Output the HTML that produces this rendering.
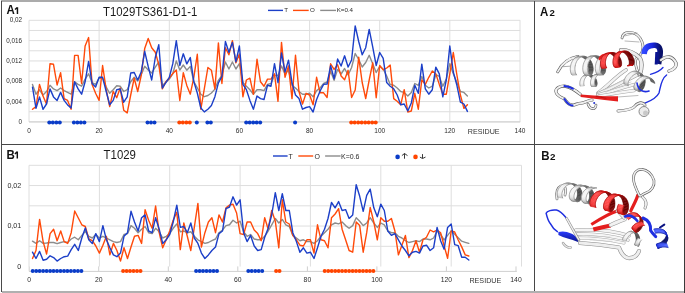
<!DOCTYPE html><html><head><meta charset="utf-8"><style>html,body{margin:0;padding:0;background:#fff;width:685px;height:293px;overflow:hidden}svg{display:block;font-family:'Liberation Sans', sans-serif;will-change:transform}</style></head><body><svg width="685" height="293" viewBox="0 0 685 293" font-family="'Liberation Sans', sans-serif">
<rect width="685" height="293" fill="#fff"/>
<line x1="29.0" y1="20.3" x2="520.2" y2="20.3" stroke="#dedede" stroke-width="1"/>
<line x1="29.0" y1="30.46" x2="520.2" y2="30.46" stroke="#dedede" stroke-width="1"/>
<line x1="29.0" y1="40.620000000000005" x2="520.2" y2="40.620000000000005" stroke="#dedede" stroke-width="1"/>
<line x1="29.0" y1="50.78" x2="520.2" y2="50.78" stroke="#dedede" stroke-width="1"/>
<line x1="29.0" y1="60.94" x2="520.2" y2="60.94" stroke="#dedede" stroke-width="1"/>
<line x1="29.0" y1="71.1" x2="520.2" y2="71.1" stroke="#dedede" stroke-width="1"/>
<line x1="29.0" y1="81.26" x2="520.2" y2="81.26" stroke="#dedede" stroke-width="1"/>
<line x1="29.0" y1="91.42" x2="520.2" y2="91.42" stroke="#dedede" stroke-width="1"/>
<line x1="29.0" y1="101.58" x2="520.2" y2="101.58" stroke="#dedede" stroke-width="1"/>
<line x1="29.0" y1="111.74" x2="520.2" y2="111.74" stroke="#dedede" stroke-width="1"/>
<line x1="29.0" y1="121.89999999999999" x2="520.2" y2="121.89999999999999" stroke="#dedede" stroke-width="1"/>
<line x1="29.0" y1="20.3" x2="29.0" y2="121.89999999999999" stroke="#dedede" stroke-width="1"/>
<line x1="99.1" y1="20.3" x2="99.1" y2="121.89999999999999" stroke="#dedede" stroke-width="1"/>
<line x1="169.3" y1="20.3" x2="169.3" y2="121.89999999999999" stroke="#dedede" stroke-width="1"/>
<line x1="239.4" y1="20.3" x2="239.4" y2="121.89999999999999" stroke="#dedede" stroke-width="1"/>
<line x1="309.6" y1="20.3" x2="309.6" y2="121.89999999999999" stroke="#dedede" stroke-width="1"/>
<line x1="379.7" y1="20.3" x2="379.7" y2="121.89999999999999" stroke="#dedede" stroke-width="1"/>
<line x1="449.8" y1="20.3" x2="449.8" y2="121.89999999999999" stroke="#dedede" stroke-width="1"/>
<line x1="520.0" y1="20.3" x2="520.0" y2="121.89999999999999" stroke="#dedede" stroke-width="1"/>
<text x="22" y="22.099999999999998" font-size="6.3" text-anchor="end" fill="#2a2a2a" font-weight="normal" >0,02</text>
<text x="22" y="42.800000000000004" font-size="6.3" text-anchor="end" fill="#2a2a2a" font-weight="normal" >0,016</text>
<text x="22" y="63.1" font-size="6.3" text-anchor="end" fill="#2a2a2a" font-weight="normal" >0,012</text>
<text x="22" y="83.4" font-size="6.3" text-anchor="end" fill="#2a2a2a" font-weight="normal" >0,008</text>
<text x="22" y="103.7" font-size="6.3" text-anchor="end" fill="#2a2a2a" font-weight="normal" >0,004</text>
<text x="22" y="124.10000000000001" font-size="6.3" text-anchor="end" fill="#2a2a2a" font-weight="normal" >0</text>
<text x="29.0" y="133.2" font-size="6.5" text-anchor="middle" fill="#2a2a2a" font-weight="normal" >0</text>
<text x="99.1" y="133.2" font-size="6.5" text-anchor="middle" fill="#2a2a2a" font-weight="normal" >20</text>
<text x="169.3" y="133.2" font-size="6.5" text-anchor="middle" fill="#2a2a2a" font-weight="normal" >40</text>
<text x="239.4" y="133.2" font-size="6.5" text-anchor="middle" fill="#2a2a2a" font-weight="normal" >60</text>
<text x="309.6" y="133.2" font-size="6.5" text-anchor="middle" fill="#2a2a2a" font-weight="normal" >80</text>
<text x="379.7" y="133.2" font-size="6.5" text-anchor="middle" fill="#2a2a2a" font-weight="normal" >100</text>
<text x="449.8" y="133.2" font-size="6.5" text-anchor="middle" fill="#2a2a2a" font-weight="normal" >120</text>
<text x="520.0" y="133.2" font-size="6.5" text-anchor="middle" fill="#2a2a2a" font-weight="normal" >140</text>
<line x1="29.0" y1="121.9" x2="520.2" y2="121.9" stroke="#cfcfcf" stroke-width="1"/>
<polyline points="32.5,84.4 36.0,94.2 39.5,89.8 43.0,95.1 46.5,91.5 50.0,85.3 53.5,88.9 57.1,90.6 60.6,88.0 64.1,90.6 67.6,92.4 71.1,94.2 74.6,81.8 78.1,84.4 81.6,86.2 85.1,79.1 88.6,73.8 92.1,82.7 95.6,84.4 99.1,78.2 102.6,78.2 106.2,87.1 109.7,93.3 113.2,89.7 116.7,85.8 120.2,86.2 123.7,91.5 127.2,89.7 130.7,81.8 134.2,77.3 137.7,80.9 141.2,74.7 144.7,66.3 148.2,70.0 151.7,73.0 155.3,67.2 158.8,62.0 162.3,85.3 165.8,82.6 169.3,79.1 172.8,73.8 176.3,61.0 179.8,70.0 183.3,65.0 186.8,70.2 190.3,66.4 193.8,81.6 197.3,87.9 200.8,94.2 204.3,96.7 207.9,95.5 211.4,93.0 214.9,89.1 218.4,80.3 221.9,75.3 225.4,62.0 228.9,69.0 232.4,62.0 235.9,69.0 239.4,63.7 242.9,82.6 246.4,86.2 249.9,89.7 253.4,94.2 257.0,89.7 260.5,89.7 264.0,90.6 267.5,84.4 271.0,83.5 274.5,75.5 278.0,75.5 281.5,66.0 285.0,74.0 288.5,70.0 292.0,85.3 295.5,88.0 299.0,91.5 302.5,94.2 306.1,94.2 309.6,93.3 313.1,96.8 316.6,90.6 320.1,88.0 323.6,83.5 327.1,82.0 330.6,71.3 334.1,80.3 337.6,69.4 341.1,74.0 344.6,68.5 348.1,75.0 351.6,67.5 355.2,53.5 358.7,59.5 362.2,67.0 365.7,62.5 369.2,55.3 372.7,63.7 376.2,72.5 379.7,66.3 383.2,69.0 386.7,76.0 390.2,84.4 393.7,85.3 397.2,88.0 400.7,91.5 404.2,92.4 407.8,96.0 411.3,92.4 414.8,83.5 418.3,85.3 421.8,76.4 425.3,85.3 428.8,88.0 432.3,86.2 435.8,74.7 439.3,76.4 442.8,86.2 446.3,79.0 449.8,63.7 453.3,73.8 456.9,82.6 460.4,91.5 463.9,92.4 467.4,96.0" fill="none" stroke="#8c8c8c" stroke-width="1.4" stroke-linejoin="round" stroke-linecap="round"/>
<polyline points="32.5,109.3 36.0,106.6 39.5,84.4 43.0,96.0 46.5,104.0 50.0,63.7 53.5,64.3 57.1,85.0 60.6,72.6 64.1,98.6 67.6,100.4 71.1,109.3 74.6,55.4 78.1,55.4 81.6,83.5 85.1,46.0 88.6,37.6 92.1,84.4 95.6,93.3 99.1,100.4 102.6,65.5 106.2,89.7 109.7,106.6 113.2,91.5 116.7,97.7 120.2,88.0 123.7,110.2 127.2,112.9 130.7,95.0 134.2,78.2 137.7,91.5 141.2,75.5 144.7,48.6 148.2,38.5 151.7,47.7 155.3,52.2 158.8,64.6 162.3,88.9 165.8,81.8 169.3,78.2 172.8,73.4 176.3,70.0 179.8,100.5 183.3,72.7 186.8,85.4 190.3,94.2 193.8,77.3 197.3,54.3 200.8,109.3 204.3,88.8 207.9,67.5 211.4,70.2 214.9,89.1 218.4,42.9 221.9,83.5 225.4,47.7 228.9,54.8 232.4,40.6 235.9,62.8 239.4,54.0 242.9,96.8 246.4,80.0 249.9,78.2 253.4,94.2 257.0,59.2 260.5,81.8 264.0,86.2 267.5,79.1 271.0,79.1 274.5,73.8 278.0,101.3 281.5,42.4 285.0,77.3 288.5,66.0 292.0,98.6 295.5,55.3 299.0,91.5 302.5,104.0 306.1,93.3 309.6,95.0 313.1,104.8 316.6,77.3 320.1,92.8 323.6,92.8 327.1,97.5 330.6,63.8 334.1,69.4 337.6,64.7 341.1,76.0 344.6,79.7 348.1,70.3 351.6,97.5 355.2,90.0 358.7,57.2 362.2,82.5 365.7,98.5 369.2,80.0 372.7,62.8 376.2,97.7 379.7,65.5 383.2,69.9 386.7,68.0 390.2,65.1 393.7,98.6 397.2,101.3 400.7,104.8 404.2,89.7 407.8,112.0 411.3,111.0 414.8,93.3 418.3,109.2 421.8,80.0 425.3,84.4 428.8,77.3 432.3,71.0 435.8,73.8 439.3,84.4 442.8,94.2 446.3,94.2 449.8,73.8 453.3,52.5 456.9,75.0 460.4,95.0 463.9,108.4 467.4,104.8" fill="none" stroke="#ff4a0a" stroke-width="1.4" stroke-linejoin="round" stroke-linecap="round"/>
<polyline points="32.5,87.1 36.0,108.4 39.5,96.9 43.0,109.3 46.5,104.0 50.0,88.9 53.5,96.9 57.1,100.4 60.6,92.4 64.1,100.4 67.6,104.9 71.1,108.0 74.6,81.8 78.1,88.9 81.6,94.2 85.1,81.8 88.6,61.4 92.1,83.5 95.6,87.0 99.1,77.3 102.6,77.3 106.2,91.5 109.7,104.8 113.2,100.4 116.7,89.7 120.2,88.9 123.7,102.2 127.2,96.8 130.7,73.0 134.2,72.5 137.7,80.0 141.2,72.0 144.7,51.3 148.2,66.5 151.7,80.0 155.3,57.5 158.8,44.7 162.3,88.0 165.8,82.6 169.3,77.3 172.8,63.7 176.3,40.6 179.8,65.5 183.3,53.8 186.8,63.9 190.3,57.6 193.8,81.6 197.3,93.0 200.8,108.0 204.3,111.9 207.9,109.3 211.4,105.6 214.9,96.7 218.4,82.8 221.9,76.5 225.4,41.5 228.9,52.2 232.4,42.4 235.9,61.9 239.4,46.0 242.9,84.4 246.4,89.7 249.9,100.4 253.4,109.2 257.0,96.0 260.5,98.6 264.0,99.5 267.5,85.3 271.0,86.2 274.5,63.7 278.0,82.6 281.5,53.0 285.0,72.0 288.5,60.1 292.0,82.6 295.5,95.0 299.0,98.6 302.5,109.2 306.1,107.5 309.6,106.6 313.1,112.0 316.6,99.5 320.1,91.0 323.6,84.4 327.1,84.0 330.6,65.6 334.1,78.8 337.6,59.0 341.1,66.0 344.6,55.8 348.1,67.0 351.6,60.0 355.2,25.9 358.7,41.5 362.2,54.8 365.7,47.7 369.2,29.4 372.7,46.8 376.2,65.5 379.7,52.5 383.2,58.4 386.7,82.6 390.2,86.2 393.7,88.8 397.2,95.0 400.7,104.8 404.2,104.0 407.8,111.0 411.3,103.0 414.8,85.3 418.3,93.3 421.8,64.2 425.3,88.8 428.8,94.2 432.3,89.7 435.8,67.2 439.3,73.8 442.8,96.8 446.3,80.0 449.8,46.0 453.3,72.0 456.9,85.3 460.4,102.2 463.9,104.0 467.4,111.4" fill="none" stroke="#1c3fc8" stroke-width="1.4" stroke-linejoin="round" stroke-linecap="round"/>
<circle cx="49.3" cy="122.5" r="2.0" fill="#0a3cc8"/>
<circle cx="52.8" cy="122.5" r="2.0" fill="#0a3cc8"/>
<circle cx="56.3" cy="122.5" r="2.0" fill="#0a3cc8"/>
<circle cx="59.8" cy="122.5" r="2.0" fill="#0a3cc8"/>
<circle cx="73.9" cy="122.5" r="2.0" fill="#0a3cc8"/>
<circle cx="77.4" cy="122.5" r="2.0" fill="#0a3cc8"/>
<circle cx="80.9" cy="122.5" r="2.0" fill="#0a3cc8"/>
<circle cx="84.4" cy="122.5" r="2.0" fill="#0a3cc8"/>
<circle cx="147.5" cy="122.5" r="2.0" fill="#0a3cc8"/>
<circle cx="151.0" cy="122.5" r="2.0" fill="#0a3cc8"/>
<circle cx="154.5" cy="122.5" r="2.0" fill="#0a3cc8"/>
<circle cx="196.8" cy="122.5" r="2.0" fill="#0a3cc8"/>
<circle cx="207.4" cy="122.5" r="2.0" fill="#0a3cc8"/>
<circle cx="210.8" cy="122.5" r="2.0" fill="#0a3cc8"/>
<circle cx="246.2" cy="122.5" r="2.0" fill="#0a3cc8"/>
<circle cx="249.7" cy="122.5" r="2.0" fill="#0a3cc8"/>
<circle cx="253.2" cy="122.5" r="2.0" fill="#0a3cc8"/>
<circle cx="256.7" cy="122.5" r="2.0" fill="#0a3cc8"/>
<circle cx="260.2" cy="122.5" r="2.0" fill="#0a3cc8"/>
<circle cx="295.1" cy="122.5" r="2.0" fill="#0a3cc8"/>
<circle cx="179.3" cy="122.5" r="2.0" fill="#ff4500"/>
<circle cx="182.8" cy="122.5" r="2.0" fill="#ff4500"/>
<circle cx="186.3" cy="122.5" r="2.0" fill="#ff4500"/>
<circle cx="189.8" cy="122.5" r="2.0" fill="#ff4500"/>
<circle cx="351.2" cy="122.5" r="2.0" fill="#ff4500"/>
<circle cx="354.7" cy="122.5" r="2.0" fill="#ff4500"/>
<circle cx="358.2" cy="122.5" r="2.0" fill="#ff4500"/>
<circle cx="361.7" cy="122.5" r="2.0" fill="#ff4500"/>
<circle cx="365.2" cy="122.5" r="2.0" fill="#ff4500"/>
<circle cx="368.7" cy="122.5" r="2.0" fill="#ff4500"/>
<circle cx="372.2" cy="122.5" r="2.0" fill="#ff4500"/>
<circle cx="375.7" cy="122.5" r="2.0" fill="#ff4500"/>
<text x="103" y="15.7" font-size="12.4" text-anchor="start" fill="#1a1a1a" font-weight="normal" textLength="94.3" lengthAdjust="spacingAndGlyphs">T1029TS361-D1-1</text>
<line x1="268" y1="10.4" x2="283" y2="10.4" stroke="#1c3fc8" stroke-width="1.4"/>
<text x="284.2" y="12.4" font-size="6.2" text-anchor="start" fill="#2a2a2a" font-weight="normal" >T</text>
<line x1="293" y1="10.4" x2="308.7" y2="10.4" stroke="#ff4a0a" stroke-width="1.4"/>
<text x="310" y="12.4" font-size="6.2" text-anchor="start" fill="#2a2a2a" font-weight="normal" >O</text>
<line x1="320.2" y1="10.4" x2="336" y2="10.4" stroke="#8c8c8c" stroke-width="1.4"/>
<text x="336.7" y="12.4" font-size="6.2" text-anchor="start" fill="#2a2a2a" font-weight="normal" >K=0.4</text>
<text x="467.8" y="133.7" font-size="8.0" text-anchor="start" fill="#333" font-weight="normal" textLength="31.8" lengthAdjust="spacingAndGlyphs">RESIDUE</text>
<line x1="29.0" y1="165.3" x2="521.5" y2="165.3" stroke="#dedede" stroke-width="1"/>
<line x1="29.0" y1="185.55" x2="521.5" y2="185.55" stroke="#dedede" stroke-width="1"/>
<line x1="29.0" y1="205.8" x2="521.5" y2="205.8" stroke="#dedede" stroke-width="1"/>
<line x1="29.0" y1="226.05" x2="521.5" y2="226.05" stroke="#dedede" stroke-width="1"/>
<line x1="29.0" y1="246.3" x2="521.5" y2="246.3" stroke="#dedede" stroke-width="1"/>
<line x1="29.0" y1="165.3" x2="29.0" y2="266.55" stroke="#dedede" stroke-width="1"/>
<line x1="99.4" y1="165.3" x2="99.4" y2="266.55" stroke="#dedede" stroke-width="1"/>
<line x1="169.7" y1="165.3" x2="169.7" y2="266.55" stroke="#dedede" stroke-width="1"/>
<line x1="240.1" y1="165.3" x2="240.1" y2="266.55" stroke="#dedede" stroke-width="1"/>
<line x1="310.4" y1="165.3" x2="310.4" y2="266.55" stroke="#dedede" stroke-width="1"/>
<line x1="380.8" y1="165.3" x2="380.8" y2="266.55" stroke="#dedede" stroke-width="1"/>
<line x1="451.2" y1="165.3" x2="451.2" y2="266.55" stroke="#dedede" stroke-width="1"/>
<line x1="521.5" y1="165.3" x2="521.5" y2="266.55" stroke="#dedede" stroke-width="1"/>
<text x="21.2" y="187.75" font-size="7.1" text-anchor="end" fill="#2a2a2a" font-weight="normal" >0,02</text>
<text x="21.2" y="228.1" font-size="7.1" text-anchor="end" fill="#2a2a2a" font-weight="normal" >0,01</text>
<text x="21.2" y="268.5" font-size="7.1" text-anchor="end" fill="#2a2a2a" font-weight="normal" >0</text>
<text x="29.2" y="282.2" font-size="6.8" text-anchor="middle" fill="#2a2a2a" font-weight="normal" >0</text>
<text x="98.7" y="282.2" font-size="6.8" text-anchor="middle" fill="#2a2a2a" font-weight="normal" >20</text>
<text x="168.3" y="282.2" font-size="6.8" text-anchor="middle" fill="#2a2a2a" font-weight="normal" >40</text>
<text x="237.8" y="282.2" font-size="6.8" text-anchor="middle" fill="#2a2a2a" font-weight="normal" >60</text>
<text x="307.4" y="282.2" font-size="6.8" text-anchor="middle" fill="#2a2a2a" font-weight="normal" >80</text>
<text x="376.9" y="282.2" font-size="6.8" text-anchor="middle" fill="#2a2a2a" font-weight="normal" >100</text>
<text x="446.4" y="282.2" font-size="6.8" text-anchor="middle" fill="#2a2a2a" font-weight="normal" >120</text>
<text x="516.0" y="282.2" font-size="6.8" text-anchor="middle" fill="#2a2a2a" font-weight="normal" >140</text>
<line x1="29.0" y1="271.4" x2="516.8" y2="271.4" stroke="#cfcfcf" stroke-width="1"/>
<polyline points="32.5,241.2 36.0,243.4 39.6,240.7 43.1,243.4 46.6,243.0 50.1,242.5 53.6,242.5 57.1,243.7 60.7,242.5 64.2,241.6 67.7,242.5 71.2,239.0 74.7,237.2 78.3,239.8 81.8,235.4 85.3,231.5 88.8,236.3 92.3,238.0 95.8,234.5 99.4,238.0 102.9,236.3 106.4,238.0 109.9,239.8 113.4,241.6 116.9,242.5 120.5,241.6 124.0,234.5 127.5,233.6 131.0,225.6 134.5,228.3 138.1,232.7 141.6,229.2 145.1,226.5 148.6,232.7 152.1,233.6 155.6,228.3 159.2,231.8 162.7,238.0 166.2,236.3 169.7,233.6 173.2,228.3 176.8,223.9 180.3,231.8 183.8,231.0 187.3,232.7 190.8,231.8 194.3,236.3 197.9,239.8 201.4,241.6 204.9,243.4 208.4,242.5 211.9,240.7 215.5,239.0 219.0,232.7 222.5,230.0 226.0,225.6 229.5,224.8 233.0,220.3 236.6,223.0 240.1,221.2 243.6,231.8 247.1,236.3 250.6,234.5 254.2,239.0 257.7,239.8 261.2,239.8 264.7,236.3 268.2,231.0 271.7,224.8 275.3,218.5 278.8,223.0 282.3,219.4 285.8,224.8 289.3,226.5 292.8,235.4 296.4,238.0 299.9,240.7 303.4,239.8 306.9,241.6 310.4,241.6 314.0,243.4 317.5,240.7 321.0,236.3 324.5,232.7 328.0,229.2 331.5,224.8 335.1,223.0 338.6,223.9 342.1,222.0 345.6,225.6 349.1,228.3 352.7,225.6 356.2,217.7 359.7,221.2 363.2,225.6 366.7,223.0 370.2,217.7 373.8,223.0 377.3,227.4 380.8,223.0 384.3,224.8 387.8,231.0 391.4,232.7 394.9,232.7 398.4,236.3 401.9,238.0 405.4,240.7 408.9,242.5 412.5,241.6 416.0,240.7 419.5,241.6 423.0,239.0 426.5,239.0 430.1,239.8 433.6,238.0 437.1,231.0 440.6,234.5 444.1,240.0 447.6,235.4 451.2,230.9 454.7,234.3 458.2,237.7 461.7,241.2 465.2,242.3 468.8,243.4" fill="none" stroke="#8c8c8c" stroke-width="1.4" stroke-linejoin="round" stroke-linecap="round"/>
<polyline points="32.5,258.5 36.0,250.5 39.6,219.4 43.1,241.6 46.6,254.0 50.1,233.6 53.6,229.2 57.1,240.7 60.7,231.0 64.2,241.6 67.7,243.4 71.2,232.7 74.7,211.0 78.3,218.0 81.8,224.8 85.3,226.5 88.8,239.0 92.3,240.7 95.8,246.0 99.4,253.1 102.9,245.2 106.4,236.3 109.9,254.9 113.4,243.4 116.9,250.5 120.5,261.1 124.0,247.8 127.5,258.5 131.0,247.0 134.5,236.3 138.1,235.4 141.6,243.4 145.1,209.6 148.6,220.3 152.1,228.3 155.6,206.0 159.2,232.7 162.7,247.8 166.2,239.8 169.7,231.0 173.2,220.3 176.8,212.2 180.3,249.6 183.8,223.0 187.3,236.3 190.8,250.5 194.3,227.4 197.9,203.4 201.4,247.0 204.9,232.7 208.4,222.0 211.9,217.7 215.5,232.7 219.0,214.9 222.5,222.0 226.0,207.8 229.5,205.1 233.0,204.2 236.6,213.0 240.1,233.6 243.6,234.5 247.1,222.0 250.6,222.0 254.2,230.0 257.7,233.6 261.2,240.7 264.7,217.7 268.2,229.2 271.7,210.5 275.3,221.2 278.8,247.8 282.3,199.8 285.8,222.0 289.3,224.0 292.8,235.4 296.4,239.8 299.9,245.2 303.4,246.0 306.9,239.8 310.4,239.8 314.0,253.1 317.5,224.8 321.0,239.8 324.5,240.7 328.0,247.8 331.5,217.7 335.1,214.0 338.6,208.7 342.1,229.2 345.6,239.8 349.1,250.5 352.7,252.2 356.2,222.0 359.7,225.6 363.2,252.2 366.7,232.7 370.2,207.4 373.8,222.0 377.3,239.8 380.8,217.7 384.3,221.2 387.8,221.2 391.4,218.5 394.9,231.0 398.4,254.9 401.9,245.2 405.4,235.4 408.9,257.6 412.5,250.5 416.0,240.7 419.5,252.2 423.0,239.8 426.5,237.2 430.1,230.0 433.6,231.8 437.1,230.0 440.6,232.7 444.1,245.7 447.6,258.3 451.2,230.9 454.7,232.0 458.2,240.0 461.7,246.9 465.2,254.9 468.8,256.0" fill="none" stroke="#ff4a0a" stroke-width="1.4" stroke-linejoin="round" stroke-linecap="round"/>
<polyline points="32.5,252.2 36.0,258.5 39.6,251.4 43.1,260.2 46.6,259.3 50.1,255.8 53.6,257.6 57.1,261.1 60.7,258.5 64.2,256.7 67.7,256.1 71.2,249.6 74.7,244.3 78.3,250.5 81.8,238.0 85.3,228.0 88.8,239.8 92.3,243.4 95.8,233.6 99.4,241.6 102.9,225.6 106.4,239.8 109.9,247.8 113.4,254.9 116.9,256.7 120.5,253.1 124.0,236.3 127.5,232.7 131.0,211.3 134.5,222.0 138.1,231.0 141.6,217.7 145.1,214.9 148.6,231.0 152.1,232.7 155.6,217.7 159.2,229.2 162.7,243.4 166.2,239.8 169.7,234.5 173.2,222.0 176.8,205.1 180.3,227.4 183.8,226.5 187.3,232.7 190.8,223.0 194.3,238.0 197.9,243.4 201.4,253.1 204.9,258.5 208.4,254.9 211.9,250.5 215.5,247.0 219.0,233.6 222.5,231.0 226.0,208.7 229.5,207.0 233.0,196.8 236.6,205.1 240.1,199.8 243.6,232.7 247.1,241.6 250.6,235.4 254.2,246.0 257.7,250.5 261.2,249.6 264.7,237.2 268.2,228.3 271.7,215.0 275.3,192.7 278.8,210.5 282.3,193.6 285.8,210.5 289.3,210.5 292.8,232.7 296.4,241.6 299.9,252.2 303.4,247.8 306.9,253.1 310.4,252.2 314.0,258.5 317.5,247.8 321.0,236.3 324.5,229.2 328.0,218.5 331.5,202.5 335.1,207.8 338.6,201.6 342.1,210.5 345.6,209.6 349.1,218.4 352.7,214.9 356.2,184.7 359.7,196.3 363.2,211.3 366.7,195.4 370.2,189.2 373.8,207.8 377.3,216.7 380.8,204.2 384.3,210.5 387.8,231.0 391.4,235.4 394.9,233.6 398.4,239.8 401.9,246.0 405.4,250.5 408.9,255.8 412.5,252.2 416.0,251.4 419.5,253.1 423.0,246.0 426.5,245.2 430.1,250.5 433.6,247.8 437.1,227.4 440.6,240.7 444.1,249.2 447.6,227.4 451.2,224.0 454.7,244.6 458.2,245.7 461.7,257.2 465.2,257.2 468.8,260.0" fill="none" stroke="#1c3fc8" stroke-width="1.4" stroke-linejoin="round" stroke-linecap="round"/>
<circle cx="32.7" cy="271.1" r="2.0" fill="#0a3cc8"/>
<circle cx="36.2" cy="271.1" r="2.0" fill="#0a3cc8"/>
<circle cx="39.6" cy="271.1" r="2.0" fill="#0a3cc8"/>
<circle cx="43.1" cy="271.1" r="2.0" fill="#0a3cc8"/>
<circle cx="46.6" cy="271.1" r="2.0" fill="#0a3cc8"/>
<circle cx="50.1" cy="271.1" r="2.0" fill="#0a3cc8"/>
<circle cx="53.5" cy="271.1" r="2.0" fill="#0a3cc8"/>
<circle cx="57.0" cy="271.1" r="2.0" fill="#0a3cc8"/>
<circle cx="60.5" cy="271.1" r="2.0" fill="#0a3cc8"/>
<circle cx="64.0" cy="271.1" r="2.0" fill="#0a3cc8"/>
<circle cx="67.4" cy="271.1" r="2.0" fill="#0a3cc8"/>
<circle cx="70.9" cy="271.1" r="2.0" fill="#0a3cc8"/>
<circle cx="74.4" cy="271.1" r="2.0" fill="#0a3cc8"/>
<circle cx="77.9" cy="271.1" r="2.0" fill="#0a3cc8"/>
<circle cx="81.4" cy="271.1" r="2.0" fill="#0a3cc8"/>
<circle cx="196.1" cy="271.1" r="2.0" fill="#0a3cc8"/>
<circle cx="199.6" cy="271.1" r="2.0" fill="#0a3cc8"/>
<circle cx="203.0" cy="271.1" r="2.0" fill="#0a3cc8"/>
<circle cx="206.5" cy="271.1" r="2.0" fill="#0a3cc8"/>
<circle cx="210.0" cy="271.1" r="2.0" fill="#0a3cc8"/>
<circle cx="213.5" cy="271.1" r="2.0" fill="#0a3cc8"/>
<circle cx="217.0" cy="271.1" r="2.0" fill="#0a3cc8"/>
<circle cx="248.3" cy="271.1" r="2.0" fill="#0a3cc8"/>
<circle cx="251.7" cy="271.1" r="2.0" fill="#0a3cc8"/>
<circle cx="255.2" cy="271.1" r="2.0" fill="#0a3cc8"/>
<circle cx="258.7" cy="271.1" r="2.0" fill="#0a3cc8"/>
<circle cx="262.2" cy="271.1" r="2.0" fill="#0a3cc8"/>
<circle cx="123.1" cy="271.1" r="2.0" fill="#ff4500"/>
<circle cx="126.6" cy="271.1" r="2.0" fill="#ff4500"/>
<circle cx="130.0" cy="271.1" r="2.0" fill="#ff4500"/>
<circle cx="133.5" cy="271.1" r="2.0" fill="#ff4500"/>
<circle cx="137.0" cy="271.1" r="2.0" fill="#ff4500"/>
<circle cx="140.5" cy="271.1" r="2.0" fill="#ff4500"/>
<circle cx="276.1" cy="271.1" r="2.0" fill="#ff4500"/>
<circle cx="279.5" cy="271.1" r="2.0" fill="#ff4500"/>
<circle cx="324.7" cy="271.1" r="2.0" fill="#ff4500"/>
<circle cx="328.2" cy="271.1" r="2.0" fill="#ff4500"/>
<circle cx="331.7" cy="271.1" r="2.0" fill="#ff4500"/>
<circle cx="335.2" cy="271.1" r="2.0" fill="#ff4500"/>
<circle cx="338.7" cy="271.1" r="2.0" fill="#ff4500"/>
<circle cx="342.1" cy="271.1" r="2.0" fill="#ff4500"/>
<circle cx="345.6" cy="271.1" r="2.0" fill="#ff4500"/>
<circle cx="349.1" cy="271.1" r="2.0" fill="#ff4500"/>
<circle cx="352.6" cy="271.1" r="2.0" fill="#ff4500"/>
<circle cx="356.0" cy="271.1" r="2.0" fill="#ff4500"/>
<circle cx="359.5" cy="271.1" r="2.0" fill="#ff4500"/>
<circle cx="363.0" cy="271.1" r="2.0" fill="#ff4500"/>
<circle cx="366.5" cy="271.1" r="2.0" fill="#ff4500"/>
<circle cx="369.9" cy="271.1" r="2.0" fill="#ff4500"/>
<circle cx="373.4" cy="271.1" r="2.0" fill="#ff4500"/>
<line x1="29.2" y1="266.4" x2="29.2" y2="271.4" stroke="#cfcfcf" stroke-width="1"/>
<line x1="98.7" y1="266.4" x2="98.7" y2="271.4" stroke="#cfcfcf" stroke-width="1"/>
<line x1="168.3" y1="266.4" x2="168.3" y2="271.4" stroke="#cfcfcf" stroke-width="1"/>
<line x1="237.8" y1="266.4" x2="237.8" y2="271.4" stroke="#cfcfcf" stroke-width="1"/>
<line x1="307.4" y1="266.4" x2="307.4" y2="271.4" stroke="#cfcfcf" stroke-width="1"/>
<line x1="376.9" y1="266.4" x2="376.9" y2="271.4" stroke="#cfcfcf" stroke-width="1"/>
<line x1="446.4" y1="266.4" x2="446.4" y2="271.4" stroke="#cfcfcf" stroke-width="1"/>
<line x1="516.0" y1="266.4" x2="516.0" y2="271.4" stroke="#cfcfcf" stroke-width="1"/>
<text x="103.6" y="159.2" font-size="12.2" text-anchor="start" fill="#1a1a1a" font-weight="normal" textLength="32.3" lengthAdjust="spacingAndGlyphs">T1029</text>
<line x1="273" y1="156" x2="287.6" y2="156" stroke="#1c3fc8" stroke-width="1.4"/>
<text x="288.6" y="158.5" font-size="7.0" text-anchor="start" fill="#2a2a2a" font-weight="normal" >T</text>
<line x1="298.3" y1="156" x2="313.2" y2="156" stroke="#ff4a0a" stroke-width="1.4"/>
<text x="314.4" y="158.5" font-size="7.0" text-anchor="start" fill="#2a2a2a" font-weight="normal" >O</text>
<line x1="325.1" y1="156" x2="340.6" y2="156" stroke="#8c8c8c" stroke-width="1.4"/>
<text x="341.0" y="158.5" font-size="7.0" text-anchor="start" fill="#2a2a2a" font-weight="normal" >K=0.6</text>
<circle cx="397.6" cy="156.9" r="2.3" fill="#0a3cc8"/>
<circle cx="415.5" cy="156.9" r="2.3" fill="#ff4500"/>
<path d="M404.5 153.4 V158.7 M401.9 155.6 L404.5 153.5 L407.5 155.6" fill="none" stroke="#3a3a3a" stroke-width="1"/>
<path d="M422.5 154.1 V158.4 M419.9 157.1 L422.5 158.5 L425.5 157.1" fill="none" stroke="#3a3a3a" stroke-width="1"/>
<text x="469.4" y="283.2" font-size="8.0" text-anchor="start" fill="#333" font-weight="normal" textLength="31.9" lengthAdjust="spacingAndGlyphs">RESIDUE</text>
<text transform="translate(6.6,14) scale(0.87,1)" font-size="13.2" font-weight="bold" fill="#111">A</text>
<path d="M17.45,14 V7.2 M15.05,9.50 L17.25,7.40" fill="none" stroke="#111" stroke-width="1.45"/>
<text transform="translate(540.0,16) scale(0.87,1)" font-size="13.2" font-weight="bold" fill="#111">A</text>
<text x="549.6" y="16" font-size="9.6" font-weight="bold" fill="#111">2</text>
<text transform="translate(6.4,158.6) scale(0.87,1)" font-size="13.2" font-weight="bold" fill="#111">B</text>
<path d="M17.30,158.4 V151.6 M14.90,153.90 L17.10,151.80" fill="none" stroke="#111" stroke-width="1.45"/>
<text transform="translate(541.2,160) scale(0.87,1)" font-size="13.2" font-weight="bold" fill="#111">B</text>
<text x="550.0" y="160" font-size="9.8" font-weight="bold" fill="#111">2</text>
<defs>
<linearGradient id="gH" x1="0" y1="0" x2="1" y2="0">
<stop offset="0" stop-color="#fafafa"/><stop offset="0.55" stop-color="#d8d8d8"/><stop offset="1" stop-color="#5a5a5a"/></linearGradient>
<linearGradient id="gH2" x1="0" y1="0" x2="1" y2="0">
<stop offset="0" stop-color="#6a6a6a"/><stop offset="0.45" stop-color="#e0e0e0"/><stop offset="1" stop-color="#fafafa"/></linearGradient>
<linearGradient id="rH" x1="0" y1="0" x2="1" y2="0">
<stop offset="0" stop-color="#ff3a3a"/><stop offset="0.5" stop-color="#e01010"/><stop offset="1" stop-color="#7a0000"/></linearGradient>
<linearGradient id="bH" x1="0" y1="0" x2="1" y2="0">
<stop offset="0" stop-color="#3048ff"/><stop offset="0.5" stop-color="#1a28e0"/><stop offset="1" stop-color="#08106a"/></linearGradient>
<linearGradient id="bV" x1="0" y1="0" x2="0" y2="1">
<stop offset="0" stop-color="#2a3cff"/><stop offset="1" stop-color="#0a1490"/></linearGradient>
</defs><g><path d="M598,93 C608,86 616,76 626,70" fill="none" stroke="#9a9a9a" stroke-width="3.7" stroke-linecap="round" stroke-linejoin="round"/><path d="M598,93 C608,86 616,76 626,70" fill="none" stroke="#f2f2f2" stroke-width="2.6" stroke-linecap="round" stroke-linejoin="round"/><path d="M598,94 C612,88 626,80 639,74" fill="none" stroke="#9a9a9a" stroke-width="3.7" stroke-linecap="round" stroke-linejoin="round"/><path d="M598,94 C612,88 626,80 639,74" fill="none" stroke="#f2f2f2" stroke-width="2.6" stroke-linecap="round" stroke-linejoin="round"/><path d="M598,95 C612,91 624,87 634,84.6" fill="none" stroke="#a0a0a0" stroke-width="3.5" stroke-linecap="round" stroke-linejoin="round"/><path d="M598,95 C612,91 624,87 634,84.6" fill="none" stroke="#f4f4f4" stroke-width="2.4" stroke-linecap="round" stroke-linejoin="round"/><path d="M599,96 C612,94 624,92 634,90.7" fill="none" stroke="#a8a8a8" stroke-width="3.3000000000000003" stroke-linecap="round" stroke-linejoin="round"/><path d="M599,96 C612,94 624,92 634,90.7" fill="none" stroke="#f6f6f6" stroke-width="2.2" stroke-linecap="round" stroke-linejoin="round"/><path d="M618,97 L638,95.5" fill="none" stroke="#bdbdbd" stroke-width="1.0" stroke-linecap="round" stroke-linejoin="round"/><path d="M604,90 L628,78 M606,92 L631,82" fill="none" stroke="#c4c4c4" stroke-width="0.7" stroke-linecap="round" stroke-linejoin="round"/><path d="M622,38 C623,31 634,30 640,38 C645,46 644,53 636,59 C634,64 637,70 639,75" fill="none" stroke="#5c5c5c" stroke-width="2.7" stroke-linecap="round" stroke-linejoin="round"/><path d="M622,38 C623,31 634,30 640,38 C645,46 644,53 636,59 C634,64 637,70 639,75" fill="none" stroke="#efefef" stroke-width="1.6" stroke-linecap="round" stroke-linejoin="round"/><path d="M624.5,36 L637,33 M625,41 L639,42" fill="none" stroke="#888" stroke-width="0.6" stroke-linecap="round" stroke-linejoin="round"/><path d="M621,50 C628,50 635,53 640,58 C642,62 642,68 640,74" fill="none" stroke="#6a6a6a" stroke-width="4.1" stroke-linecap="round" stroke-linejoin="round"/><path d="M621,50 C628,50 635,53 640,58 C642,62 642,68 640,74" fill="none" stroke="#ededed" stroke-width="3.0" stroke-linecap="round" stroke-linejoin="round"/><path d="M557.7,71.8 C562,63 570,58 578,56.5" fill="none" stroke="#555" stroke-width="2.9000000000000004" stroke-linecap="round" stroke-linejoin="round"/><path d="M557.7,71.8 C562,63 570,58 578,56.5" fill="none" stroke="#efefef" stroke-width="1.8" stroke-linecap="round" stroke-linejoin="round"/><path d="M562.8,66.7 L575.6,65.8" fill="none" stroke="#8a8a8a" stroke-width="0.7" stroke-linecap="round" stroke-linejoin="round"/><polygon points="586.35,74.86 587.27,74.97 591.27,74.72 590.34,74.61" fill="#727272" stroke="#727272" stroke-width="0.5" stroke-linejoin="round"/><polygon points="587.27,74.97 588.18,75.26 592.18,75.01 591.27,74.72" fill="#6a6a6a" stroke="#6a6a6a" stroke-width="0.5" stroke-linejoin="round"/><polygon points="588.18,75.26 589.06,75.72 593.05,75.47 592.18,75.01" fill="#636363" stroke="#636363" stroke-width="0.5" stroke-linejoin="round"/><polygon points="589.06,75.72 589.88,76.34 593.87,76.09 593.05,75.47" fill="#5c5c5c" stroke="#5c5c5c" stroke-width="0.5" stroke-linejoin="round"/><polygon points="589.88,76.34 590.63,77.08 594.62,76.83 593.87,76.09" fill="#565656" stroke="#565656" stroke-width="0.5" stroke-linejoin="round"/><polygon points="590.63,77.08 591.30,77.94 595.30,77.69 594.62,76.83" fill="#515151" stroke="#515151" stroke-width="0.5" stroke-linejoin="round"/><polygon points="591.30,77.94 591.88,78.89 595.87,78.64 595.30,77.69" fill="#4d4d4d" stroke="#4d4d4d" stroke-width="0.5" stroke-linejoin="round"/><polygon points="591.88,78.89 592.36,79.89 596.35,79.64 595.87,78.64" fill="#4b4b4b" stroke="#4b4b4b" stroke-width="0.5" stroke-linejoin="round"/><polygon points="592.36,79.89 592.73,80.91 596.72,80.66 596.35,79.64" fill="#4a4a4a" stroke="#4a4a4a" stroke-width="0.5" stroke-linejoin="round"/><polygon points="592.73,80.91 592.98,81.93 596.98,81.68 596.72,80.66" fill="#4b4b4b" stroke="#4b4b4b" stroke-width="0.5" stroke-linejoin="round"/><polygon points="592.98,81.93 593.13,82.91 597.13,82.66 596.98,81.68" fill="#4d4d4d" stroke="#4d4d4d" stroke-width="0.5" stroke-linejoin="round"/><polygon points="593.13,82.91 593.18,83.82 597.17,83.57 597.13,82.66" fill="#505050" stroke="#505050" stroke-width="0.5" stroke-linejoin="round"/><polygon points="593.18,83.82 593.13,84.63 597.12,84.38 597.17,83.57" fill="#555555" stroke="#555555" stroke-width="0.5" stroke-linejoin="round"/><polygon points="593.13,84.63 592.99,85.32 596.99,85.08 597.12,84.38" fill="#5b5b5b" stroke="#5b5b5b" stroke-width="0.5" stroke-linejoin="round"/><polygon points="592.99,85.32 592.78,85.87 596.78,85.62 596.99,85.08" fill="#626262" stroke="#626262" stroke-width="0.5" stroke-linejoin="round"/><polygon points="592.78,85.87 592.52,86.26 596.51,86.01 596.78,85.62" fill="#696969" stroke="#696969" stroke-width="0.5" stroke-linejoin="round"/><polygon points="592.52,86.26 592.21,86.47 596.20,86.22 596.51,86.01" fill="#717171" stroke="#717171" stroke-width="0.5" stroke-linejoin="round"/><polygon points="592.21,86.47 591.88,86.50 595.87,86.25 596.20,86.22" fill="#797979" stroke="#797979" stroke-width="0.5" stroke-linejoin="round"/><polygon points="597.02,74.19 597.94,74.31 601.93,74.06 601.01,73.94" fill="#727272" stroke="#727272" stroke-width="0.5" stroke-linejoin="round"/><polygon points="597.94,74.31 598.85,74.60 602.84,74.35 601.93,74.06" fill="#6a6a6a" stroke="#6a6a6a" stroke-width="0.5" stroke-linejoin="round"/><polygon points="598.85,74.60 599.72,75.06 603.72,74.81 602.84,74.35" fill="#636363" stroke="#636363" stroke-width="0.5" stroke-linejoin="round"/><polygon points="580.28,86.19 580.05,85.54 584.05,85.29 584.28,85.94" fill="#c9c9c9" stroke="#c9c9c9" stroke-width="0.5" stroke-linejoin="round"/><polygon points="580.05,85.54 579.89,84.76 583.89,84.51 584.05,85.29" fill="#dddddd" stroke="#dddddd" stroke-width="0.5" stroke-linejoin="round"/><polygon points="579.89,84.76 579.81,83.86 583.81,83.61 583.89,84.51" fill="#e7e7e7" stroke="#e7e7e7" stroke-width="0.5" stroke-linejoin="round"/><polygon points="579.81,83.86 579.83,82.88 583.82,82.63 583.81,83.61" fill="#f1f1f1" stroke="#f1f1f1" stroke-width="0.5" stroke-linejoin="round"/><polygon points="579.83,82.88 579.95,81.84 583.94,81.59 583.82,82.63" fill="#f4f4f4" stroke="#f4f4f4" stroke-width="0.5" stroke-linejoin="round"/><polygon points="579.95,81.84 580.17,80.78 584.16,80.53 583.94,81.59" fill="#f4f4f4" stroke="#f4f4f4" stroke-width="0.5" stroke-linejoin="round"/><polygon points="580.17,80.78 580.50,79.73 584.50,79.48 584.16,80.53" fill="#f4f4f4" stroke="#f4f4f4" stroke-width="0.5" stroke-linejoin="round"/><polygon points="580.50,79.73 580.95,78.71 584.94,78.46 584.50,79.48" fill="#f4f4f4" stroke="#f4f4f4" stroke-width="0.5" stroke-linejoin="round"/><polygon points="580.95,78.71 581.49,77.76 585.49,77.51 584.94,78.46" fill="#f4f4f4" stroke="#f4f4f4" stroke-width="0.5" stroke-linejoin="round"/><polygon points="581.49,77.76 582.14,76.91 586.13,76.66 585.49,77.51" fill="#f4f4f4" stroke="#f4f4f4" stroke-width="0.5" stroke-linejoin="round"/><polygon points="582.14,76.91 582.87,76.18 586.86,75.93 586.13,76.66" fill="#e4e4e4" stroke="#e4e4e4" stroke-width="0.5" stroke-linejoin="round"/><polygon points="582.87,76.18 583.67,75.60 587.66,75.35 586.86,75.93" fill="#d1d1d1" stroke="#d1d1d1" stroke-width="0.5" stroke-linejoin="round"/><polygon points="583.67,75.60 584.53,75.18 588.52,74.93 587.66,75.35" fill="#bbbbbb" stroke="#bbbbbb" stroke-width="0.5" stroke-linejoin="round"/><polygon points="584.53,75.18 585.43,74.93 589.42,74.68 588.52,74.93" fill="#a5a5a5" stroke="#a5a5a5" stroke-width="0.5" stroke-linejoin="round"/><polygon points="585.43,74.93 586.35,74.86 590.34,74.61 589.42,74.68" fill="#8d8d8d" stroke="#8d8d8d" stroke-width="0.5" stroke-linejoin="round"/><polygon points="591.88,86.50 591.55,86.35 595.54,86.10 595.87,86.25" fill="#999999" stroke="#999999" stroke-width="0.5" stroke-linejoin="round"/><polygon points="591.55,86.35 591.23,86.02 595.22,85.77 595.54,86.10" fill="#a8a8a8" stroke="#a8a8a8" stroke-width="0.5" stroke-linejoin="round"/><polygon points="591.23,86.02 590.95,85.53 594.94,85.28 595.22,85.77" fill="#b8b8b8" stroke="#b8b8b8" stroke-width="0.5" stroke-linejoin="round"/><polygon points="590.95,85.53 590.72,84.88 594.71,84.63 594.94,85.28" fill="#c9c9c9" stroke="#c9c9c9" stroke-width="0.5" stroke-linejoin="round"/><polygon points="590.72,84.88 590.56,84.09 594.55,83.84 594.71,84.63" fill="#dddddd" stroke="#dddddd" stroke-width="0.5" stroke-linejoin="round"/><polygon points="590.56,84.09 590.48,83.19 594.47,82.95 594.55,83.84" fill="#e7e7e7" stroke="#e7e7e7" stroke-width="0.5" stroke-linejoin="round"/><polygon points="590.48,83.19 590.50,82.21 594.49,81.96 594.47,82.95" fill="#f1f1f1" stroke="#f1f1f1" stroke-width="0.5" stroke-linejoin="round"/><polygon points="590.50,82.21 590.61,81.18 594.61,80.93 594.49,81.96" fill="#f4f4f4" stroke="#f4f4f4" stroke-width="0.5" stroke-linejoin="round"/><polygon points="590.61,81.18 590.84,80.11 594.83,79.86 594.61,80.93" fill="#f4f4f4" stroke="#f4f4f4" stroke-width="0.5" stroke-linejoin="round"/><polygon points="590.84,80.11 591.17,79.06 595.16,78.81 594.83,79.86" fill="#f4f4f4" stroke="#f4f4f4" stroke-width="0.5" stroke-linejoin="round"/><polygon points="591.17,79.06 591.61,78.04 595.61,77.79 595.16,78.81" fill="#f4f4f4" stroke="#f4f4f4" stroke-width="0.5" stroke-linejoin="round"/><polygon points="591.61,78.04 592.16,77.10 596.15,76.85 595.61,77.79" fill="#f4f4f4" stroke="#f4f4f4" stroke-width="0.5" stroke-linejoin="round"/><polygon points="592.16,77.10 592.80,76.25 596.80,76.00 596.15,76.85" fill="#f4f4f4" stroke="#f4f4f4" stroke-width="0.5" stroke-linejoin="round"/><polygon points="592.80,76.25 593.53,75.52 597.53,75.27 596.80,76.00" fill="#e4e4e4" stroke="#e4e4e4" stroke-width="0.5" stroke-linejoin="round"/><polygon points="593.53,75.52 594.33,74.93 598.33,74.68 597.53,75.27" fill="#d1d1d1" stroke="#d1d1d1" stroke-width="0.5" stroke-linejoin="round"/><polygon points="594.33,74.93 595.19,74.51 599.19,74.26 598.33,74.68" fill="#bbbbbb" stroke="#bbbbbb" stroke-width="0.5" stroke-linejoin="round"/><polygon points="595.19,74.51 596.09,74.26 600.09,74.01 599.19,74.26" fill="#a5a5a5" stroke="#a5a5a5" stroke-width="0.5" stroke-linejoin="round"/><polygon points="596.09,74.26 597.02,74.19 601.01,73.94 600.09,74.01" fill="#8d8d8d" stroke="#8d8d8d" stroke-width="0.5" stroke-linejoin="round"/><path d="M580.28,86.19L580.05,85.54M584.28,85.94L584.05,85.29" stroke="#6a6a6a" stroke-width="0.55" fill="none"/><path d="M580.05,85.54L579.89,84.76M584.05,85.29L583.89,84.51" stroke="#6a6a6a" stroke-width="0.55" fill="none"/><path d="M579.89,84.76L579.81,83.86M583.89,84.51L583.81,83.61" stroke="#6a6a6a" stroke-width="0.55" fill="none"/><path d="M579.81,83.86L579.83,82.88M583.81,83.61L583.82,82.63" stroke="#6a6a6a" stroke-width="0.55" fill="none"/><path d="M579.83,82.88L579.95,81.84M583.82,82.63L583.94,81.59" stroke="#6a6a6a" stroke-width="0.55" fill="none"/><path d="M579.95,81.84L580.17,80.78M583.94,81.59L584.16,80.53" stroke="#6a6a6a" stroke-width="0.55" fill="none"/><path d="M580.17,80.78L580.50,79.73M584.16,80.53L584.50,79.48" stroke="#6a6a6a" stroke-width="0.55" fill="none"/><path d="M580.50,79.73L580.95,78.71M584.50,79.48L584.94,78.46" stroke="#6a6a6a" stroke-width="0.55" fill="none"/><path d="M580.95,78.71L581.49,77.76M584.94,78.46L585.49,77.51" stroke="#6a6a6a" stroke-width="0.55" fill="none"/><path d="M581.49,77.76L582.14,76.91M585.49,77.51L586.13,76.66" stroke="#6a6a6a" stroke-width="0.55" fill="none"/><path d="M582.14,76.91L582.87,76.18M586.13,76.66L586.86,75.93" stroke="#6a6a6a" stroke-width="0.55" fill="none"/><path d="M582.87,76.18L583.67,75.60M586.86,75.93L587.66,75.35" stroke="#6a6a6a" stroke-width="0.55" fill="none"/><path d="M583.67,75.60L584.53,75.18M587.66,75.35L588.52,74.93" stroke="#6a6a6a" stroke-width="0.55" fill="none"/><path d="M584.53,75.18L585.43,74.93M588.52,74.93L589.42,74.68" stroke="#6a6a6a" stroke-width="0.55" fill="none"/><path d="M585.43,74.93L586.35,74.86M589.42,74.68L590.34,74.61" stroke="#6a6a6a" stroke-width="0.55" fill="none"/><path d="M591.88,86.50L591.55,86.35M595.87,86.25L595.54,86.10" stroke="#6a6a6a" stroke-width="0.55" fill="none"/><path d="M591.55,86.35L591.23,86.02M595.54,86.10L595.22,85.77" stroke="#6a6a6a" stroke-width="0.55" fill="none"/><path d="M591.23,86.02L590.95,85.53M595.22,85.77L594.94,85.28" stroke="#6a6a6a" stroke-width="0.55" fill="none"/><path d="M590.95,85.53L590.72,84.88M594.94,85.28L594.71,84.63" stroke="#6a6a6a" stroke-width="0.55" fill="none"/><path d="M590.72,84.88L590.56,84.09M594.71,84.63L594.55,83.84" stroke="#6a6a6a" stroke-width="0.55" fill="none"/><path d="M590.56,84.09L590.48,83.19M594.55,83.84L594.47,82.95" stroke="#6a6a6a" stroke-width="0.55" fill="none"/><path d="M590.48,83.19L590.50,82.21M594.47,82.95L594.49,81.96" stroke="#6a6a6a" stroke-width="0.55" fill="none"/><path d="M590.50,82.21L590.61,81.18M594.49,81.96L594.61,80.93" stroke="#6a6a6a" stroke-width="0.55" fill="none"/><path d="M590.61,81.18L590.84,80.11M594.61,80.93L594.83,79.86" stroke="#6a6a6a" stroke-width="0.55" fill="none"/><path d="M590.84,80.11L591.17,79.06M594.83,79.86L595.16,78.81" stroke="#6a6a6a" stroke-width="0.55" fill="none"/><path d="M591.17,79.06L591.61,78.04M595.16,78.81L595.61,77.79" stroke="#6a6a6a" stroke-width="0.55" fill="none"/><path d="M591.61,78.04L592.16,77.10M595.61,77.79L596.15,76.85" stroke="#6a6a6a" stroke-width="0.55" fill="none"/><path d="M592.16,77.10L592.80,76.25M596.15,76.85L596.80,76.00" stroke="#6a6a6a" stroke-width="0.55" fill="none"/><path d="M592.80,76.25L593.53,75.52M596.80,76.00L597.53,75.27" stroke="#6a6a6a" stroke-width="0.55" fill="none"/><path d="M593.53,75.52L594.33,74.93M597.53,75.27L598.33,74.68" stroke="#6a6a6a" stroke-width="0.55" fill="none"/><path d="M594.33,74.93L595.19,74.51M598.33,74.68L599.19,74.26" stroke="#6a6a6a" stroke-width="0.55" fill="none"/><path d="M595.19,74.51L596.09,74.26M599.19,74.26L600.09,74.01" stroke="#6a6a6a" stroke-width="0.55" fill="none"/><path d="M596.09,74.26L597.02,74.19M600.09,74.01L601.01,73.94" stroke="#6a6a6a" stroke-width="0.55" fill="none"/><polygon points="578.76,56.41 580.11,56.45 584.71,56.30 583.36,56.26" fill="#787878" stroke="#787878" stroke-width="0.5" stroke-linejoin="round"/><polygon points="580.11,56.45 581.44,56.78 586.04,56.63 584.71,56.30" fill="#6f6f6f" stroke="#6f6f6f" stroke-width="0.5" stroke-linejoin="round"/><polygon points="581.44,56.78 582.73,57.39 587.33,57.24 586.04,56.63" fill="#676767" stroke="#676767" stroke-width="0.5" stroke-linejoin="round"/><polygon points="582.73,57.39 583.95,58.26 588.54,58.10 587.33,57.24" fill="#606060" stroke="#606060" stroke-width="0.5" stroke-linejoin="round"/><polygon points="583.95,58.26 585.06,59.36 589.66,59.20 588.54,58.10" fill="#595959" stroke="#595959" stroke-width="0.5" stroke-linejoin="round"/><polygon points="585.06,59.36 586.05,60.66 590.65,60.50 589.66,59.20" fill="#545454" stroke="#545454" stroke-width="0.5" stroke-linejoin="round"/><polygon points="586.05,60.66 586.90,62.12 591.50,61.96 590.65,60.50" fill="#4f4f4f" stroke="#4f4f4f" stroke-width="0.5" stroke-linejoin="round"/><polygon points="586.90,62.12 587.59,63.69 592.19,63.53 591.50,61.96" fill="#4c4c4c" stroke="#4c4c4c" stroke-width="0.5" stroke-linejoin="round"/><polygon points="587.59,63.69 588.11,65.32 592.71,65.17 592.19,63.53" fill="#4b4b4b" stroke="#4b4b4b" stroke-width="0.5" stroke-linejoin="round"/><polygon points="588.11,65.32 588.45,66.97 593.05,66.82 592.71,65.17" fill="#4a4a4a" stroke="#4a4a4a" stroke-width="0.5" stroke-linejoin="round"/><polygon points="588.45,66.97 588.62,68.59 593.22,68.43 593.05,66.82" fill="#4b4b4b" stroke="#4b4b4b" stroke-width="0.5" stroke-linejoin="round"/><polygon points="588.62,68.59 588.63,70.11 593.22,69.96 593.22,68.43" fill="#4e4e4e" stroke="#4e4e4e" stroke-width="0.5" stroke-linejoin="round"/><polygon points="588.63,70.11 588.47,71.51 593.07,71.35 593.22,69.96" fill="#525252" stroke="#525252" stroke-width="0.5" stroke-linejoin="round"/><polygon points="588.47,71.51 588.17,72.72 592.77,72.57 593.07,71.35" fill="#575757" stroke="#575757" stroke-width="0.5" stroke-linejoin="round"/><polygon points="588.17,72.72 587.75,73.72 592.35,73.57 592.77,72.57" fill="#5e5e5e" stroke="#5e5e5e" stroke-width="0.5" stroke-linejoin="round"/><polygon points="587.75,73.72 587.23,74.48 591.83,74.33 592.35,73.57" fill="#656565" stroke="#656565" stroke-width="0.5" stroke-linejoin="round"/><polygon points="587.23,74.48 586.64,74.97 591.23,74.81 591.83,74.33" fill="#6d6d6d" stroke="#6d6d6d" stroke-width="0.5" stroke-linejoin="round"/><polygon points="586.64,74.97 586.00,75.17 590.60,75.02 591.23,74.81" fill="#757575" stroke="#757575" stroke-width="0.5" stroke-linejoin="round"/><polygon points="591.49,55.98 592.83,56.07 597.43,55.91 596.08,55.83" fill="#767676" stroke="#767676" stroke-width="0.5" stroke-linejoin="round"/><polygon points="592.83,56.07 594.16,56.45 598.76,56.29 597.43,55.91" fill="#6e6e6e" stroke="#6e6e6e" stroke-width="0.5" stroke-linejoin="round"/><polygon points="594.16,56.45 595.44,57.10 600.04,56.95 598.76,56.29" fill="#666666" stroke="#666666" stroke-width="0.5" stroke-linejoin="round"/><polygon points="595.44,57.10 596.64,58.01 601.24,57.86 600.04,56.95" fill="#5f5f5f" stroke="#5f5f5f" stroke-width="0.5" stroke-linejoin="round"/><polygon points="596.64,58.01 597.73,59.15 602.33,58.99 601.24,57.86" fill="#585858" stroke="#585858" stroke-width="0.5" stroke-linejoin="round"/><polygon points="597.73,59.15 598.70,60.47 603.30,60.32 602.33,58.99" fill="#535353" stroke="#535353" stroke-width="0.5" stroke-linejoin="round"/><polygon points="598.70,60.47 599.53,61.95 604.12,61.80 603.30,60.32" fill="#4f4f4f" stroke="#4f4f4f" stroke-width="0.5" stroke-linejoin="round"/><polygon points="599.53,61.95 600.19,63.54 604.78,63.39 604.12,61.80" fill="#4c4c4c" stroke="#4c4c4c" stroke-width="0.5" stroke-linejoin="round"/><polygon points="600.19,63.54 600.68,65.18 605.27,65.03 604.78,63.39" fill="#4a4a4a" stroke="#4a4a4a" stroke-width="0.5" stroke-linejoin="round"/><polygon points="600.68,65.18 600.99,66.83 605.59,66.68 605.27,65.03" fill="#4a4a4a" stroke="#4a4a4a" stroke-width="0.5" stroke-linejoin="round"/><polygon points="600.99,66.83 601.14,68.43 605.73,68.28 605.59,66.68" fill="#4c4c4c" stroke="#4c4c4c" stroke-width="0.5" stroke-linejoin="round"/><polygon points="601.14,68.43 601.11,69.94 605.71,69.79 605.73,68.28" fill="#4f4f4f" stroke="#4f4f4f" stroke-width="0.5" stroke-linejoin="round"/><polygon points="601.11,69.94 600.93,71.31 605.53,71.15 605.71,69.79" fill="#535353" stroke="#535353" stroke-width="0.5" stroke-linejoin="round"/><polygon points="600.93,71.31 600.61,72.49 605.21,72.34 605.53,71.15" fill="#585858" stroke="#585858" stroke-width="0.5" stroke-linejoin="round"/><polygon points="600.61,72.49 600.17,73.45 604.77,73.30 605.21,72.34" fill="#5f5f5f" stroke="#5f5f5f" stroke-width="0.5" stroke-linejoin="round"/><polygon points="600.17,73.45 599.64,74.16 604.23,74.01 604.77,73.30" fill="#666666" stroke="#666666" stroke-width="0.5" stroke-linejoin="round"/><polygon points="599.64,74.16 599.03,74.60 603.63,74.45 604.23,74.01" fill="#6e6e6e" stroke="#6e6e6e" stroke-width="0.5" stroke-linejoin="round"/><polygon points="599.03,74.60 598.39,74.76 602.99,74.61 603.63,74.45" fill="#767676" stroke="#767676" stroke-width="0.5" stroke-linejoin="round"/><polygon points="572.32,75.20 571.72,74.59 576.32,74.44 576.92,75.05" fill="#acacac" stroke="#acacac" stroke-width="0.5" stroke-linejoin="round"/><polygon points="571.72,74.59 571.20,73.72 575.80,73.57 576.32,74.44" fill="#bdbdbd" stroke="#bdbdbd" stroke-width="0.5" stroke-linejoin="round"/><polygon points="571.20,73.72 570.77,72.62 575.37,72.46 575.80,73.57" fill="#cfcfcf" stroke="#cfcfcf" stroke-width="0.5" stroke-linejoin="round"/><polygon points="570.77,72.62 570.47,71.31 575.07,71.16 575.37,72.46" fill="#e1e1e1" stroke="#e1e1e1" stroke-width="0.5" stroke-linejoin="round"/><polygon points="570.47,71.31 570.31,69.84 574.90,69.69 575.07,71.16" fill="#eaeaea" stroke="#eaeaea" stroke-width="0.5" stroke-linejoin="round"/><polygon points="570.31,69.84 570.30,68.25 574.90,68.10 574.90,69.69" fill="#f4f4f4" stroke="#f4f4f4" stroke-width="0.5" stroke-linejoin="round"/><polygon points="570.30,68.25 570.47,66.60 575.06,66.44 574.90,68.10" fill="#f4f4f4" stroke="#f4f4f4" stroke-width="0.5" stroke-linejoin="round"/><polygon points="570.47,66.60 570.80,64.92 575.40,64.77 575.06,66.44" fill="#f4f4f4" stroke="#f4f4f4" stroke-width="0.5" stroke-linejoin="round"/><polygon points="570.80,64.92 571.32,63.28 575.91,63.13 575.40,64.77" fill="#f4f4f4" stroke="#f4f4f4" stroke-width="0.5" stroke-linejoin="round"/><polygon points="571.32,63.28 572.00,61.72 576.59,61.57 575.91,63.13" fill="#f4f4f4" stroke="#f4f4f4" stroke-width="0.5" stroke-linejoin="round"/><polygon points="572.00,61.72 572.84,60.29 577.43,60.14 576.59,61.57" fill="#f4f4f4" stroke="#f4f4f4" stroke-width="0.5" stroke-linejoin="round"/><polygon points="572.84,60.29 573.82,59.04 578.42,58.88 577.43,60.14" fill="#efefef" stroke="#efefef" stroke-width="0.5" stroke-linejoin="round"/><polygon points="573.82,59.04 574.93,57.99 579.53,57.84 578.42,58.88" fill="#dddddd" stroke="#dddddd" stroke-width="0.5" stroke-linejoin="round"/><polygon points="574.93,57.99 576.14,57.19 580.74,57.04 579.53,57.84" fill="#cacaca" stroke="#cacaca" stroke-width="0.5" stroke-linejoin="round"/><polygon points="576.14,57.19 577.43,56.66 582.03,56.51 580.74,57.04" fill="#b4b4b4" stroke="#b4b4b4" stroke-width="0.5" stroke-linejoin="round"/><polygon points="577.43,56.66 578.76,56.41 583.36,56.26 582.03,56.51" fill="#9d9d9d" stroke="#9d9d9d" stroke-width="0.5" stroke-linejoin="round"/><polygon points="586.00,75.17 585.35,75.08 589.95,74.93 590.60,75.02" fill="#919191" stroke="#919191" stroke-width="0.5" stroke-linejoin="round"/><polygon points="585.35,75.08 584.72,74.70 589.31,74.55 589.95,74.93" fill="#9f9f9f" stroke="#9f9f9f" stroke-width="0.5" stroke-linejoin="round"/><polygon points="584.72,74.70 584.13,74.05 588.73,73.90 589.31,74.55" fill="#afafaf" stroke="#afafaf" stroke-width="0.5" stroke-linejoin="round"/><polygon points="584.13,74.05 583.62,73.14 588.22,72.98 588.73,73.90" fill="#bfbfbf" stroke="#bfbfbf" stroke-width="0.5" stroke-linejoin="round"/><polygon points="583.62,73.14 583.21,72.00 587.81,71.84 588.22,72.98" fill="#d2d2d2" stroke="#d2d2d2" stroke-width="0.5" stroke-linejoin="round"/><polygon points="583.21,72.00 582.93,70.66 587.53,70.50 587.81,71.84" fill="#e2e2e2" stroke="#e2e2e2" stroke-width="0.5" stroke-linejoin="round"/><polygon points="582.93,70.66 582.79,69.17 587.39,69.01 587.53,70.50" fill="#ececec" stroke="#ececec" stroke-width="0.5" stroke-linejoin="round"/><polygon points="582.79,69.17 582.82,67.56 587.41,67.41 587.39,69.01" fill="#f4f4f4" stroke="#f4f4f4" stroke-width="0.5" stroke-linejoin="round"/><polygon points="582.82,67.56 583.01,65.90 587.61,65.75 587.41,67.41" fill="#f4f4f4" stroke="#f4f4f4" stroke-width="0.5" stroke-linejoin="round"/><polygon points="583.01,65.90 583.38,64.23 587.97,64.08 587.61,65.75" fill="#f4f4f4" stroke="#f4f4f4" stroke-width="0.5" stroke-linejoin="round"/><polygon points="583.38,64.23 583.92,62.60 588.51,62.44 587.97,64.08" fill="#f4f4f4" stroke="#f4f4f4" stroke-width="0.5" stroke-linejoin="round"/><polygon points="583.92,62.60 584.63,61.06 589.22,60.90 588.51,62.44" fill="#f4f4f4" stroke="#f4f4f4" stroke-width="0.5" stroke-linejoin="round"/><polygon points="584.63,61.06 585.49,59.65 590.09,59.50 589.22,60.90" fill="#f4f4f4" stroke="#f4f4f4" stroke-width="0.5" stroke-linejoin="round"/><polygon points="585.49,59.65 586.50,58.43 591.10,58.28 590.09,59.50" fill="#ececec" stroke="#ececec" stroke-width="0.5" stroke-linejoin="round"/><polygon points="586.50,58.43 587.63,57.43 592.23,57.27 591.10,58.28" fill="#dadada" stroke="#dadada" stroke-width="0.5" stroke-linejoin="round"/><polygon points="587.63,57.43 588.85,56.67 593.45,56.51 592.23,57.27" fill="#c6c6c6" stroke="#c6c6c6" stroke-width="0.5" stroke-linejoin="round"/><polygon points="588.85,56.67 590.15,56.18 594.75,56.03 593.45,56.51" fill="#b0b0b0" stroke="#b0b0b0" stroke-width="0.5" stroke-linejoin="round"/><polygon points="590.15,56.18 591.49,55.98 596.08,55.83 594.75,56.03" fill="#999999" stroke="#999999" stroke-width="0.5" stroke-linejoin="round"/><polygon points="598.39,74.76 597.74,74.62 602.34,74.47 602.99,74.61" fill="#949494" stroke="#949494" stroke-width="0.5" stroke-linejoin="round"/><polygon points="597.74,74.62 597.12,74.20 601.71,74.04 602.34,74.47" fill="#a2a2a2" stroke="#a2a2a2" stroke-width="0.5" stroke-linejoin="round"/><polygon points="597.12,74.20 596.54,73.50 601.14,73.35 601.71,74.04" fill="#b1b1b1" stroke="#b1b1b1" stroke-width="0.5" stroke-linejoin="round"/><polygon points="596.54,73.50 596.05,72.55 600.64,72.39 601.14,73.35" fill="#c2c2c2" stroke="#c2c2c2" stroke-width="0.5" stroke-linejoin="round"/><polygon points="596.05,72.55 595.66,71.37 600.26,71.21 600.64,72.39" fill="#d5d5d5" stroke="#d5d5d5" stroke-width="0.5" stroke-linejoin="round"/><polygon points="595.66,71.37 595.40,70.00 600.00,69.85 600.26,71.21" fill="#e4e4e4" stroke="#e4e4e4" stroke-width="0.5" stroke-linejoin="round"/><polygon points="595.40,70.00 595.29,68.49 599.88,68.33 600.00,69.85" fill="#ededed" stroke="#ededed" stroke-width="0.5" stroke-linejoin="round"/><polygon points="595.29,68.49 595.34,66.87 599.93,66.72 599.88,68.33" fill="#f4f4f4" stroke="#f4f4f4" stroke-width="0.5" stroke-linejoin="round"/><polygon points="595.34,66.87 595.56,65.20 600.16,65.05 599.93,66.72" fill="#f4f4f4" stroke="#f4f4f4" stroke-width="0.5" stroke-linejoin="round"/><polygon points="595.56,65.20 595.95,63.54 600.55,63.38 600.16,65.05" fill="#f4f4f4" stroke="#f4f4f4" stroke-width="0.5" stroke-linejoin="round"/><polygon points="595.95,63.54 596.52,61.92 601.12,61.76 600.55,63.38" fill="#f4f4f4" stroke="#f4f4f4" stroke-width="0.5" stroke-linejoin="round"/><polygon points="596.52,61.92 597.26,60.40 601.86,60.24 601.12,61.76" fill="#f4f4f4" stroke="#f4f4f4" stroke-width="0.5" stroke-linejoin="round"/><polygon points="597.26,60.40 598.15,59.02 602.75,58.87 601.86,60.24" fill="#f4f4f4" stroke="#f4f4f4" stroke-width="0.5" stroke-linejoin="round"/><polygon points="598.15,59.02 599.18,57.83 603.78,57.68 602.75,58.87" fill="#e9e9e9" stroke="#e9e9e9" stroke-width="0.5" stroke-linejoin="round"/><polygon points="599.18,57.83 600.33,56.86 604.92,56.71 603.78,57.68" fill="#d7d7d7" stroke="#d7d7d7" stroke-width="0.5" stroke-linejoin="round"/><polygon points="600.33,56.86 601.56,56.15 606.16,56.00 604.92,56.71" fill="#c2c2c2" stroke="#c2c2c2" stroke-width="0.5" stroke-linejoin="round"/><path d="M572.32,75.20L571.72,74.59M576.92,75.05L576.32,74.44" stroke="#6a6a6a" stroke-width="0.55" fill="none"/><path d="M571.72,74.59L571.20,73.72M576.32,74.44L575.80,73.57" stroke="#6a6a6a" stroke-width="0.55" fill="none"/><path d="M571.20,73.72L570.77,72.62M575.80,73.57L575.37,72.46" stroke="#6a6a6a" stroke-width="0.55" fill="none"/><path d="M570.77,72.62L570.47,71.31M575.37,72.46L575.07,71.16" stroke="#6a6a6a" stroke-width="0.55" fill="none"/><path d="M570.47,71.31L570.31,69.84M575.07,71.16L574.90,69.69" stroke="#6a6a6a" stroke-width="0.55" fill="none"/><path d="M570.31,69.84L570.30,68.25M574.90,69.69L574.90,68.10" stroke="#6a6a6a" stroke-width="0.55" fill="none"/><path d="M570.30,68.25L570.47,66.60M574.90,68.10L575.06,66.44" stroke="#6a6a6a" stroke-width="0.55" fill="none"/><path d="M570.47,66.60L570.80,64.92M575.06,66.44L575.40,64.77" stroke="#6a6a6a" stroke-width="0.55" fill="none"/><path d="M570.80,64.92L571.32,63.28M575.40,64.77L575.91,63.13" stroke="#6a6a6a" stroke-width="0.55" fill="none"/><path d="M571.32,63.28L572.00,61.72M575.91,63.13L576.59,61.57" stroke="#6a6a6a" stroke-width="0.55" fill="none"/><path d="M572.00,61.72L572.84,60.29M576.59,61.57L577.43,60.14" stroke="#6a6a6a" stroke-width="0.55" fill="none"/><path d="M572.84,60.29L573.82,59.04M577.43,60.14L578.42,58.88" stroke="#6a6a6a" stroke-width="0.55" fill="none"/><path d="M573.82,59.04L574.93,57.99M578.42,58.88L579.53,57.84" stroke="#6a6a6a" stroke-width="0.55" fill="none"/><path d="M574.93,57.99L576.14,57.19M579.53,57.84L580.74,57.04" stroke="#6a6a6a" stroke-width="0.55" fill="none"/><path d="M576.14,57.19L577.43,56.66M580.74,57.04L582.03,56.51" stroke="#6a6a6a" stroke-width="0.55" fill="none"/><path d="M577.43,56.66L578.76,56.41M582.03,56.51L583.36,56.26" stroke="#6a6a6a" stroke-width="0.55" fill="none"/><path d="M586.00,75.17L585.35,75.08M590.60,75.02L589.95,74.93" stroke="#6a6a6a" stroke-width="0.55" fill="none"/><path d="M585.35,75.08L584.72,74.70M589.95,74.93L589.31,74.55" stroke="#6a6a6a" stroke-width="0.55" fill="none"/><path d="M584.72,74.70L584.13,74.05M589.31,74.55L588.73,73.90" stroke="#6a6a6a" stroke-width="0.55" fill="none"/><path d="M584.13,74.05L583.62,73.14M588.73,73.90L588.22,72.98" stroke="#6a6a6a" stroke-width="0.55" fill="none"/><path d="M583.62,73.14L583.21,72.00M588.22,72.98L587.81,71.84" stroke="#6a6a6a" stroke-width="0.55" fill="none"/><path d="M583.21,72.00L582.93,70.66M587.81,71.84L587.53,70.50" stroke="#6a6a6a" stroke-width="0.55" fill="none"/><path d="M582.93,70.66L582.79,69.17M587.53,70.50L587.39,69.01" stroke="#6a6a6a" stroke-width="0.55" fill="none"/><path d="M582.79,69.17L582.82,67.56M587.39,69.01L587.41,67.41" stroke="#6a6a6a" stroke-width="0.55" fill="none"/><path d="M582.82,67.56L583.01,65.90M587.41,67.41L587.61,65.75" stroke="#6a6a6a" stroke-width="0.55" fill="none"/><path d="M583.01,65.90L583.38,64.23M587.61,65.75L587.97,64.08" stroke="#6a6a6a" stroke-width="0.55" fill="none"/><path d="M583.38,64.23L583.92,62.60M587.97,64.08L588.51,62.44" stroke="#6a6a6a" stroke-width="0.55" fill="none"/><path d="M583.92,62.60L584.63,61.06M588.51,62.44L589.22,60.90" stroke="#6a6a6a" stroke-width="0.55" fill="none"/><path d="M584.63,61.06L585.49,59.65M589.22,60.90L590.09,59.50" stroke="#6a6a6a" stroke-width="0.55" fill="none"/><path d="M585.49,59.65L586.50,58.43M590.09,59.50L591.10,58.28" stroke="#6a6a6a" stroke-width="0.55" fill="none"/><path d="M586.50,58.43L587.63,57.43M591.10,58.28L592.23,57.27" stroke="#6a6a6a" stroke-width="0.55" fill="none"/><path d="M587.63,57.43L588.85,56.67M592.23,57.27L593.45,56.51" stroke="#6a6a6a" stroke-width="0.55" fill="none"/><path d="M588.85,56.67L590.15,56.18M593.45,56.51L594.75,56.03" stroke="#6a6a6a" stroke-width="0.55" fill="none"/><path d="M590.15,56.18L591.49,55.98M594.75,56.03L596.08,55.83" stroke="#6a6a6a" stroke-width="0.55" fill="none"/><path d="M598.39,74.76L597.74,74.62M602.99,74.61L602.34,74.47" stroke="#6a6a6a" stroke-width="0.55" fill="none"/><path d="M597.74,74.62L597.12,74.20M602.34,74.47L601.71,74.04" stroke="#6a6a6a" stroke-width="0.55" fill="none"/><path d="M597.12,74.20L596.54,73.50M601.71,74.04L601.14,73.35" stroke="#6a6a6a" stroke-width="0.55" fill="none"/><path d="M596.54,73.50L596.05,72.55M601.14,73.35L600.64,72.39" stroke="#6a6a6a" stroke-width="0.55" fill="none"/><path d="M596.05,72.55L595.66,71.37M600.64,72.39L600.26,71.21" stroke="#6a6a6a" stroke-width="0.55" fill="none"/><path d="M595.66,71.37L595.40,70.00M600.26,71.21L600.00,69.85" stroke="#6a6a6a" stroke-width="0.55" fill="none"/><path d="M595.40,70.00L595.29,68.49M600.00,69.85L599.88,68.33" stroke="#6a6a6a" stroke-width="0.55" fill="none"/><path d="M595.29,68.49L595.34,66.87M599.88,68.33L599.93,66.72" stroke="#6a6a6a" stroke-width="0.55" fill="none"/><path d="M595.34,66.87L595.56,65.20M599.93,66.72L600.16,65.05" stroke="#6a6a6a" stroke-width="0.55" fill="none"/><path d="M595.56,65.20L595.95,63.54M600.16,65.05L600.55,63.38" stroke="#6a6a6a" stroke-width="0.55" fill="none"/><path d="M595.95,63.54L596.52,61.92M600.55,63.38L601.12,61.76" stroke="#6a6a6a" stroke-width="0.55" fill="none"/><path d="M596.52,61.92L597.26,60.40M601.12,61.76L601.86,60.24" stroke="#6a6a6a" stroke-width="0.55" fill="none"/><path d="M597.26,60.40L598.15,59.02M601.86,60.24L602.75,58.87" stroke="#6a6a6a" stroke-width="0.55" fill="none"/><path d="M598.15,59.02L599.18,57.83M602.75,58.87L603.78,57.68" stroke="#6a6a6a" stroke-width="0.55" fill="none"/><path d="M599.18,57.83L600.33,56.86M603.78,57.68L604.92,56.71" stroke="#6a6a6a" stroke-width="0.55" fill="none"/><path d="M600.33,56.86L601.56,56.15M604.92,56.71L606.16,56.00" stroke="#6a6a6a" stroke-width="0.55" fill="none"/><path d="M599.7,58.8 C601,56 603,55 605,55" fill="none" stroke="#e41e1e" stroke-width="2.6" stroke-linecap="round" stroke-linejoin="round"/><polygon points="606.96,53.22 608.09,53.13 613.06,52.54 611.93,52.62" fill="#980a0a" stroke="#980a0a" stroke-width="0.5" stroke-linejoin="round"/><polygon points="608.09,53.13 609.23,53.28 614.20,52.68 613.06,52.54" fill="#900808" stroke="#900808" stroke-width="0.5" stroke-linejoin="round"/><polygon points="609.23,53.28 610.36,53.64 615.33,53.04 614.20,52.68" fill="#880606" stroke="#880606" stroke-width="0.5" stroke-linejoin="round"/><polygon points="610.36,53.64 611.45,54.21 616.42,53.61 615.33,53.04" fill="#810505" stroke="#810505" stroke-width="0.5" stroke-linejoin="round"/><polygon points="611.45,54.21 612.48,54.97 617.44,54.37 616.42,53.61" fill="#7a0303" stroke="#7a0303" stroke-width="0.5" stroke-linejoin="round"/><polygon points="612.48,54.97 613.43,55.90 618.39,55.30 617.44,54.37" fill="#740202" stroke="#740202" stroke-width="0.5" stroke-linejoin="round"/><polygon points="613.43,55.90 614.28,56.96 619.24,56.36 618.39,55.30" fill="#700101" stroke="#700101" stroke-width="0.5" stroke-linejoin="round"/><polygon points="614.28,56.96 615.01,58.12 619.97,57.53 619.24,56.36" fill="#6c0101" stroke="#6c0101" stroke-width="0.5" stroke-linejoin="round"/><polygon points="615.01,58.12 615.62,59.36 620.58,58.76 619.97,57.53" fill="#6b0000" stroke="#6b0000" stroke-width="0.5" stroke-linejoin="round"/><polygon points="615.62,59.36 616.09,60.61 621.05,60.02 620.58,58.76" fill="#6a0000" stroke="#6a0000" stroke-width="0.5" stroke-linejoin="round"/><polygon points="616.09,60.61 616.43,61.86 621.39,61.27 621.05,60.02" fill="#6b0000" stroke="#6b0000" stroke-width="0.5" stroke-linejoin="round"/><polygon points="616.43,61.86 616.62,63.06 621.59,62.46 621.39,61.27" fill="#6e0101" stroke="#6e0101" stroke-width="0.5" stroke-linejoin="round"/><polygon points="616.62,63.06 616.69,64.16 621.65,63.57 621.59,62.46" fill="#720202" stroke="#720202" stroke-width="0.5" stroke-linejoin="round"/><polygon points="616.69,64.16 616.63,65.15 621.59,64.55 621.65,63.57" fill="#770303" stroke="#770303" stroke-width="0.5" stroke-linejoin="round"/><polygon points="616.63,65.15 616.45,65.97 621.42,65.38 621.59,64.55" fill="#7d0404" stroke="#7d0404" stroke-width="0.5" stroke-linejoin="round"/><polygon points="616.45,65.97 616.18,66.62 621.15,66.03 621.42,65.38" fill="#840505" stroke="#840505" stroke-width="0.5" stroke-linejoin="round"/><polygon points="616.18,66.62 615.84,67.07 620.80,66.47 621.15,66.03" fill="#8b0707" stroke="#8b0707" stroke-width="0.5" stroke-linejoin="round"/><polygon points="615.84,67.07 615.44,67.29 620.40,66.70 620.80,66.47" fill="#940909" stroke="#940909" stroke-width="0.5" stroke-linejoin="round"/><polygon points="619.46,51.72 620.59,51.63 625.56,51.04 624.43,51.12" fill="#980a0a" stroke="#980a0a" stroke-width="0.5" stroke-linejoin="round"/><polygon points="620.59,51.63 621.73,51.78 626.70,51.18 625.56,51.04" fill="#900808" stroke="#900808" stroke-width="0.5" stroke-linejoin="round"/><polygon points="621.73,51.78 622.86,52.14 627.83,51.54 626.70,51.18" fill="#880606" stroke="#880606" stroke-width="0.5" stroke-linejoin="round"/><polygon points="622.86,52.14 623.95,52.71 628.92,52.11 627.83,51.54" fill="#810505" stroke="#810505" stroke-width="0.5" stroke-linejoin="round"/><polygon points="623.95,52.71 624.98,53.47 629.94,52.87 628.92,52.11" fill="#7a0303" stroke="#7a0303" stroke-width="0.5" stroke-linejoin="round"/><polygon points="624.98,53.47 625.93,54.40 630.89,53.80 629.94,52.87" fill="#740202" stroke="#740202" stroke-width="0.5" stroke-linejoin="round"/><polygon points="625.93,54.40 626.78,55.46 631.74,54.86 630.89,53.80" fill="#700101" stroke="#700101" stroke-width="0.5" stroke-linejoin="round"/><polygon points="626.78,55.46 627.51,56.62 632.47,56.03 631.74,54.86" fill="#6c0101" stroke="#6c0101" stroke-width="0.5" stroke-linejoin="round"/><polygon points="627.51,56.62 628.12,57.86 633.08,57.26 632.47,56.03" fill="#6b0000" stroke="#6b0000" stroke-width="0.5" stroke-linejoin="round"/><polygon points="628.12,57.86 628.59,59.11 633.55,58.52 633.08,57.26" fill="#6a0000" stroke="#6a0000" stroke-width="0.5" stroke-linejoin="round"/><polygon points="628.59,59.11 628.93,60.36 633.89,59.77 633.55,58.52" fill="#6b0000" stroke="#6b0000" stroke-width="0.5" stroke-linejoin="round"/><polygon points="628.93,60.36 629.12,61.56 634.09,60.96 633.89,59.77" fill="#6e0101" stroke="#6e0101" stroke-width="0.5" stroke-linejoin="round"/><polygon points="629.12,61.56 629.19,62.66 634.15,62.07 634.09,60.96" fill="#720202" stroke="#720202" stroke-width="0.5" stroke-linejoin="round"/><polygon points="629.19,62.66 629.13,63.65 634.09,63.05 634.15,62.07" fill="#770303" stroke="#770303" stroke-width="0.5" stroke-linejoin="round"/><polygon points="629.13,63.65 628.95,64.47 633.92,63.88 634.09,63.05" fill="#7d0404" stroke="#7d0404" stroke-width="0.5" stroke-linejoin="round"/><polygon points="628.95,64.47 628.68,65.12 633.65,64.53 633.92,63.88" fill="#840505" stroke="#840505" stroke-width="0.5" stroke-linejoin="round"/><polygon points="628.68,65.12 628.34,65.57 633.30,64.97 633.65,64.53" fill="#8b0707" stroke="#8b0707" stroke-width="0.5" stroke-linejoin="round"/><polygon points="628.34,65.57 627.94,65.79 632.90,65.20 633.30,64.97" fill="#940909" stroke="#940909" stroke-width="0.5" stroke-linejoin="round"/><polygon points="602.05,68.57 601.62,68.12 606.58,67.53 607.02,67.97" fill="#d91c1c" stroke="#d91c1c" stroke-width="0.5" stroke-linejoin="round"/><polygon points="601.62,68.12 601.22,67.47 606.19,66.88 606.58,67.53" fill="#e22727" stroke="#e22727" stroke-width="0.5" stroke-linejoin="round"/><polygon points="601.22,67.47 600.89,66.63 605.85,66.03 606.19,66.88" fill="#eb3232" stroke="#eb3232" stroke-width="0.5" stroke-linejoin="round"/><polygon points="600.89,66.63 600.64,65.62 605.60,65.02 605.85,66.03" fill="#f53e3e" stroke="#f53e3e" stroke-width="0.5" stroke-linejoin="round"/><polygon points="600.64,65.62 600.48,64.47 605.45,63.88 605.60,65.02" fill="#fa4343" stroke="#fa4343" stroke-width="0.5" stroke-linejoin="round"/><polygon points="600.48,64.47 600.44,63.22 605.41,62.63 605.45,63.88" fill="#ff4a4a" stroke="#ff4a4a" stroke-width="0.5" stroke-linejoin="round"/><polygon points="600.44,63.22 600.53,61.91 605.49,61.31 605.41,62.63" fill="#ff4a4a" stroke="#ff4a4a" stroke-width="0.5" stroke-linejoin="round"/><polygon points="600.53,61.91 600.75,60.56 605.72,59.97 605.49,61.31" fill="#ff4a4a" stroke="#ff4a4a" stroke-width="0.5" stroke-linejoin="round"/><polygon points="600.75,60.56 601.11,59.23 606.07,58.64 605.72,59.97" fill="#ff4a4a" stroke="#ff4a4a" stroke-width="0.5" stroke-linejoin="round"/><polygon points="601.11,59.23 601.61,57.96 606.57,57.36 606.07,58.64" fill="#ff4a4a" stroke="#ff4a4a" stroke-width="0.5" stroke-linejoin="round"/><polygon points="601.61,57.96 602.24,56.77 607.20,56.17 606.57,57.36" fill="#ff4a4a" stroke="#ff4a4a" stroke-width="0.5" stroke-linejoin="round"/><polygon points="602.24,56.77 602.99,55.70 607.96,55.10 607.20,56.17" fill="#fd4747" stroke="#fd4747" stroke-width="0.5" stroke-linejoin="round"/><polygon points="602.99,55.70 603.86,54.79 608.82,54.19 607.96,55.10" fill="#f43c3c" stroke="#f43c3c" stroke-width="0.5" stroke-linejoin="round"/><polygon points="603.86,54.79 604.82,54.06 609.79,53.46 608.82,54.19" fill="#e93030" stroke="#e93030" stroke-width="0.5" stroke-linejoin="round"/><polygon points="604.82,54.06 605.86,53.53 610.83,52.93 609.79,53.46" fill="#de2222" stroke="#de2222" stroke-width="0.5" stroke-linejoin="round"/><polygon points="605.86,53.53 606.96,53.22 611.93,52.62 610.83,52.93" fill="#d21414" stroke="#d21414" stroke-width="0.5" stroke-linejoin="round"/><polygon points="615.44,67.29 615.00,67.29 619.96,66.70 620.40,66.70" fill="#ca0a0a" stroke="#ca0a0a" stroke-width="0.5" stroke-linejoin="round"/><polygon points="615.00,67.29 614.55,67.07 619.52,66.47 619.96,66.70" fill="#d11313" stroke="#d11313" stroke-width="0.5" stroke-linejoin="round"/><polygon points="614.55,67.07 614.12,66.62 619.08,66.03 619.52,66.47" fill="#d91c1c" stroke="#d91c1c" stroke-width="0.5" stroke-linejoin="round"/><polygon points="614.12,66.62 613.72,65.97 618.69,65.38 619.08,66.03" fill="#e22727" stroke="#e22727" stroke-width="0.5" stroke-linejoin="round"/><polygon points="613.72,65.97 613.39,65.13 618.35,64.53 618.69,65.38" fill="#eb3232" stroke="#eb3232" stroke-width="0.5" stroke-linejoin="round"/><polygon points="613.39,65.13 613.14,64.12 618.10,63.52 618.35,64.53" fill="#f53e3e" stroke="#f53e3e" stroke-width="0.5" stroke-linejoin="round"/><polygon points="613.14,64.12 612.98,62.97 617.95,62.38 618.10,63.52" fill="#fa4343" stroke="#fa4343" stroke-width="0.5" stroke-linejoin="round"/><polygon points="612.98,62.97 612.94,61.72 617.91,61.13 617.95,62.38" fill="#ff4a4a" stroke="#ff4a4a" stroke-width="0.5" stroke-linejoin="round"/><polygon points="612.94,61.72 613.03,60.41 617.99,59.81 617.91,61.13" fill="#ff4a4a" stroke="#ff4a4a" stroke-width="0.5" stroke-linejoin="round"/><polygon points="613.03,60.41 613.25,59.06 618.22,58.47 617.99,59.81" fill="#ff4a4a" stroke="#ff4a4a" stroke-width="0.5" stroke-linejoin="round"/><polygon points="613.25,59.06 613.61,57.73 618.57,57.14 618.22,58.47" fill="#ff4a4a" stroke="#ff4a4a" stroke-width="0.5" stroke-linejoin="round"/><polygon points="613.61,57.73 614.11,56.46 619.07,55.86 618.57,57.14" fill="#ff4a4a" stroke="#ff4a4a" stroke-width="0.5" stroke-linejoin="round"/><polygon points="614.11,56.46 614.74,55.27 619.70,54.67 619.07,55.86" fill="#ff4a4a" stroke="#ff4a4a" stroke-width="0.5" stroke-linejoin="round"/><polygon points="614.74,55.27 615.49,54.20 620.46,53.60 619.70,54.67" fill="#fd4747" stroke="#fd4747" stroke-width="0.5" stroke-linejoin="round"/><polygon points="615.49,54.20 616.36,53.29 621.32,52.69 620.46,53.60" fill="#f43c3c" stroke="#f43c3c" stroke-width="0.5" stroke-linejoin="round"/><polygon points="616.36,53.29 617.32,52.56 622.29,51.96 621.32,52.69" fill="#e93030" stroke="#e93030" stroke-width="0.5" stroke-linejoin="round"/><polygon points="617.32,52.56 618.36,52.03 623.33,51.43 622.29,51.96" fill="#de2222" stroke="#de2222" stroke-width="0.5" stroke-linejoin="round"/><polygon points="618.36,52.03 619.46,51.72 624.43,51.12 623.33,51.43" fill="#d21414" stroke="#d21414" stroke-width="0.5" stroke-linejoin="round"/><polygon points="627.94,65.79 627.50,65.79 632.46,65.20 632.90,65.20" fill="#ca0a0a" stroke="#ca0a0a" stroke-width="0.5" stroke-linejoin="round"/><polygon points="627.50,65.79 627.05,65.57 632.02,64.97 632.46,65.20" fill="#d11313" stroke="#d11313" stroke-width="0.5" stroke-linejoin="round"/><path d="M602.05,68.57L601.62,68.12M607.02,67.97L606.58,67.53" stroke="#8a0000" stroke-width="0.55" fill="none"/><path d="M601.62,68.12L601.22,67.47M606.58,67.53L606.19,66.88" stroke="#8a0000" stroke-width="0.55" fill="none"/><path d="M601.22,67.47L600.89,66.63M606.19,66.88L605.85,66.03" stroke="#8a0000" stroke-width="0.55" fill="none"/><path d="M600.89,66.63L600.64,65.62M605.85,66.03L605.60,65.02" stroke="#8a0000" stroke-width="0.55" fill="none"/><path d="M600.64,65.62L600.48,64.47M605.60,65.02L605.45,63.88" stroke="#8a0000" stroke-width="0.55" fill="none"/><path d="M600.48,64.47L600.44,63.22M605.45,63.88L605.41,62.63" stroke="#8a0000" stroke-width="0.55" fill="none"/><path d="M600.44,63.22L600.53,61.91M605.41,62.63L605.49,61.31" stroke="#8a0000" stroke-width="0.55" fill="none"/><path d="M600.53,61.91L600.75,60.56M605.49,61.31L605.72,59.97" stroke="#8a0000" stroke-width="0.55" fill="none"/><path d="M600.75,60.56L601.11,59.23M605.72,59.97L606.07,58.64" stroke="#8a0000" stroke-width="0.55" fill="none"/><path d="M601.11,59.23L601.61,57.96M606.07,58.64L606.57,57.36" stroke="#8a0000" stroke-width="0.55" fill="none"/><path d="M601.61,57.96L602.24,56.77M606.57,57.36L607.20,56.17" stroke="#8a0000" stroke-width="0.55" fill="none"/><path d="M602.24,56.77L602.99,55.70M607.20,56.17L607.96,55.10" stroke="#8a0000" stroke-width="0.55" fill="none"/><path d="M602.99,55.70L603.86,54.79M607.96,55.10L608.82,54.19" stroke="#8a0000" stroke-width="0.55" fill="none"/><path d="M603.86,54.79L604.82,54.06M608.82,54.19L609.79,53.46" stroke="#8a0000" stroke-width="0.55" fill="none"/><path d="M604.82,54.06L605.86,53.53M609.79,53.46L610.83,52.93" stroke="#8a0000" stroke-width="0.55" fill="none"/><path d="M605.86,53.53L606.96,53.22M610.83,52.93L611.93,52.62" stroke="#8a0000" stroke-width="0.55" fill="none"/><path d="M615.44,67.29L615.00,67.29M620.40,66.70L619.96,66.70" stroke="#8a0000" stroke-width="0.55" fill="none"/><path d="M615.00,67.29L614.55,67.07M619.96,66.70L619.52,66.47" stroke="#8a0000" stroke-width="0.55" fill="none"/><path d="M614.55,67.07L614.12,66.62M619.52,66.47L619.08,66.03" stroke="#8a0000" stroke-width="0.55" fill="none"/><path d="M614.12,66.62L613.72,65.97M619.08,66.03L618.69,65.38" stroke="#8a0000" stroke-width="0.55" fill="none"/><path d="M613.72,65.97L613.39,65.13M618.69,65.38L618.35,64.53" stroke="#8a0000" stroke-width="0.55" fill="none"/><path d="M613.39,65.13L613.14,64.12M618.35,64.53L618.10,63.52" stroke="#8a0000" stroke-width="0.55" fill="none"/><path d="M613.14,64.12L612.98,62.97M618.10,63.52L617.95,62.38" stroke="#8a0000" stroke-width="0.55" fill="none"/><path d="M612.98,62.97L612.94,61.72M617.95,62.38L617.91,61.13" stroke="#8a0000" stroke-width="0.55" fill="none"/><path d="M612.94,61.72L613.03,60.41M617.91,61.13L617.99,59.81" stroke="#8a0000" stroke-width="0.55" fill="none"/><path d="M613.03,60.41L613.25,59.06M617.99,59.81L618.22,58.47" stroke="#8a0000" stroke-width="0.55" fill="none"/><path d="M613.25,59.06L613.61,57.73M618.22,58.47L618.57,57.14" stroke="#8a0000" stroke-width="0.55" fill="none"/><path d="M613.61,57.73L614.11,56.46M618.57,57.14L619.07,55.86" stroke="#8a0000" stroke-width="0.55" fill="none"/><path d="M614.11,56.46L614.74,55.27M619.07,55.86L619.70,54.67" stroke="#8a0000" stroke-width="0.55" fill="none"/><path d="M614.74,55.27L615.49,54.20M619.70,54.67L620.46,53.60" stroke="#8a0000" stroke-width="0.55" fill="none"/><path d="M615.49,54.20L616.36,53.29M620.46,53.60L621.32,52.69" stroke="#8a0000" stroke-width="0.55" fill="none"/><path d="M616.36,53.29L617.32,52.56M621.32,52.69L622.29,51.96" stroke="#8a0000" stroke-width="0.55" fill="none"/><path d="M617.32,52.56L618.36,52.03M622.29,51.96L623.33,51.43" stroke="#8a0000" stroke-width="0.55" fill="none"/><path d="M618.36,52.03L619.46,51.72M623.33,51.43L624.43,51.12" stroke="#8a0000" stroke-width="0.55" fill="none"/><path d="M627.94,65.79L627.50,65.79M632.90,65.20L632.46,65.20" stroke="#8a0000" stroke-width="0.55" fill="none"/><path d="M627.50,65.79L627.05,65.57M632.46,65.20L632.02,64.97" stroke="#8a0000" stroke-width="0.55" fill="none"/><polygon points="637.77,71.90 638.75,72.63 642.86,74.68 641.88,73.95" fill="#737373" stroke="#737373" stroke-width="0.5" stroke-linejoin="round"/><polygon points="638.75,72.63 639.58,73.57 643.69,75.63 642.86,74.68" fill="#6b6b6b" stroke="#6b6b6b" stroke-width="0.5" stroke-linejoin="round"/><polygon points="639.58,73.57 640.25,74.70 644.36,76.76 643.69,75.63" fill="#636363" stroke="#636363" stroke-width="0.5" stroke-linejoin="round"/><polygon points="640.25,74.70 640.74,75.99 644.85,78.05 644.36,76.76" fill="#5c5c5c" stroke="#5c5c5c" stroke-width="0.5" stroke-linejoin="round"/><polygon points="640.74,75.99 641.04,77.41 645.16,79.46 644.85,78.05" fill="#565656" stroke="#565656" stroke-width="0.5" stroke-linejoin="round"/><polygon points="641.04,77.41 641.17,78.90 645.28,80.96 645.16,79.46" fill="#515151" stroke="#515151" stroke-width="0.5" stroke-linejoin="round"/><polygon points="641.17,78.90 641.11,80.43 645.23,82.49 645.28,80.96" fill="#4d4d4d" stroke="#4d4d4d" stroke-width="0.5" stroke-linejoin="round"/><polygon points="641.11,80.43 640.89,81.97 645.00,84.02 645.23,82.49" fill="#4b4b4b" stroke="#4b4b4b" stroke-width="0.5" stroke-linejoin="round"/><polygon points="640.89,81.97 640.51,83.45 644.63,85.51 645.00,84.02" fill="#4a4a4a" stroke="#4a4a4a" stroke-width="0.5" stroke-linejoin="round"/><polygon points="640.51,83.45 640.00,84.85 644.12,86.91 644.63,85.51" fill="#4b4b4b" stroke="#4b4b4b" stroke-width="0.5" stroke-linejoin="round"/><polygon points="640.00,84.85 639.39,86.12 643.50,88.18 644.12,86.91" fill="#4d4d4d" stroke="#4d4d4d" stroke-width="0.5" stroke-linejoin="round"/><polygon points="639.39,86.12 638.69,87.23 642.80,89.29 643.50,88.18" fill="#505050" stroke="#505050" stroke-width="0.5" stroke-linejoin="round"/><polygon points="638.69,87.23 637.94,88.15 642.06,90.20 642.80,89.29" fill="#555555" stroke="#555555" stroke-width="0.5" stroke-linejoin="round"/><polygon points="637.94,88.15 637.18,88.85 641.29,90.90 642.06,90.20" fill="#5b5b5b" stroke="#5b5b5b" stroke-width="0.5" stroke-linejoin="round"/><polygon points="637.18,88.85 636.43,89.31 640.54,91.37 641.29,90.90" fill="#626262" stroke="#626262" stroke-width="0.5" stroke-linejoin="round"/><polygon points="636.43,89.31 635.72,89.54 639.84,91.59 640.54,91.37" fill="#6a6a6a" stroke="#6a6a6a" stroke-width="0.5" stroke-linejoin="round"/><polygon points="635.72,89.54 635.09,89.51 639.21,91.57 639.84,91.59" fill="#727272" stroke="#727272" stroke-width="0.5" stroke-linejoin="round"/><polygon points="647.09,76.56 648.15,77.14 652.27,79.20 651.21,78.61" fill="#787878" stroke="#787878" stroke-width="0.5" stroke-linejoin="round"/><polygon points="648.15,77.14 649.08,77.96 653.19,80.01 652.27,79.20" fill="#707070" stroke="#707070" stroke-width="0.5" stroke-linejoin="round"/><polygon points="649.08,77.96 649.85,78.98 653.96,81.03 653.19,80.01" fill="#686868" stroke="#686868" stroke-width="0.5" stroke-linejoin="round"/><polygon points="649.85,78.98 650.45,80.17 654.57,82.23 653.96,81.03" fill="#606060" stroke="#606060" stroke-width="0.5" stroke-linejoin="round"/><polygon points="650.45,80.17 650.87,81.51 654.99,83.57 654.57,82.23" fill="#5a5a5a" stroke="#5a5a5a" stroke-width="0.5" stroke-linejoin="round"/><polygon points="624.31,83.97 624.01,83.34 628.13,85.40 628.43,86.03" fill="#a3a3a3" stroke="#a3a3a3" stroke-width="0.5" stroke-linejoin="round"/><polygon points="624.01,83.34 623.87,82.53 627.99,84.58 628.13,85.40" fill="#b3b3b3" stroke="#b3b3b3" stroke-width="0.5" stroke-linejoin="round"/><polygon points="623.87,82.53 623.91,81.54 628.03,83.60 627.99,84.58" fill="#c5c5c5" stroke="#c5c5c5" stroke-width="0.5" stroke-linejoin="round"/><polygon points="623.91,81.54 624.13,80.43 628.24,82.49 628.03,83.60" fill="#d8d8d8" stroke="#d8d8d8" stroke-width="0.5" stroke-linejoin="round"/><polygon points="624.13,80.43 624.53,79.23 628.65,81.29 628.24,82.49" fill="#e5e5e5" stroke="#e5e5e5" stroke-width="0.5" stroke-linejoin="round"/><polygon points="624.53,79.23 625.12,77.98 629.23,80.04 628.65,81.29" fill="#eeeeee" stroke="#eeeeee" stroke-width="0.5" stroke-linejoin="round"/><polygon points="625.12,77.98 625.87,76.73 629.99,78.78 629.23,80.04" fill="#f4f4f4" stroke="#f4f4f4" stroke-width="0.5" stroke-linejoin="round"/><polygon points="625.87,76.73 626.78,75.51 630.90,77.57 629.99,78.78" fill="#f4f4f4" stroke="#f4f4f4" stroke-width="0.5" stroke-linejoin="round"/><polygon points="626.78,75.51 627.83,74.37 631.95,76.43 630.90,77.57" fill="#f4f4f4" stroke="#f4f4f4" stroke-width="0.5" stroke-linejoin="round"/><polygon points="627.83,74.37 628.99,73.36 633.11,75.41 631.95,76.43" fill="#f4f4f4" stroke="#f4f4f4" stroke-width="0.5" stroke-linejoin="round"/><polygon points="628.99,73.36 630.24,72.50 634.35,74.55 633.11,75.41" fill="#f4f4f4" stroke="#f4f4f4" stroke-width="0.5" stroke-linejoin="round"/><polygon points="630.24,72.50 631.54,71.82 635.65,73.88 634.35,74.55" fill="#f4f4f4" stroke="#f4f4f4" stroke-width="0.5" stroke-linejoin="round"/><polygon points="631.54,71.82 632.86,71.36 636.98,73.42 635.65,73.88" fill="#e7e7e7" stroke="#e7e7e7" stroke-width="0.5" stroke-linejoin="round"/><polygon points="632.86,71.36 634.18,71.13 638.30,73.19 636.98,73.42" fill="#d4d4d4" stroke="#d4d4d4" stroke-width="0.5" stroke-linejoin="round"/><polygon points="634.18,71.13 635.46,71.14 639.57,73.20 638.30,73.19" fill="#bebebe" stroke="#bebebe" stroke-width="0.5" stroke-linejoin="round"/><polygon points="635.46,71.14 636.66,71.40 640.78,73.45 639.57,73.20" fill="#a8a8a8" stroke="#a8a8a8" stroke-width="0.5" stroke-linejoin="round"/><polygon points="636.66,71.40 637.77,71.90 641.88,73.95 640.78,73.45" fill="#909090" stroke="#909090" stroke-width="0.5" stroke-linejoin="round"/><polygon points="635.09,89.51 634.57,89.25 638.69,91.31 639.21,91.57" fill="#8c8c8c" stroke="#8c8c8c" stroke-width="0.5" stroke-linejoin="round"/><polygon points="634.57,89.25 634.18,88.76 638.30,90.82 638.69,91.31" fill="#9a9a9a" stroke="#9a9a9a" stroke-width="0.5" stroke-linejoin="round"/><polygon points="634.18,88.76 633.94,88.06 638.05,90.12 638.30,90.82" fill="#a9a9a9" stroke="#a9a9a9" stroke-width="0.5" stroke-linejoin="round"/><polygon points="633.94,88.06 633.87,87.17 637.98,89.23 638.05,90.12" fill="#b9b9b9" stroke="#b9b9b9" stroke-width="0.5" stroke-linejoin="round"/><polygon points="633.87,87.17 633.97,86.14 638.09,88.20 637.98,89.23" fill="#cbcbcb" stroke="#cbcbcb" stroke-width="0.5" stroke-linejoin="round"/><polygon points="633.97,86.14 634.26,84.99 638.37,87.05 638.09,88.20" fill="#dfdfdf" stroke="#dfdfdf" stroke-width="0.5" stroke-linejoin="round"/><polygon points="634.26,84.99 634.73,83.77 638.85,85.82 638.37,87.05" fill="#e8e8e8" stroke="#e8e8e8" stroke-width="0.5" stroke-linejoin="round"/><polygon points="634.73,83.77 635.38,82.51 639.50,84.57 638.85,85.82" fill="#f2f2f2" stroke="#f2f2f2" stroke-width="0.5" stroke-linejoin="round"/><polygon points="635.38,82.51 636.20,81.26 640.31,83.32 639.50,84.57" fill="#f4f4f4" stroke="#f4f4f4" stroke-width="0.5" stroke-linejoin="round"/><polygon points="636.20,81.26 637.16,80.07 641.28,82.13 640.31,83.32" fill="#f4f4f4" stroke="#f4f4f4" stroke-width="0.5" stroke-linejoin="round"/><polygon points="637.16,80.07 638.25,78.98 642.37,81.03 641.28,82.13" fill="#f4f4f4" stroke="#f4f4f4" stroke-width="0.5" stroke-linejoin="round"/><polygon points="638.25,78.98 639.45,78.01 643.56,80.07 642.37,81.03" fill="#f4f4f4" stroke="#f4f4f4" stroke-width="0.5" stroke-linejoin="round"/><polygon points="639.45,78.01 640.72,77.22 644.84,79.28 643.56,80.07" fill="#f4f4f4" stroke="#f4f4f4" stroke-width="0.5" stroke-linejoin="round"/><polygon points="640.72,77.22 642.04,76.62 646.15,78.68 644.84,79.28" fill="#f1f1f1" stroke="#f1f1f1" stroke-width="0.5" stroke-linejoin="round"/><polygon points="642.04,76.62 643.36,76.25 647.48,78.30 646.15,78.68" fill="#e0e0e0" stroke="#e0e0e0" stroke-width="0.5" stroke-linejoin="round"/><polygon points="643.36,76.25 644.67,76.10 648.78,78.16 647.48,78.30" fill="#cccccc" stroke="#cccccc" stroke-width="0.5" stroke-linejoin="round"/><polygon points="644.67,76.10 645.92,76.21 650.03,78.26 648.78,78.16" fill="#b6b6b6" stroke="#b6b6b6" stroke-width="0.5" stroke-linejoin="round"/><polygon points="645.92,76.21 647.09,76.56 651.21,78.61 650.03,78.26" fill="#9f9f9f" stroke="#9f9f9f" stroke-width="0.5" stroke-linejoin="round"/><path d="M624.31,83.97L624.01,83.34M628.43,86.03L628.13,85.40" stroke="#6a6a6a" stroke-width="0.55" fill="none"/><path d="M624.01,83.34L623.87,82.53M628.13,85.40L627.99,84.58" stroke="#6a6a6a" stroke-width="0.55" fill="none"/><path d="M623.87,82.53L623.91,81.54M627.99,84.58L628.03,83.60" stroke="#6a6a6a" stroke-width="0.55" fill="none"/><path d="M623.91,81.54L624.13,80.43M628.03,83.60L628.24,82.49" stroke="#6a6a6a" stroke-width="0.55" fill="none"/><path d="M624.13,80.43L624.53,79.23M628.24,82.49L628.65,81.29" stroke="#6a6a6a" stroke-width="0.55" fill="none"/><path d="M624.53,79.23L625.12,77.98M628.65,81.29L629.23,80.04" stroke="#6a6a6a" stroke-width="0.55" fill="none"/><path d="M625.12,77.98L625.87,76.73M629.23,80.04L629.99,78.78" stroke="#6a6a6a" stroke-width="0.55" fill="none"/><path d="M625.87,76.73L626.78,75.51M629.99,78.78L630.90,77.57" stroke="#6a6a6a" stroke-width="0.55" fill="none"/><path d="M626.78,75.51L627.83,74.37M630.90,77.57L631.95,76.43" stroke="#6a6a6a" stroke-width="0.55" fill="none"/><path d="M627.83,74.37L628.99,73.36M631.95,76.43L633.11,75.41" stroke="#6a6a6a" stroke-width="0.55" fill="none"/><path d="M628.99,73.36L630.24,72.50M633.11,75.41L634.35,74.55" stroke="#6a6a6a" stroke-width="0.55" fill="none"/><path d="M630.24,72.50L631.54,71.82M634.35,74.55L635.65,73.88" stroke="#6a6a6a" stroke-width="0.55" fill="none"/><path d="M631.54,71.82L632.86,71.36M635.65,73.88L636.98,73.42" stroke="#6a6a6a" stroke-width="0.55" fill="none"/><path d="M632.86,71.36L634.18,71.13M636.98,73.42L638.30,73.19" stroke="#6a6a6a" stroke-width="0.55" fill="none"/><path d="M634.18,71.13L635.46,71.14M638.30,73.19L639.57,73.20" stroke="#6a6a6a" stroke-width="0.55" fill="none"/><path d="M635.46,71.14L636.66,71.40M639.57,73.20L640.78,73.45" stroke="#6a6a6a" stroke-width="0.55" fill="none"/><path d="M636.66,71.40L637.77,71.90M640.78,73.45L641.88,73.95" stroke="#6a6a6a" stroke-width="0.55" fill="none"/><path d="M635.09,89.51L634.57,89.25M639.21,91.57L638.69,91.31" stroke="#6a6a6a" stroke-width="0.55" fill="none"/><path d="M634.57,89.25L634.18,88.76M638.69,91.31L638.30,90.82" stroke="#6a6a6a" stroke-width="0.55" fill="none"/><path d="M634.18,88.76L633.94,88.06M638.30,90.82L638.05,90.12" stroke="#6a6a6a" stroke-width="0.55" fill="none"/><path d="M633.94,88.06L633.87,87.17M638.05,90.12L637.98,89.23" stroke="#6a6a6a" stroke-width="0.55" fill="none"/><path d="M633.87,87.17L633.97,86.14M637.98,89.23L638.09,88.20" stroke="#6a6a6a" stroke-width="0.55" fill="none"/><path d="M633.97,86.14L634.26,84.99M638.09,88.20L638.37,87.05" stroke="#6a6a6a" stroke-width="0.55" fill="none"/><path d="M634.26,84.99L634.73,83.77M638.37,87.05L638.85,85.82" stroke="#6a6a6a" stroke-width="0.55" fill="none"/><path d="M634.73,83.77L635.38,82.51M638.85,85.82L639.50,84.57" stroke="#6a6a6a" stroke-width="0.55" fill="none"/><path d="M635.38,82.51L636.20,81.26M639.50,84.57L640.31,83.32" stroke="#6a6a6a" stroke-width="0.55" fill="none"/><path d="M636.20,81.26L637.16,80.07M640.31,83.32L641.28,82.13" stroke="#6a6a6a" stroke-width="0.55" fill="none"/><path d="M637.16,80.07L638.25,78.98M641.28,82.13L642.37,81.03" stroke="#6a6a6a" stroke-width="0.55" fill="none"/><path d="M638.25,78.98L639.45,78.01M642.37,81.03L643.56,80.07" stroke="#6a6a6a" stroke-width="0.55" fill="none"/><path d="M639.45,78.01L640.72,77.22M643.56,80.07L644.84,79.28" stroke="#6a6a6a" stroke-width="0.55" fill="none"/><path d="M640.72,77.22L642.04,76.62M644.84,79.28L646.15,78.68" stroke="#6a6a6a" stroke-width="0.55" fill="none"/><path d="M642.04,76.62L643.36,76.25M646.15,78.68L647.48,78.30" stroke="#6a6a6a" stroke-width="0.55" fill="none"/><path d="M643.36,76.25L644.67,76.10M647.48,78.30L648.78,78.16" stroke="#6a6a6a" stroke-width="0.55" fill="none"/><path d="M644.67,76.10L645.92,76.21M648.78,78.16L650.03,78.26" stroke="#6a6a6a" stroke-width="0.55" fill="none"/><path d="M645.92,76.21L647.09,76.56M650.03,78.26L651.21,78.61" stroke="#6a6a6a" stroke-width="0.55" fill="none"/><path d="M637,83 C638,90 643,93 649,91" fill="none" stroke="#1f2fe0" stroke-width="1.6" stroke-linecap="round" stroke-linejoin="round"/><path d="M644,54 C644.5,47 649,45 655,45.3 C660.5,45.8 661,51 659.5,58 L658.5,64" fill="none" stroke="url(#bH)" stroke-width="5.6" stroke-linecap="butt" stroke-linejoin="round"/><path d="M656.8,52 L656.2,64.5" fill="none" stroke="#0a1490" stroke-width="3.0" stroke-linecap="butt" stroke-linejoin="round"/><path d="M661,60 C666,56 672,55 676,63 C677,67 673,70 669,71" fill="none" stroke="#5c5c5c" stroke-width="3.3000000000000003" stroke-linecap="round" stroke-linejoin="round"/><path d="M661,60 C666,56 672,55 676,63 C677,67 673,70 669,71" fill="none" stroke="#efefef" stroke-width="2.2" stroke-linecap="round" stroke-linejoin="round"/><path d="M650.5,74.3 C655,73 659,72 663,67.5" fill="none" stroke="#1f2fe0" stroke-width="1.3" stroke-linecap="round" stroke-linejoin="round"/><path d="M666.6,75 C661,79 660.5,87 659,93 C656,99 650,101 645,103" fill="none" stroke="#1f2fe0" stroke-width="1.4" stroke-linecap="round" stroke-linejoin="round"/><path d="M618,111 C625,110.5 631,110 634,107 C637,103 642,101 645,105" fill="none" stroke="#5c5c5c" stroke-width="2.9000000000000004" stroke-linecap="round" stroke-linejoin="round"/><path d="M618,111 C625,110.5 631,110 634,107 C637,103 642,101 645,105" fill="none" stroke="#efefef" stroke-width="1.8" stroke-linecap="round" stroke-linejoin="round"/><ellipse cx="644" cy="111.5" rx="5" ry="5" fill="#ececec" stroke="#8a8a8a" stroke-width="1"/><ellipse cx="645.5" cy="113" rx="2.5" ry="2.5" fill="#c8c8c8"/><path d="M580.6,94.6 C575,90 570,86.5 564.4,86.1 C560,86 556,88 555.9,91.2 C556,94 560,97 564.4,98.9 C567,103 570,106 574,105 C577,104 579,103 581,103.2 C585,103 588,100 592,100" fill="none" stroke="#5c5c5c" stroke-width="3.1" stroke-linecap="round" stroke-linejoin="round"/><path d="M580.6,94.6 C575,90 570,86.5 564.4,86.1 C560,86 556,88 555.9,91.2 C556,94 560,97 564.4,98.9 C567,103 570,106 574,105 C577,104 579,103 581,103.2 C585,103 588,100 592,100" fill="none" stroke="#efefef" stroke-width="2.0" stroke-linecap="round" stroke-linejoin="round"/><path d="M564.4,86.1 C568,86.6 571,87.6 572.9,88.7" fill="none" stroke="#1f2fe0" stroke-width="2.0" stroke-linecap="round" stroke-linejoin="round"/><path d="M564.4,99 C567,103 569,105.5 572.5,105.5" fill="none" stroke="#1f2fe0" stroke-width="2.0" stroke-linecap="round" stroke-linejoin="round"/><path d="M588,104 C590,110 596,110 596,105" fill="none" stroke="#5c5c5c" stroke-width="2.6" stroke-linecap="round" stroke-linejoin="round"/><path d="M588,104 C590,110 596,110 596,105" fill="none" stroke="#efefef" stroke-width="1.5" stroke-linecap="round" stroke-linejoin="round"/><circle cx="594.2" cy="103" r="1" fill="#2030d0"/><polygon points="580.6,94.6 604.5,96.3 618,96.3 618,101.5 604.5,100 580.6,97.0" fill="#e41e1e" stroke="none" stroke-width="0.6" stroke-linejoin="round"/><path d="M596,96.3 L606,98.3" fill="none" stroke="#b01010" stroke-width="0.8" stroke-linecap="round" stroke-linejoin="round"/></g>
<g><path d="M576,230 C595,229 612,230 629,235.7" fill="none" stroke="#a0a0a0" stroke-width="3.5" stroke-linecap="round" stroke-linejoin="round"/><path d="M576,230 C595,229 612,230 629,235.7" fill="none" stroke="#f4f4f4" stroke-width="2.4" stroke-linecap="round" stroke-linejoin="round"/><path d="M577,234 C596,233 612,236 628,240" fill="none" stroke="#a6a6a6" stroke-width="3.3000000000000003" stroke-linecap="round" stroke-linejoin="round"/><path d="M577,234 C596,233 612,236 628,240" fill="none" stroke="#f6f6f6" stroke-width="2.2" stroke-linecap="round" stroke-linejoin="round"/><path d="M578,238 C595,238 610,240 624,243" fill="none" stroke="#aaaaaa" stroke-width="3.1" stroke-linecap="round" stroke-linejoin="round"/><path d="M578,238 C595,238 610,240 624,243" fill="none" stroke="#f6f6f6" stroke-width="2.0" stroke-linecap="round" stroke-linejoin="round"/><path d="M580,243 C595,244 610,246 619,247.5 C621,253 623,257 628,258 C633,258.5 637,256 639,251" fill="none" stroke="#8a8a8a" stroke-width="4.1" stroke-linecap="round" stroke-linejoin="round"/><path d="M580,243 C595,244 610,246 619,247.5 C621,253 623,257 628,258 C633,258.5 637,256 639,251" fill="none" stroke="#eeeeee" stroke-width="3.0" stroke-linecap="round" stroke-linejoin="round"/><path d="M588,236 L610,237 M590,240 L612,241.5" fill="none" stroke="#c8c8c8" stroke-width="0.6" stroke-linecap="round" stroke-linejoin="round"/><path d="M591.3,224.5 C600,219 608,214 617,211" fill="none" stroke="#e41e1e" stroke-width="3.0" stroke-linecap="butt" stroke-linejoin="round"/><path d="M593.3,229.6 C599,228 605,226.5 610.7,225.5" fill="none" stroke="#e41e1e" stroke-width="4.2" stroke-linecap="butt" stroke-linejoin="round"/><path d="M610.7,225 C615,223 620,221 625,219" fill="none" stroke="#999" stroke-width="4.1" stroke-linecap="round" stroke-linejoin="round"/><path d="M610.7,225 C615,223 620,221 625,219" fill="none" stroke="#f2f2f2" stroke-width="3.0" stroke-linecap="round" stroke-linejoin="round"/><path d="M617,211 C620,213 622,216 624,218" fill="none" stroke="#999" stroke-width="3.1" stroke-linecap="round" stroke-linejoin="round"/><path d="M617,211 C620,213 622,216 624,218" fill="none" stroke="#eee" stroke-width="2.0" stroke-linecap="round" stroke-linejoin="round"/><path d="M557,199 C556,193 557,188 561,186 C565,185 567,190 565,195" fill="none" stroke="#666" stroke-width="2.7" stroke-linecap="round" stroke-linejoin="round"/><path d="M557,199 C556,193 557,188 561,186 C565,185 567,190 565,195" fill="none" stroke="#efefef" stroke-width="1.6" stroke-linecap="round" stroke-linejoin="round"/><polygon points="569.06,183.08 570.55,183.45 575.28,184.26 573.79,183.89" fill="#767676" stroke="#767676" stroke-width="0.5" stroke-linejoin="round"/><polygon points="570.55,183.45 571.96,184.07 576.69,184.88 575.28,184.26" fill="#6e6e6e" stroke="#6e6e6e" stroke-width="0.5" stroke-linejoin="round"/><polygon points="571.96,184.07 573.26,184.92 577.99,185.73 576.69,184.88" fill="#666666" stroke="#666666" stroke-width="0.5" stroke-linejoin="round"/><polygon points="573.26,184.92 574.42,185.97 579.15,186.79 577.99,185.73" fill="#5f5f5f" stroke="#5f5f5f" stroke-width="0.5" stroke-linejoin="round"/><polygon points="574.42,185.97 575.42,187.20 580.15,188.02 579.15,186.79" fill="#585858" stroke="#585858" stroke-width="0.5" stroke-linejoin="round"/><polygon points="575.42,187.20 576.23,188.57 580.96,189.39 580.15,188.02" fill="#535353" stroke="#535353" stroke-width="0.5" stroke-linejoin="round"/><polygon points="576.23,188.57 576.84,190.04 581.57,190.86 580.96,189.39" fill="#4f4f4f" stroke="#4f4f4f" stroke-width="0.5" stroke-linejoin="round"/><polygon points="576.84,190.04 577.24,191.57 581.97,192.39 581.57,190.86" fill="#4c4c4c" stroke="#4c4c4c" stroke-width="0.5" stroke-linejoin="round"/><polygon points="577.24,191.57 577.43,193.11 582.17,193.92 581.97,192.39" fill="#4a4a4a" stroke="#4a4a4a" stroke-width="0.5" stroke-linejoin="round"/><polygon points="577.43,193.11 577.42,194.61 582.15,195.43 582.17,193.92" fill="#4a4a4a" stroke="#4a4a4a" stroke-width="0.5" stroke-linejoin="round"/><polygon points="577.42,194.61 577.21,196.04 581.94,196.85 582.15,195.43" fill="#4c4c4c" stroke="#4c4c4c" stroke-width="0.5" stroke-linejoin="round"/><polygon points="577.21,196.04 576.83,197.34 581.56,198.16 581.94,196.85" fill="#4f4f4f" stroke="#4f4f4f" stroke-width="0.5" stroke-linejoin="round"/><polygon points="576.83,197.34 576.29,198.48 581.02,199.30 581.56,198.16" fill="#535353" stroke="#535353" stroke-width="0.5" stroke-linejoin="round"/><polygon points="576.29,198.48 575.62,199.44 580.35,200.25 581.02,199.30" fill="#585858" stroke="#585858" stroke-width="0.5" stroke-linejoin="round"/><polygon points="575.62,199.44 574.85,200.17 579.58,200.99 580.35,200.25" fill="#5f5f5f" stroke="#5f5f5f" stroke-width="0.5" stroke-linejoin="round"/><polygon points="574.85,200.17 574.01,200.66 578.74,201.48 579.58,200.99" fill="#666666" stroke="#666666" stroke-width="0.5" stroke-linejoin="round"/><polygon points="574.01,200.66 573.15,200.90 577.88,201.72 578.74,201.48" fill="#6e6e6e" stroke="#6e6e6e" stroke-width="0.5" stroke-linejoin="round"/><polygon points="573.15,200.90 572.30,200.88 577.03,201.70 577.88,201.72" fill="#767676" stroke="#767676" stroke-width="0.5" stroke-linejoin="round"/><polygon points="581.40,185.20 582.87,185.62 587.60,186.43 586.13,186.02" fill="#757575" stroke="#757575" stroke-width="0.5" stroke-linejoin="round"/><polygon points="582.87,185.62 584.27,186.28 589.00,187.09 587.60,186.43" fill="#6d6d6d" stroke="#6d6d6d" stroke-width="0.5" stroke-linejoin="round"/><polygon points="584.27,186.28 585.55,187.16 590.28,187.98 589.00,187.09" fill="#656565" stroke="#656565" stroke-width="0.5" stroke-linejoin="round"/><polygon points="585.55,187.16 586.68,188.25 591.41,189.06 590.28,187.98" fill="#5e5e5e" stroke="#5e5e5e" stroke-width="0.5" stroke-linejoin="round"/><polygon points="586.68,188.25 587.65,189.51 592.38,190.32 591.41,189.06" fill="#575757" stroke="#575757" stroke-width="0.5" stroke-linejoin="round"/><polygon points="587.65,189.51 588.43,190.90 593.16,191.71 592.38,190.32" fill="#525252" stroke="#525252" stroke-width="0.5" stroke-linejoin="round"/><polygon points="588.43,190.90 589.00,192.38 593.73,193.20 593.16,191.71" fill="#4e4e4e" stroke="#4e4e4e" stroke-width="0.5" stroke-linejoin="round"/><polygon points="589.00,192.38 589.37,193.91 594.10,194.73 593.73,193.20" fill="#4c4c4c" stroke="#4c4c4c" stroke-width="0.5" stroke-linejoin="round"/><polygon points="589.37,193.91 589.53,195.45 594.26,196.26 594.10,194.73" fill="#4a4a4a" stroke="#4a4a4a" stroke-width="0.5" stroke-linejoin="round"/><polygon points="589.53,195.45 589.48,196.94 594.21,197.75 594.26,196.26" fill="#4a4a4a" stroke="#4a4a4a" stroke-width="0.5" stroke-linejoin="round"/><polygon points="589.48,196.94 589.25,198.35 593.98,199.16 594.21,197.75" fill="#4c4c4c" stroke="#4c4c4c" stroke-width="0.5" stroke-linejoin="round"/><polygon points="589.25,198.35 588.83,199.63 593.56,200.44 593.98,199.16" fill="#4f4f4f" stroke="#4f4f4f" stroke-width="0.5" stroke-linejoin="round"/><polygon points="588.83,199.63 588.27,200.74 593.00,201.56 593.56,200.44" fill="#545454" stroke="#545454" stroke-width="0.5" stroke-linejoin="round"/><polygon points="588.27,200.74 587.58,201.66 592.31,202.47 593.00,201.56" fill="#595959" stroke="#595959" stroke-width="0.5" stroke-linejoin="round"/><polygon points="587.58,201.66 586.79,202.35 591.52,203.17 592.31,202.47" fill="#606060" stroke="#606060" stroke-width="0.5" stroke-linejoin="round"/><polygon points="586.79,202.35 585.95,202.80 590.68,203.62 591.52,203.17" fill="#676767" stroke="#676767" stroke-width="0.5" stroke-linejoin="round"/><polygon points="585.95,202.80 585.09,203.00 589.82,203.82 590.68,203.62" fill="#6f6f6f" stroke="#6f6f6f" stroke-width="0.5" stroke-linejoin="round"/><polygon points="585.09,203.00 584.24,202.94 588.97,203.75 589.82,203.82" fill="#777777" stroke="#777777" stroke-width="0.5" stroke-linejoin="round"/><polygon points="558.15,197.39 557.66,196.47 562.39,197.28 562.88,198.20" fill="#bfbfbf" stroke="#bfbfbf" stroke-width="0.5" stroke-linejoin="round"/><polygon points="557.66,196.47 557.32,195.36 562.05,196.18 562.39,197.28" fill="#d2d2d2" stroke="#d2d2d2" stroke-width="0.5" stroke-linejoin="round"/><polygon points="557.32,195.36 557.17,194.12 561.90,194.93 562.05,196.18" fill="#e2e2e2" stroke="#e2e2e2" stroke-width="0.5" stroke-linejoin="round"/><polygon points="557.17,194.12 557.21,192.77 561.94,193.59 561.90,194.93" fill="#ebebeb" stroke="#ebebeb" stroke-width="0.5" stroke-linejoin="round"/><polygon points="557.21,192.77 557.47,191.36 562.20,192.18 561.94,193.59" fill="#f4f4f4" stroke="#f4f4f4" stroke-width="0.5" stroke-linejoin="round"/><polygon points="557.47,191.36 557.93,189.94 562.66,190.76 562.20,192.18" fill="#f4f4f4" stroke="#f4f4f4" stroke-width="0.5" stroke-linejoin="round"/><polygon points="557.93,189.94 558.60,188.55 563.33,189.37 562.66,190.76" fill="#f4f4f4" stroke="#f4f4f4" stroke-width="0.5" stroke-linejoin="round"/><polygon points="558.60,188.55 559.47,187.24 564.20,188.05 563.33,189.37" fill="#f4f4f4" stroke="#f4f4f4" stroke-width="0.5" stroke-linejoin="round"/><polygon points="559.47,187.24 560.51,186.04 565.24,186.85 564.20,188.05" fill="#f4f4f4" stroke="#f4f4f4" stroke-width="0.5" stroke-linejoin="round"/><polygon points="560.51,186.04 561.72,184.99 566.45,185.81 565.24,186.85" fill="#f4f4f4" stroke="#f4f4f4" stroke-width="0.5" stroke-linejoin="round"/><polygon points="561.72,184.99 563.05,184.14 567.78,184.95 566.45,185.81" fill="#ededed" stroke="#ededed" stroke-width="0.5" stroke-linejoin="round"/><polygon points="563.05,184.14 564.49,183.50 569.22,184.32 567.78,184.95" fill="#dbdbdb" stroke="#dbdbdb" stroke-width="0.5" stroke-linejoin="round"/><polygon points="564.49,183.50 566.00,183.11 570.73,183.92 569.22,184.32" fill="#c7c7c7" stroke="#c7c7c7" stroke-width="0.5" stroke-linejoin="round"/><polygon points="566.00,183.11 567.53,182.96 572.26,183.78 570.73,183.92" fill="#b0b0b0" stroke="#b0b0b0" stroke-width="0.5" stroke-linejoin="round"/><polygon points="567.53,182.96 569.06,183.08 573.79,183.89 572.26,183.78" fill="#999999" stroke="#999999" stroke-width="0.5" stroke-linejoin="round"/><polygon points="572.30,200.88 571.49,200.61 576.22,201.42 577.03,201.70" fill="#939393" stroke="#939393" stroke-width="0.5" stroke-linejoin="round"/><polygon points="571.49,200.61 570.76,200.08 575.49,200.90 576.22,201.42" fill="#a1a1a1" stroke="#a1a1a1" stroke-width="0.5" stroke-linejoin="round"/><polygon points="570.76,200.08 570.14,199.33 574.87,200.15 575.49,200.90" fill="#b1b1b1" stroke="#b1b1b1" stroke-width="0.5" stroke-linejoin="round"/><polygon points="570.14,199.33 569.67,198.38 574.40,199.19 574.87,200.15" fill="#c2c2c2" stroke="#c2c2c2" stroke-width="0.5" stroke-linejoin="round"/><polygon points="569.67,198.38 569.36,197.25 574.09,198.06 574.40,199.19" fill="#d5d5d5" stroke="#d5d5d5" stroke-width="0.5" stroke-linejoin="round"/><polygon points="569.36,197.25 569.24,195.98 573.97,196.80 574.09,198.06" fill="#e3e3e3" stroke="#e3e3e3" stroke-width="0.5" stroke-linejoin="round"/><polygon points="569.24,195.98 569.32,194.62 574.05,195.44 573.97,196.80" fill="#ededed" stroke="#ededed" stroke-width="0.5" stroke-linejoin="round"/><polygon points="569.32,194.62 569.61,193.21 574.34,194.03 574.05,195.44" fill="#f4f4f4" stroke="#f4f4f4" stroke-width="0.5" stroke-linejoin="round"/><polygon points="569.61,193.21 570.11,191.79 574.84,192.61 574.34,194.03" fill="#f4f4f4" stroke="#f4f4f4" stroke-width="0.5" stroke-linejoin="round"/><polygon points="570.11,191.79 570.82,190.41 575.55,191.22 574.84,192.61" fill="#f4f4f4" stroke="#f4f4f4" stroke-width="0.5" stroke-linejoin="round"/><polygon points="570.82,190.41 571.71,189.11 576.44,189.93 575.55,191.22" fill="#f4f4f4" stroke="#f4f4f4" stroke-width="0.5" stroke-linejoin="round"/><polygon points="571.71,189.11 572.79,187.93 577.52,188.75 576.44,189.93" fill="#f4f4f4" stroke="#f4f4f4" stroke-width="0.5" stroke-linejoin="round"/><polygon points="572.79,187.93 574.02,186.92 578.75,187.74 577.52,188.75" fill="#f4f4f4" stroke="#f4f4f4" stroke-width="0.5" stroke-linejoin="round"/><polygon points="574.02,186.92 575.37,186.10 580.10,186.92 578.75,187.74" fill="#eaeaea" stroke="#eaeaea" stroke-width="0.5" stroke-linejoin="round"/><polygon points="575.37,186.10 576.82,185.50 581.55,186.32 580.10,186.92" fill="#d8d8d8" stroke="#d8d8d8" stroke-width="0.5" stroke-linejoin="round"/><polygon points="576.82,185.50 578.33,185.15 583.06,185.96 581.55,186.32" fill="#c3c3c3" stroke="#c3c3c3" stroke-width="0.5" stroke-linejoin="round"/><polygon points="578.33,185.15 579.87,185.05 584.60,185.86 583.06,185.96" fill="#adadad" stroke="#adadad" stroke-width="0.5" stroke-linejoin="round"/><polygon points="579.87,185.05 581.40,185.20 586.13,186.02 584.60,185.86" fill="#959595" stroke="#959595" stroke-width="0.5" stroke-linejoin="round"/><polygon points="584.24,202.94 583.44,202.62 588.17,203.44 588.97,203.75" fill="#959595" stroke="#959595" stroke-width="0.5" stroke-linejoin="round"/><polygon points="583.44,202.62 582.73,202.06 587.46,202.87 588.17,203.44" fill="#a4a4a4" stroke="#a4a4a4" stroke-width="0.5" stroke-linejoin="round"/><polygon points="582.73,202.06 582.14,201.27 586.87,202.09 587.46,202.87" fill="#b3b3b3" stroke="#b3b3b3" stroke-width="0.5" stroke-linejoin="round"/><polygon points="582.14,201.27 581.69,200.28 586.42,201.10 586.87,202.09" fill="#c5c5c5" stroke="#c5c5c5" stroke-width="0.5" stroke-linejoin="round"/><polygon points="581.69,200.28 581.41,199.13 586.14,199.95 586.42,201.10" fill="#d9d9d9" stroke="#d9d9d9" stroke-width="0.5" stroke-linejoin="round"/><polygon points="581.41,199.13 581.33,197.85 586.06,198.66 586.14,199.95" fill="#e5e5e5" stroke="#e5e5e5" stroke-width="0.5" stroke-linejoin="round"/><polygon points="581.33,197.85 581.44,196.47 586.17,197.29 586.06,198.66" fill="#efefef" stroke="#efefef" stroke-width="0.5" stroke-linejoin="round"/><polygon points="581.44,196.47 581.77,195.06 586.50,195.87 586.17,197.29" fill="#f4f4f4" stroke="#f4f4f4" stroke-width="0.5" stroke-linejoin="round"/><polygon points="581.77,195.06 582.30,193.64 587.03,194.46 586.50,195.87" fill="#f4f4f4" stroke="#f4f4f4" stroke-width="0.5" stroke-linejoin="round"/><polygon points="582.30,193.64 583.04,192.27 587.77,193.08 587.03,194.46" fill="#f4f4f4" stroke="#f4f4f4" stroke-width="0.5" stroke-linejoin="round"/><polygon points="583.04,192.27 583.96,190.99 588.69,191.80 587.77,193.08" fill="#f4f4f4" stroke="#f4f4f4" stroke-width="0.5" stroke-linejoin="round"/><polygon points="583.96,190.99 585.07,189.84 589.80,190.65 588.69,191.80" fill="#f4f4f4" stroke="#f4f4f4" stroke-width="0.5" stroke-linejoin="round"/><polygon points="585.07,189.84 586.32,188.85 591.05,189.67 589.80,190.65" fill="#f4f4f4" stroke="#f4f4f4" stroke-width="0.5" stroke-linejoin="round"/><polygon points="586.32,188.85 587.69,188.07 592.42,188.88 591.05,189.67" fill="#e7e7e7" stroke="#e7e7e7" stroke-width="0.5" stroke-linejoin="round"/><polygon points="587.69,188.07 589.15,187.51 593.88,188.33 592.42,188.88" fill="#d4d4d4" stroke="#d4d4d4" stroke-width="0.5" stroke-linejoin="round"/><polygon points="589.15,187.51 590.67,187.20 595.40,188.01 593.88,188.33" fill="#bfbfbf" stroke="#bfbfbf" stroke-width="0.5" stroke-linejoin="round"/><polygon points="590.67,187.20 592.21,187.14 596.94,187.95 595.40,188.01" fill="#a9a9a9" stroke="#a9a9a9" stroke-width="0.5" stroke-linejoin="round"/><path d="M558.15,197.39L557.66,196.47M562.88,198.20L562.39,197.28" stroke="#6a6a6a" stroke-width="0.55" fill="none"/><path d="M557.66,196.47L557.32,195.36M562.39,197.28L562.05,196.18" stroke="#6a6a6a" stroke-width="0.55" fill="none"/><path d="M557.32,195.36L557.17,194.12M562.05,196.18L561.90,194.93" stroke="#6a6a6a" stroke-width="0.55" fill="none"/><path d="M557.17,194.12L557.21,192.77M561.90,194.93L561.94,193.59" stroke="#6a6a6a" stroke-width="0.55" fill="none"/><path d="M557.21,192.77L557.47,191.36M561.94,193.59L562.20,192.18" stroke="#6a6a6a" stroke-width="0.55" fill="none"/><path d="M557.47,191.36L557.93,189.94M562.20,192.18L562.66,190.76" stroke="#6a6a6a" stroke-width="0.55" fill="none"/><path d="M557.93,189.94L558.60,188.55M562.66,190.76L563.33,189.37" stroke="#6a6a6a" stroke-width="0.55" fill="none"/><path d="M558.60,188.55L559.47,187.24M563.33,189.37L564.20,188.05" stroke="#6a6a6a" stroke-width="0.55" fill="none"/><path d="M559.47,187.24L560.51,186.04M564.20,188.05L565.24,186.85" stroke="#6a6a6a" stroke-width="0.55" fill="none"/><path d="M560.51,186.04L561.72,184.99M565.24,186.85L566.45,185.81" stroke="#6a6a6a" stroke-width="0.55" fill="none"/><path d="M561.72,184.99L563.05,184.14M566.45,185.81L567.78,184.95" stroke="#6a6a6a" stroke-width="0.55" fill="none"/><path d="M563.05,184.14L564.49,183.50M567.78,184.95L569.22,184.32" stroke="#6a6a6a" stroke-width="0.55" fill="none"/><path d="M564.49,183.50L566.00,183.11M569.22,184.32L570.73,183.92" stroke="#6a6a6a" stroke-width="0.55" fill="none"/><path d="M566.00,183.11L567.53,182.96M570.73,183.92L572.26,183.78" stroke="#6a6a6a" stroke-width="0.55" fill="none"/><path d="M567.53,182.96L569.06,183.08M572.26,183.78L573.79,183.89" stroke="#6a6a6a" stroke-width="0.55" fill="none"/><path d="M572.30,200.88L571.49,200.61M577.03,201.70L576.22,201.42" stroke="#6a6a6a" stroke-width="0.55" fill="none"/><path d="M571.49,200.61L570.76,200.08M576.22,201.42L575.49,200.90" stroke="#6a6a6a" stroke-width="0.55" fill="none"/><path d="M570.76,200.08L570.14,199.33M575.49,200.90L574.87,200.15" stroke="#6a6a6a" stroke-width="0.55" fill="none"/><path d="M570.14,199.33L569.67,198.38M574.87,200.15L574.40,199.19" stroke="#6a6a6a" stroke-width="0.55" fill="none"/><path d="M569.67,198.38L569.36,197.25M574.40,199.19L574.09,198.06" stroke="#6a6a6a" stroke-width="0.55" fill="none"/><path d="M569.36,197.25L569.24,195.98M574.09,198.06L573.97,196.80" stroke="#6a6a6a" stroke-width="0.55" fill="none"/><path d="M569.24,195.98L569.32,194.62M573.97,196.80L574.05,195.44" stroke="#6a6a6a" stroke-width="0.55" fill="none"/><path d="M569.32,194.62L569.61,193.21M574.05,195.44L574.34,194.03" stroke="#6a6a6a" stroke-width="0.55" fill="none"/><path d="M569.61,193.21L570.11,191.79M574.34,194.03L574.84,192.61" stroke="#6a6a6a" stroke-width="0.55" fill="none"/><path d="M570.11,191.79L570.82,190.41M574.84,192.61L575.55,191.22" stroke="#6a6a6a" stroke-width="0.55" fill="none"/><path d="M570.82,190.41L571.71,189.11M575.55,191.22L576.44,189.93" stroke="#6a6a6a" stroke-width="0.55" fill="none"/><path d="M571.71,189.11L572.79,187.93M576.44,189.93L577.52,188.75" stroke="#6a6a6a" stroke-width="0.55" fill="none"/><path d="M572.79,187.93L574.02,186.92M577.52,188.75L578.75,187.74" stroke="#6a6a6a" stroke-width="0.55" fill="none"/><path d="M574.02,186.92L575.37,186.10M578.75,187.74L580.10,186.92" stroke="#6a6a6a" stroke-width="0.55" fill="none"/><path d="M575.37,186.10L576.82,185.50M580.10,186.92L581.55,186.32" stroke="#6a6a6a" stroke-width="0.55" fill="none"/><path d="M576.82,185.50L578.33,185.15M581.55,186.32L583.06,185.96" stroke="#6a6a6a" stroke-width="0.55" fill="none"/><path d="M578.33,185.15L579.87,185.05M583.06,185.96L584.60,185.86" stroke="#6a6a6a" stroke-width="0.55" fill="none"/><path d="M579.87,185.05L581.40,185.20M584.60,185.86L586.13,186.02" stroke="#6a6a6a" stroke-width="0.55" fill="none"/><path d="M584.24,202.94L583.44,202.62M588.97,203.75L588.17,203.44" stroke="#6a6a6a" stroke-width="0.55" fill="none"/><path d="M583.44,202.62L582.73,202.06M588.17,203.44L587.46,202.87" stroke="#6a6a6a" stroke-width="0.55" fill="none"/><path d="M582.73,202.06L582.14,201.27M587.46,202.87L586.87,202.09" stroke="#6a6a6a" stroke-width="0.55" fill="none"/><path d="M582.14,201.27L581.69,200.28M586.87,202.09L586.42,201.10" stroke="#6a6a6a" stroke-width="0.55" fill="none"/><path d="M581.69,200.28L581.41,199.13M586.42,201.10L586.14,199.95" stroke="#6a6a6a" stroke-width="0.55" fill="none"/><path d="M581.41,199.13L581.33,197.85M586.14,199.95L586.06,198.66" stroke="#6a6a6a" stroke-width="0.55" fill="none"/><path d="M581.33,197.85L581.44,196.47M586.06,198.66L586.17,197.29" stroke="#6a6a6a" stroke-width="0.55" fill="none"/><path d="M581.44,196.47L581.77,195.06M586.17,197.29L586.50,195.87" stroke="#6a6a6a" stroke-width="0.55" fill="none"/><path d="M581.77,195.06L582.30,193.64M586.50,195.87L587.03,194.46" stroke="#6a6a6a" stroke-width="0.55" fill="none"/><path d="M582.30,193.64L583.04,192.27M587.03,194.46L587.77,193.08" stroke="#6a6a6a" stroke-width="0.55" fill="none"/><path d="M583.04,192.27L583.96,190.99M587.77,193.08L588.69,191.80" stroke="#6a6a6a" stroke-width="0.55" fill="none"/><path d="M583.96,190.99L585.07,189.84M588.69,191.80L589.80,190.65" stroke="#6a6a6a" stroke-width="0.55" fill="none"/><path d="M585.07,189.84L586.32,188.85M589.80,190.65L591.05,189.67" stroke="#6a6a6a" stroke-width="0.55" fill="none"/><path d="M586.32,188.85L587.69,188.07M591.05,189.67L592.42,188.88" stroke="#6a6a6a" stroke-width="0.55" fill="none"/><path d="M587.69,188.07L589.15,187.51M592.42,188.88L593.88,188.33" stroke="#6a6a6a" stroke-width="0.55" fill="none"/><path d="M589.15,187.51L590.67,187.20M593.88,188.33L595.40,188.01" stroke="#6a6a6a" stroke-width="0.55" fill="none"/><path d="M590.67,187.20L592.21,187.14M595.40,188.01L596.94,187.95" stroke="#6a6a6a" stroke-width="0.55" fill="none"/><polygon points="602.15,190.97 603.51,191.36 608.96,192.63 607.61,192.24" fill="#980a0a" stroke="#980a0a" stroke-width="0.5" stroke-linejoin="round"/><polygon points="603.51,191.36 604.78,192.01 610.24,193.28 608.96,192.63" fill="#900808" stroke="#900808" stroke-width="0.5" stroke-linejoin="round"/><polygon points="604.78,192.01 605.95,192.90 611.40,194.17 610.24,193.28" fill="#880606" stroke="#880606" stroke-width="0.5" stroke-linejoin="round"/><polygon points="605.95,192.90 606.97,194.01 612.42,195.29 611.40,194.17" fill="#800505" stroke="#800505" stroke-width="0.5" stroke-linejoin="round"/><polygon points="606.97,194.01 607.84,195.31 613.29,196.58 612.42,195.29" fill="#7a0303" stroke="#7a0303" stroke-width="0.5" stroke-linejoin="round"/><polygon points="607.84,195.31 608.54,196.76 613.99,198.03 613.29,196.58" fill="#740202" stroke="#740202" stroke-width="0.5" stroke-linejoin="round"/><polygon points="608.54,196.76 609.05,198.32 614.51,199.59 613.99,198.03" fill="#6f0101" stroke="#6f0101" stroke-width="0.5" stroke-linejoin="round"/><polygon points="609.05,198.32 609.39,199.94 614.84,201.21 614.51,199.59" fill="#6c0000" stroke="#6c0000" stroke-width="0.5" stroke-linejoin="round"/><polygon points="609.39,199.94 609.54,201.57 614.99,202.85 614.84,201.21" fill="#6b0000" stroke="#6b0000" stroke-width="0.5" stroke-linejoin="round"/><polygon points="609.54,201.57 609.51,203.18 614.96,204.45 614.99,202.85" fill="#6a0000" stroke="#6a0000" stroke-width="0.5" stroke-linejoin="round"/><polygon points="609.51,203.18 609.32,204.71 614.77,205.98 614.96,204.45" fill="#6b0000" stroke="#6b0000" stroke-width="0.5" stroke-linejoin="round"/><polygon points="609.32,204.71 608.98,206.12 614.44,207.39 614.77,205.98" fill="#6e0101" stroke="#6e0101" stroke-width="0.5" stroke-linejoin="round"/><polygon points="608.98,206.12 608.52,207.37 613.98,208.64 614.44,207.39" fill="#720202" stroke="#720202" stroke-width="0.5" stroke-linejoin="round"/><polygon points="608.52,207.37 607.96,208.42 613.42,209.69 613.98,208.64" fill="#770303" stroke="#770303" stroke-width="0.5" stroke-linejoin="round"/><polygon points="607.96,208.42 607.33,209.25 612.79,210.52 613.42,209.69" fill="#7d0404" stroke="#7d0404" stroke-width="0.5" stroke-linejoin="round"/><polygon points="607.33,209.25 606.66,209.82 612.12,211.10 612.79,210.52" fill="#840505" stroke="#840505" stroke-width="0.5" stroke-linejoin="round"/><polygon points="606.66,209.82 605.99,210.14 611.44,211.41 612.12,211.10" fill="#8c0707" stroke="#8c0707" stroke-width="0.5" stroke-linejoin="round"/><polygon points="605.99,210.14 605.33,210.18 610.79,211.45 611.44,211.41" fill="#940909" stroke="#940909" stroke-width="0.5" stroke-linejoin="round"/><polygon points="615.92,194.18 617.27,194.59 622.72,195.86 621.37,195.45" fill="#970909" stroke="#970909" stroke-width="0.5" stroke-linejoin="round"/><polygon points="617.27,194.59 618.53,195.26 623.98,196.54 622.72,195.86" fill="#8f0808" stroke="#8f0808" stroke-width="0.5" stroke-linejoin="round"/><polygon points="618.53,195.26 619.68,196.18 625.13,197.45 623.98,196.54" fill="#870606" stroke="#870606" stroke-width="0.5" stroke-linejoin="round"/><polygon points="619.68,196.18 620.69,197.31 626.15,198.58 625.13,197.45" fill="#800404" stroke="#800404" stroke-width="0.5" stroke-linejoin="round"/><polygon points="620.69,197.31 621.55,198.62 627.00,199.89 626.15,198.58" fill="#790303" stroke="#790303" stroke-width="0.5" stroke-linejoin="round"/><polygon points="621.55,198.62 622.23,200.08 627.68,201.35 627.00,199.89" fill="#730202" stroke="#730202" stroke-width="0.5" stroke-linejoin="round"/><polygon points="622.23,200.08 622.73,201.64 628.18,202.92 627.68,201.35" fill="#6f0101" stroke="#6f0101" stroke-width="0.5" stroke-linejoin="round"/><polygon points="622.73,201.64 623.05,203.27 628.50,204.54 628.18,202.92" fill="#6c0000" stroke="#6c0000" stroke-width="0.5" stroke-linejoin="round"/><polygon points="623.05,203.27 623.18,204.90 628.63,206.18 628.50,204.54" fill="#6a0000" stroke="#6a0000" stroke-width="0.5" stroke-linejoin="round"/><polygon points="623.18,204.90 623.14,206.51 628.59,207.78 628.63,206.18" fill="#6a0000" stroke="#6a0000" stroke-width="0.5" stroke-linejoin="round"/><polygon points="623.14,206.51 622.93,208.03 628.39,209.30 628.59,207.78" fill="#6c0000" stroke="#6c0000" stroke-width="0.5" stroke-linejoin="round"/><polygon points="622.93,208.03 622.58,209.42 628.04,210.70 628.39,209.30" fill="#6e0101" stroke="#6e0101" stroke-width="0.5" stroke-linejoin="round"/><polygon points="622.58,209.42 622.11,210.65 627.57,211.93 628.04,210.70" fill="#720202" stroke="#720202" stroke-width="0.5" stroke-linejoin="round"/><polygon points="622.11,210.65 621.54,211.69 627.00,212.96 627.57,211.93" fill="#780303" stroke="#780303" stroke-width="0.5" stroke-linejoin="round"/><polygon points="621.54,211.69 620.91,212.49 626.36,213.76 627.00,212.96" fill="#7e0404" stroke="#7e0404" stroke-width="0.5" stroke-linejoin="round"/><polygon points="620.91,212.49 620.24,213.04 625.69,214.32 626.36,213.76" fill="#850606" stroke="#850606" stroke-width="0.5" stroke-linejoin="round"/><polygon points="620.24,213.04 619.56,213.33 625.02,214.61 625.69,214.32" fill="#8d0707" stroke="#8d0707" stroke-width="0.5" stroke-linejoin="round"/><polygon points="619.56,213.33 618.91,213.35 624.37,214.63 625.02,214.61" fill="#950909" stroke="#950909" stroke-width="0.5" stroke-linejoin="round"/><polygon points="590.64,206.34 590.23,205.64 595.68,206.91 596.09,207.62" fill="#d91c1c" stroke="#d91c1c" stroke-width="0.5" stroke-linejoin="round"/><polygon points="590.23,205.64 589.96,204.71 595.41,205.99 595.68,206.91" fill="#e22727" stroke="#e22727" stroke-width="0.5" stroke-linejoin="round"/><polygon points="589.96,204.71 589.84,203.60 595.29,204.87 595.41,205.99" fill="#eb3232" stroke="#eb3232" stroke-width="0.5" stroke-linejoin="round"/><polygon points="589.84,203.60 589.89,202.34 595.35,203.61 595.29,204.87" fill="#f53e3e" stroke="#f53e3e" stroke-width="0.5" stroke-linejoin="round"/><polygon points="589.89,202.34 590.13,200.96 595.58,202.23 595.35,203.61" fill="#fa4444" stroke="#fa4444" stroke-width="0.5" stroke-linejoin="round"/><polygon points="590.13,200.96 590.55,199.52 596.00,200.79 595.58,202.23" fill="#ff4a4a" stroke="#ff4a4a" stroke-width="0.5" stroke-linejoin="round"/><polygon points="590.55,199.52 591.15,198.06 596.60,199.33 596.00,200.79" fill="#ff4a4a" stroke="#ff4a4a" stroke-width="0.5" stroke-linejoin="round"/><polygon points="591.15,198.06 591.92,196.63 597.38,197.90 596.60,199.33" fill="#ff4a4a" stroke="#ff4a4a" stroke-width="0.5" stroke-linejoin="round"/><polygon points="591.92,196.63 592.87,195.27 598.32,196.54 597.38,197.90" fill="#ff4a4a" stroke="#ff4a4a" stroke-width="0.5" stroke-linejoin="round"/><polygon points="592.87,195.27 593.96,194.03 599.41,195.30 598.32,196.54" fill="#ff4a4a" stroke="#ff4a4a" stroke-width="0.5" stroke-linejoin="round"/><polygon points="593.96,194.03 595.17,192.95 600.63,194.22 599.41,195.30" fill="#ff4a4a" stroke="#ff4a4a" stroke-width="0.5" stroke-linejoin="round"/><polygon points="595.17,192.95 596.49,192.07 601.94,193.34 600.63,194.22" fill="#fd4747" stroke="#fd4747" stroke-width="0.5" stroke-linejoin="round"/><polygon points="596.49,192.07 597.88,191.41 603.33,192.68 601.94,193.34" fill="#f33c3c" stroke="#f33c3c" stroke-width="0.5" stroke-linejoin="round"/><polygon points="597.88,191.41 599.30,191.00 604.76,192.27 603.33,192.68" fill="#e92f2f" stroke="#e92f2f" stroke-width="0.5" stroke-linejoin="round"/><polygon points="599.30,191.00 600.74,190.85 606.19,192.12 604.76,192.27" fill="#dd2222" stroke="#dd2222" stroke-width="0.5" stroke-linejoin="round"/><polygon points="600.74,190.85 602.15,190.97 607.61,192.24 606.19,192.12" fill="#d11313" stroke="#d11313" stroke-width="0.5" stroke-linejoin="round"/><polygon points="605.33,210.18 604.74,209.96 610.19,211.23 610.79,211.45" fill="#ca0b0b" stroke="#ca0b0b" stroke-width="0.5" stroke-linejoin="round"/><polygon points="604.74,209.96 604.23,209.47 609.68,210.74 610.19,211.23" fill="#d21313" stroke="#d21313" stroke-width="0.5" stroke-linejoin="round"/><polygon points="604.23,209.47 603.83,208.75 609.29,210.02 609.68,210.74" fill="#da1d1d" stroke="#da1d1d" stroke-width="0.5" stroke-linejoin="round"/><polygon points="603.83,208.75 603.58,207.80 609.03,209.07 609.29,210.02" fill="#e32828" stroke="#e32828" stroke-width="0.5" stroke-linejoin="round"/><polygon points="603.58,207.80 603.47,206.67 608.93,207.95 609.03,209.07" fill="#ec3333" stroke="#ec3333" stroke-width="0.5" stroke-linejoin="round"/><polygon points="603.47,206.67 603.54,205.40 609.00,206.67 608.93,207.95" fill="#f53e3e" stroke="#f53e3e" stroke-width="0.5" stroke-linejoin="round"/><polygon points="603.54,205.40 603.79,204.01 609.25,205.29 609.00,206.67" fill="#fa4444" stroke="#fa4444" stroke-width="0.5" stroke-linejoin="round"/><polygon points="603.79,204.01 604.23,202.57 609.68,203.84 609.25,205.29" fill="#ff4a4a" stroke="#ff4a4a" stroke-width="0.5" stroke-linejoin="round"/><polygon points="604.23,202.57 604.85,201.11 610.30,202.38 609.68,203.84" fill="#ff4a4a" stroke="#ff4a4a" stroke-width="0.5" stroke-linejoin="round"/><polygon points="604.85,201.11 605.64,199.68 611.09,200.95 610.30,202.38" fill="#ff4a4a" stroke="#ff4a4a" stroke-width="0.5" stroke-linejoin="round"/><polygon points="605.64,199.68 606.60,198.33 612.05,199.61 611.09,200.95" fill="#ff4a4a" stroke="#ff4a4a" stroke-width="0.5" stroke-linejoin="round"/><polygon points="606.60,198.33 607.70,197.11 613.15,198.38 612.05,199.61" fill="#ff4a4a" stroke="#ff4a4a" stroke-width="0.5" stroke-linejoin="round"/><polygon points="607.70,197.11 608.93,196.04 614.38,197.32 613.15,198.38" fill="#ff4a4a" stroke="#ff4a4a" stroke-width="0.5" stroke-linejoin="round"/><polygon points="608.93,196.04 610.25,195.18 615.70,196.45 614.38,197.32" fill="#fc4646" stroke="#fc4646" stroke-width="0.5" stroke-linejoin="round"/><polygon points="610.25,195.18 611.64,194.54 617.09,195.81 615.70,196.45" fill="#f23b3b" stroke="#f23b3b" stroke-width="0.5" stroke-linejoin="round"/><polygon points="611.64,194.54 613.07,194.15 618.52,195.43 617.09,195.81" fill="#e82e2e" stroke="#e82e2e" stroke-width="0.5" stroke-linejoin="round"/><polygon points="613.07,194.15 614.51,194.03 619.96,195.30 618.52,195.43" fill="#dc2020" stroke="#dc2020" stroke-width="0.5" stroke-linejoin="round"/><polygon points="614.51,194.03 615.92,194.18 621.37,195.45 619.96,195.30" fill="#d01212" stroke="#d01212" stroke-width="0.5" stroke-linejoin="round"/><polygon points="618.91,213.35 618.33,213.10 623.78,214.38 624.37,214.63" fill="#cb0c0c" stroke="#cb0c0c" stroke-width="0.5" stroke-linejoin="round"/><polygon points="618.33,213.10 617.83,212.60 623.28,213.87 623.78,214.38" fill="#d21515" stroke="#d21515" stroke-width="0.5" stroke-linejoin="round"/><polygon points="617.83,212.60 617.44,211.85 622.90,213.12 623.28,213.87" fill="#da1e1e" stroke="#da1e1e" stroke-width="0.5" stroke-linejoin="round"/><polygon points="617.44,211.85 617.20,210.89 622.65,212.16 622.90,213.12" fill="#e32929" stroke="#e32929" stroke-width="0.5" stroke-linejoin="round"/><polygon points="617.20,210.89 617.11,209.74 622.56,211.02 622.65,212.16" fill="#ee3434" stroke="#ee3434" stroke-width="0.5" stroke-linejoin="round"/><polygon points="617.11,209.74 617.20,208.46 622.65,209.73 622.56,211.02" fill="#f63f3f" stroke="#f63f3f" stroke-width="0.5" stroke-linejoin="round"/><polygon points="617.20,208.46 617.46,207.07 622.92,208.34 622.65,209.73" fill="#fb4545" stroke="#fb4545" stroke-width="0.5" stroke-linejoin="round"/><polygon points="617.46,207.07 617.91,205.62 623.37,206.89 622.92,208.34" fill="#ff4a4a" stroke="#ff4a4a" stroke-width="0.5" stroke-linejoin="round"/><polygon points="617.91,205.62 618.55,204.16 624.00,205.43 623.37,206.89" fill="#ff4a4a" stroke="#ff4a4a" stroke-width="0.5" stroke-linejoin="round"/><path d="M590.64,206.34L590.23,205.64M596.09,207.62L595.68,206.91" stroke="#8a0000" stroke-width="0.55" fill="none"/><path d="M590.23,205.64L589.96,204.71M595.68,206.91L595.41,205.99" stroke="#8a0000" stroke-width="0.55" fill="none"/><path d="M589.96,204.71L589.84,203.60M595.41,205.99L595.29,204.87" stroke="#8a0000" stroke-width="0.55" fill="none"/><path d="M589.84,203.60L589.89,202.34M595.29,204.87L595.35,203.61" stroke="#8a0000" stroke-width="0.55" fill="none"/><path d="M589.89,202.34L590.13,200.96M595.35,203.61L595.58,202.23" stroke="#8a0000" stroke-width="0.55" fill="none"/><path d="M590.13,200.96L590.55,199.52M595.58,202.23L596.00,200.79" stroke="#8a0000" stroke-width="0.55" fill="none"/><path d="M590.55,199.52L591.15,198.06M596.00,200.79L596.60,199.33" stroke="#8a0000" stroke-width="0.55" fill="none"/><path d="M591.15,198.06L591.92,196.63M596.60,199.33L597.38,197.90" stroke="#8a0000" stroke-width="0.55" fill="none"/><path d="M591.92,196.63L592.87,195.27M597.38,197.90L598.32,196.54" stroke="#8a0000" stroke-width="0.55" fill="none"/><path d="M592.87,195.27L593.96,194.03M598.32,196.54L599.41,195.30" stroke="#8a0000" stroke-width="0.55" fill="none"/><path d="M593.96,194.03L595.17,192.95M599.41,195.30L600.63,194.22" stroke="#8a0000" stroke-width="0.55" fill="none"/><path d="M595.17,192.95L596.49,192.07M600.63,194.22L601.94,193.34" stroke="#8a0000" stroke-width="0.55" fill="none"/><path d="M596.49,192.07L597.88,191.41M601.94,193.34L603.33,192.68" stroke="#8a0000" stroke-width="0.55" fill="none"/><path d="M597.88,191.41L599.30,191.00M603.33,192.68L604.76,192.27" stroke="#8a0000" stroke-width="0.55" fill="none"/><path d="M599.30,191.00L600.74,190.85M604.76,192.27L606.19,192.12" stroke="#8a0000" stroke-width="0.55" fill="none"/><path d="M600.74,190.85L602.15,190.97M606.19,192.12L607.61,192.24" stroke="#8a0000" stroke-width="0.55" fill="none"/><path d="M605.33,210.18L604.74,209.96M610.79,211.45L610.19,211.23" stroke="#8a0000" stroke-width="0.55" fill="none"/><path d="M604.74,209.96L604.23,209.47M610.19,211.23L609.68,210.74" stroke="#8a0000" stroke-width="0.55" fill="none"/><path d="M604.23,209.47L603.83,208.75M609.68,210.74L609.29,210.02" stroke="#8a0000" stroke-width="0.55" fill="none"/><path d="M603.83,208.75L603.58,207.80M609.29,210.02L609.03,209.07" stroke="#8a0000" stroke-width="0.55" fill="none"/><path d="M603.58,207.80L603.47,206.67M609.03,209.07L608.93,207.95" stroke="#8a0000" stroke-width="0.55" fill="none"/><path d="M603.47,206.67L603.54,205.40M608.93,207.95L609.00,206.67" stroke="#8a0000" stroke-width="0.55" fill="none"/><path d="M603.54,205.40L603.79,204.01M609.00,206.67L609.25,205.29" stroke="#8a0000" stroke-width="0.55" fill="none"/><path d="M603.79,204.01L604.23,202.57M609.25,205.29L609.68,203.84" stroke="#8a0000" stroke-width="0.55" fill="none"/><path d="M604.23,202.57L604.85,201.11M609.68,203.84L610.30,202.38" stroke="#8a0000" stroke-width="0.55" fill="none"/><path d="M604.85,201.11L605.64,199.68M610.30,202.38L611.09,200.95" stroke="#8a0000" stroke-width="0.55" fill="none"/><path d="M605.64,199.68L606.60,198.33M611.09,200.95L612.05,199.61" stroke="#8a0000" stroke-width="0.55" fill="none"/><path d="M606.60,198.33L607.70,197.11M612.05,199.61L613.15,198.38" stroke="#8a0000" stroke-width="0.55" fill="none"/><path d="M607.70,197.11L608.93,196.04M613.15,198.38L614.38,197.32" stroke="#8a0000" stroke-width="0.55" fill="none"/><path d="M608.93,196.04L610.25,195.18M614.38,197.32L615.70,196.45" stroke="#8a0000" stroke-width="0.55" fill="none"/><path d="M610.25,195.18L611.64,194.54M615.70,196.45L617.09,195.81" stroke="#8a0000" stroke-width="0.55" fill="none"/><path d="M611.64,194.54L613.07,194.15M617.09,195.81L618.52,195.43" stroke="#8a0000" stroke-width="0.55" fill="none"/><path d="M613.07,194.15L614.51,194.03M618.52,195.43L619.96,195.30" stroke="#8a0000" stroke-width="0.55" fill="none"/><path d="M614.51,194.03L615.92,194.18M619.96,195.30L621.37,195.45" stroke="#8a0000" stroke-width="0.55" fill="none"/><path d="M618.91,213.35L618.33,213.10M624.37,214.63L623.78,214.38" stroke="#8a0000" stroke-width="0.55" fill="none"/><path d="M618.33,213.10L617.83,212.60M623.78,214.38L623.28,213.87" stroke="#8a0000" stroke-width="0.55" fill="none"/><path d="M617.83,212.60L617.44,211.85M623.28,213.87L622.90,213.12" stroke="#8a0000" stroke-width="0.55" fill="none"/><path d="M617.44,211.85L617.20,210.89M622.90,213.12L622.65,212.16" stroke="#8a0000" stroke-width="0.55" fill="none"/><path d="M617.20,210.89L617.11,209.74M622.65,212.16L622.56,211.02" stroke="#8a0000" stroke-width="0.55" fill="none"/><path d="M617.11,209.74L617.20,208.46M622.56,211.02L622.65,209.73" stroke="#8a0000" stroke-width="0.55" fill="none"/><path d="M617.20,208.46L617.46,207.07M622.65,209.73L622.92,208.34" stroke="#8a0000" stroke-width="0.55" fill="none"/><path d="M617.46,207.07L617.91,205.62M622.92,208.34L623.37,206.89" stroke="#8a0000" stroke-width="0.55" fill="none"/><path d="M617.91,205.62L618.55,204.16M623.37,206.89L624.00,205.43" stroke="#8a0000" stroke-width="0.55" fill="none"/><path d="M637.7,195.5 C636,201 633,206 630.8,210.8" fill="none" stroke="#e41e1e" stroke-width="3.2" stroke-linecap="round" stroke-linejoin="round"/><polygon points="632.20,231.41 632.97,231.75 636.77,233.02 636.00,232.68" fill="#767676" stroke="#767676" stroke-width="0.5" stroke-linejoin="round"/><polygon points="632.97,231.75 633.67,232.26 637.47,233.53 636.77,233.02" fill="#6e6e6e" stroke="#6e6e6e" stroke-width="0.5" stroke-linejoin="round"/><polygon points="633.67,232.26 634.29,232.93 638.09,234.19 637.47,233.53" fill="#666666" stroke="#666666" stroke-width="0.5" stroke-linejoin="round"/><polygon points="634.29,232.93 634.82,233.73 638.62,235.00 638.09,234.19" fill="#5f5f5f" stroke="#5f5f5f" stroke-width="0.5" stroke-linejoin="round"/><polygon points="634.82,233.73 635.26,234.65 639.05,235.92 638.62,235.00" fill="#585858" stroke="#585858" stroke-width="0.5" stroke-linejoin="round"/><polygon points="635.26,234.65 635.60,235.67 639.39,236.93 639.05,235.92" fill="#535353" stroke="#535353" stroke-width="0.5" stroke-linejoin="round"/><polygon points="635.60,235.67 635.84,236.75 639.63,238.01 639.39,236.93" fill="#4f4f4f" stroke="#4f4f4f" stroke-width="0.5" stroke-linejoin="round"/><polygon points="635.84,236.75 635.98,237.87 639.78,239.13 639.63,238.01" fill="#4c4c4c" stroke="#4c4c4c" stroke-width="0.5" stroke-linejoin="round"/><polygon points="635.98,237.87 636.04,238.99 639.84,240.25 639.78,239.13" fill="#4a4a4a" stroke="#4a4a4a" stroke-width="0.5" stroke-linejoin="round"/><polygon points="636.04,238.99 636.02,240.09 639.82,241.35 639.84,240.25" fill="#4a4a4a" stroke="#4a4a4a" stroke-width="0.5" stroke-linejoin="round"/><polygon points="636.02,240.09 635.94,241.13 639.73,242.39 639.82,241.35" fill="#4c4c4c" stroke="#4c4c4c" stroke-width="0.5" stroke-linejoin="round"/><polygon points="635.94,241.13 635.80,242.08 639.59,243.35 639.73,242.39" fill="#4f4f4f" stroke="#4f4f4f" stroke-width="0.5" stroke-linejoin="round"/><polygon points="635.80,242.08 635.62,242.93 639.41,244.20 639.59,243.35" fill="#535353" stroke="#535353" stroke-width="0.5" stroke-linejoin="round"/><polygon points="635.62,242.93 635.41,243.65 639.21,244.91 639.41,244.20" fill="#585858" stroke="#585858" stroke-width="0.5" stroke-linejoin="round"/><polygon points="635.41,243.65 635.20,244.21 639.00,245.48 639.21,244.91" fill="#5f5f5f" stroke="#5f5f5f" stroke-width="0.5" stroke-linejoin="round"/><polygon points="635.20,244.21 635.00,244.61 638.80,245.88 639.00,245.48" fill="#666666" stroke="#666666" stroke-width="0.5" stroke-linejoin="round"/><polygon points="635.00,244.61 634.83,244.84 638.63,246.11 638.80,245.88" fill="#6e6e6e" stroke="#6e6e6e" stroke-width="0.5" stroke-linejoin="round"/><polygon points="634.83,244.84 634.71,244.89 638.50,246.16 638.63,246.11" fill="#767676" stroke="#767676" stroke-width="0.5" stroke-linejoin="round"/><polygon points="622.21,239.95 622.37,239.39 626.16,240.66 626.00,241.22" fill="#bfbfbf" stroke="#bfbfbf" stroke-width="0.5" stroke-linejoin="round"/><polygon points="622.37,239.39 622.62,238.71 626.42,239.98 626.16,240.66" fill="#d2d2d2" stroke="#d2d2d2" stroke-width="0.5" stroke-linejoin="round"/><polygon points="622.62,238.71 622.98,237.94 626.77,239.20 626.42,239.98" fill="#e2e2e2" stroke="#e2e2e2" stroke-width="0.5" stroke-linejoin="round"/><polygon points="622.98,237.94 623.42,237.09 627.22,238.36 626.77,239.20" fill="#ebebeb" stroke="#ebebeb" stroke-width="0.5" stroke-linejoin="round"/><polygon points="623.42,237.09 623.97,236.21 627.76,237.47 627.22,238.36" fill="#f4f4f4" stroke="#f4f4f4" stroke-width="0.5" stroke-linejoin="round"/><polygon points="623.97,236.21 624.60,235.32 628.39,236.58 627.76,237.47" fill="#f4f4f4" stroke="#f4f4f4" stroke-width="0.5" stroke-linejoin="round"/><polygon points="624.60,235.32 625.31,234.45 629.11,235.72 628.39,236.58" fill="#f4f4f4" stroke="#f4f4f4" stroke-width="0.5" stroke-linejoin="round"/><polygon points="625.31,234.45 626.09,233.64 629.88,234.90 629.11,235.72" fill="#f4f4f4" stroke="#f4f4f4" stroke-width="0.5" stroke-linejoin="round"/><polygon points="626.09,233.64 626.93,232.90 630.72,234.17 629.88,234.90" fill="#f4f4f4" stroke="#f4f4f4" stroke-width="0.5" stroke-linejoin="round"/><polygon points="626.93,232.90 627.80,232.28 631.60,233.54 630.72,234.17" fill="#f4f4f4" stroke="#f4f4f4" stroke-width="0.5" stroke-linejoin="round"/><polygon points="627.80,232.28 628.70,231.78 632.49,233.05 631.60,233.54" fill="#ededed" stroke="#ededed" stroke-width="0.5" stroke-linejoin="round"/><polygon points="628.70,231.78 629.61,231.44 633.40,232.70 632.49,233.05" fill="#dbdbdb" stroke="#dbdbdb" stroke-width="0.5" stroke-linejoin="round"/><polygon points="629.61,231.44 630.50,231.25 634.30,232.52 633.40,232.70" fill="#c7c7c7" stroke="#c7c7c7" stroke-width="0.5" stroke-linejoin="round"/><polygon points="630.50,231.25 631.38,231.24 635.17,232.51 634.30,232.52" fill="#b0b0b0" stroke="#b0b0b0" stroke-width="0.5" stroke-linejoin="round"/><polygon points="631.38,231.24 632.20,231.41 636.00,232.68 635.17,232.51" fill="#999999" stroke="#999999" stroke-width="0.5" stroke-linejoin="round"/><polygon points="634.71,244.89 634.64,244.77 638.44,246.04 638.50,246.16" fill="#939393" stroke="#939393" stroke-width="0.5" stroke-linejoin="round"/><polygon points="634.64,244.77 634.64,244.48 638.44,245.75 638.44,246.04" fill="#a1a1a1" stroke="#a1a1a1" stroke-width="0.5" stroke-linejoin="round"/><polygon points="634.64,244.48 634.73,244.04 638.52,245.30 638.44,245.75" fill="#b1b1b1" stroke="#b1b1b1" stroke-width="0.5" stroke-linejoin="round"/><polygon points="634.73,244.04 634.90,243.45 638.70,244.72 638.52,245.30" fill="#c2c2c2" stroke="#c2c2c2" stroke-width="0.5" stroke-linejoin="round"/><polygon points="634.90,243.45 635.18,242.76 638.97,244.02 638.70,244.72" fill="#d5d5d5" stroke="#d5d5d5" stroke-width="0.5" stroke-linejoin="round"/><polygon points="635.18,242.76 635.54,241.97 639.34,243.23 638.97,244.02" fill="#e3e3e3" stroke="#e3e3e3" stroke-width="0.5" stroke-linejoin="round"/><polygon points="635.54,241.97 636.01,241.11 639.80,242.38 639.34,243.23" fill="#ededed" stroke="#ededed" stroke-width="0.5" stroke-linejoin="round"/><polygon points="636.01,241.11 636.57,240.23 640.36,241.49 639.80,242.38" fill="#f4f4f4" stroke="#f4f4f4" stroke-width="0.5" stroke-linejoin="round"/><polygon points="636.57,240.23 637.21,239.34 641.01,240.60 640.36,241.49" fill="#f4f4f4" stroke="#f4f4f4" stroke-width="0.5" stroke-linejoin="round"/><polygon points="637.21,239.34 637.94,238.48 641.73,239.74 641.01,240.60" fill="#f4f4f4" stroke="#f4f4f4" stroke-width="0.5" stroke-linejoin="round"/><path d="M622.21,239.95L622.37,239.39M626.00,241.22L626.16,240.66" stroke="#6a6a6a" stroke-width="0.55" fill="none"/><path d="M622.37,239.39L622.62,238.71M626.16,240.66L626.42,239.98" stroke="#6a6a6a" stroke-width="0.55" fill="none"/><path d="M622.62,238.71L622.98,237.94M626.42,239.98L626.77,239.20" stroke="#6a6a6a" stroke-width="0.55" fill="none"/><path d="M622.98,237.94L623.42,237.09M626.77,239.20L627.22,238.36" stroke="#6a6a6a" stroke-width="0.55" fill="none"/><path d="M623.42,237.09L623.97,236.21M627.22,238.36L627.76,237.47" stroke="#6a6a6a" stroke-width="0.55" fill="none"/><path d="M623.97,236.21L624.60,235.32M627.76,237.47L628.39,236.58" stroke="#6a6a6a" stroke-width="0.55" fill="none"/><path d="M624.60,235.32L625.31,234.45M628.39,236.58L629.11,235.72" stroke="#6a6a6a" stroke-width="0.55" fill="none"/><path d="M625.31,234.45L626.09,233.64M629.11,235.72L629.88,234.90" stroke="#6a6a6a" stroke-width="0.55" fill="none"/><path d="M626.09,233.64L626.93,232.90M629.88,234.90L630.72,234.17" stroke="#6a6a6a" stroke-width="0.55" fill="none"/><path d="M626.93,232.90L627.80,232.28M630.72,234.17L631.60,233.54" stroke="#6a6a6a" stroke-width="0.55" fill="none"/><path d="M627.80,232.28L628.70,231.78M631.60,233.54L632.49,233.05" stroke="#6a6a6a" stroke-width="0.55" fill="none"/><path d="M628.70,231.78L629.61,231.44M632.49,233.05L633.40,232.70" stroke="#6a6a6a" stroke-width="0.55" fill="none"/><path d="M629.61,231.44L630.50,231.25M633.40,232.70L634.30,232.52" stroke="#6a6a6a" stroke-width="0.55" fill="none"/><path d="M630.50,231.25L631.38,231.24M634.30,232.52L635.17,232.51" stroke="#6a6a6a" stroke-width="0.55" fill="none"/><path d="M631.38,231.24L632.20,231.41M635.17,232.51L636.00,232.68" stroke="#6a6a6a" stroke-width="0.55" fill="none"/><path d="M634.71,244.89L634.64,244.77M638.50,246.16L638.44,246.04" stroke="#6a6a6a" stroke-width="0.55" fill="none"/><path d="M634.64,244.77L634.64,244.48M638.44,246.04L638.44,245.75" stroke="#6a6a6a" stroke-width="0.55" fill="none"/><path d="M634.64,244.48L634.73,244.04M638.44,245.75L638.52,245.30" stroke="#6a6a6a" stroke-width="0.55" fill="none"/><path d="M634.73,244.04L634.90,243.45M638.52,245.30L638.70,244.72" stroke="#6a6a6a" stroke-width="0.55" fill="none"/><path d="M634.90,243.45L635.18,242.76M638.70,244.72L638.97,244.02" stroke="#6a6a6a" stroke-width="0.55" fill="none"/><path d="M635.18,242.76L635.54,241.97M638.97,244.02L639.34,243.23" stroke="#6a6a6a" stroke-width="0.55" fill="none"/><path d="M635.54,241.97L636.01,241.11M639.34,243.23L639.80,242.38" stroke="#6a6a6a" stroke-width="0.55" fill="none"/><path d="M636.01,241.11L636.57,240.23M639.80,242.38L640.36,241.49" stroke="#6a6a6a" stroke-width="0.55" fill="none"/><path d="M636.57,240.23L637.21,239.34M640.36,241.49L641.01,240.60" stroke="#6a6a6a" stroke-width="0.55" fill="none"/><path d="M637.21,239.34L637.94,238.48M641.01,240.60L641.73,239.74" stroke="#6a6a6a" stroke-width="0.55" fill="none"/><polygon points="638.25,214.47 638.93,215.31 642.16,218.86 641.48,218.02" fill="#980909" stroke="#980909" stroke-width="0.5" stroke-linejoin="round"/><polygon points="638.93,215.31 639.44,216.28 642.67,219.84 642.16,218.86" fill="#8f0808" stroke="#8f0808" stroke-width="0.5" stroke-linejoin="round"/><polygon points="639.44,216.28 639.77,217.36 643.00,220.91 642.67,219.84" fill="#870606" stroke="#870606" stroke-width="0.5" stroke-linejoin="round"/><polygon points="639.77,217.36 639.93,218.52 643.16,222.08 643.00,220.91" fill="#800505" stroke="#800505" stroke-width="0.5" stroke-linejoin="round"/><polygon points="639.93,218.52 639.90,219.74 643.13,223.29 643.16,222.08" fill="#790303" stroke="#790303" stroke-width="0.5" stroke-linejoin="round"/><polygon points="639.90,219.74 639.71,220.98 642.93,224.53 643.13,223.29" fill="#740202" stroke="#740202" stroke-width="0.5" stroke-linejoin="round"/><polygon points="639.71,220.98 639.35,222.22 642.58,225.77 642.93,224.53" fill="#6f0101" stroke="#6f0101" stroke-width="0.5" stroke-linejoin="round"/><polygon points="639.35,222.22 638.86,223.42 642.09,226.97 642.58,225.77" fill="#6c0000" stroke="#6c0000" stroke-width="0.5" stroke-linejoin="round"/><polygon points="638.86,223.42 638.25,224.56 641.48,228.11 642.09,226.97" fill="#6b0000" stroke="#6b0000" stroke-width="0.5" stroke-linejoin="round"/><polygon points="638.25,224.56 637.55,225.61 640.78,229.16 641.48,228.11" fill="#6a0000" stroke="#6a0000" stroke-width="0.5" stroke-linejoin="round"/><polygon points="637.55,225.61 636.78,226.54 640.01,230.09 640.78,229.16" fill="#6b0000" stroke="#6b0000" stroke-width="0.5" stroke-linejoin="round"/><polygon points="636.78,226.54 635.99,227.34 639.22,230.89 640.01,230.09" fill="#6e0101" stroke="#6e0101" stroke-width="0.5" stroke-linejoin="round"/><polygon points="635.99,227.34 635.19,227.98 638.42,231.53 639.22,230.89" fill="#720202" stroke="#720202" stroke-width="0.5" stroke-linejoin="round"/><polygon points="635.19,227.98 634.42,228.46 637.65,232.01 638.42,231.53" fill="#770303" stroke="#770303" stroke-width="0.5" stroke-linejoin="round"/><polygon points="634.42,228.46 633.72,228.77 636.95,232.32 637.65,232.01" fill="#7e0404" stroke="#7e0404" stroke-width="0.5" stroke-linejoin="round"/><polygon points="633.72,228.77 633.11,228.90 636.33,232.46 636.95,232.32" fill="#850606" stroke="#850606" stroke-width="0.5" stroke-linejoin="round"/><polygon points="633.11,228.90 632.61,228.87 635.84,232.42 636.33,232.46" fill="#8d0707" stroke="#8d0707" stroke-width="0.5" stroke-linejoin="round"/><polygon points="632.61,228.87 632.25,228.68 635.48,232.23 635.84,232.42" fill="#950909" stroke="#950909" stroke-width="0.5" stroke-linejoin="round"/><polygon points="625.21,216.15 626.02,215.43 629.24,218.98 628.44,219.70" fill="#fa4444" stroke="#fa4444" stroke-width="0.5" stroke-linejoin="round"/><polygon points="626.02,215.43 626.96,214.73 630.19,218.28 629.24,218.98" fill="#ff4a4a" stroke="#ff4a4a" stroke-width="0.5" stroke-linejoin="round"/><polygon points="626.96,214.73 628.03,214.10 631.26,217.65 630.19,218.28" fill="#ff4a4a" stroke="#ff4a4a" stroke-width="0.5" stroke-linejoin="round"/><polygon points="628.03,214.10 629.19,213.55 632.42,217.10 631.26,217.65" fill="#ff4a4a" stroke="#ff4a4a" stroke-width="0.5" stroke-linejoin="round"/><polygon points="629.19,213.55 630.41,213.12 633.64,216.67 632.42,217.10" fill="#ff4a4a" stroke="#ff4a4a" stroke-width="0.5" stroke-linejoin="round"/><polygon points="630.41,213.12 631.67,212.82 634.90,216.38 633.64,216.67" fill="#ff4a4a" stroke="#ff4a4a" stroke-width="0.5" stroke-linejoin="round"/><polygon points="631.67,212.82 632.94,212.68 636.17,216.23 634.90,216.38" fill="#ff4a4a" stroke="#ff4a4a" stroke-width="0.5" stroke-linejoin="round"/><polygon points="632.94,212.68 634.17,212.70 637.40,216.25 636.17,216.23" fill="#fc4747" stroke="#fc4747" stroke-width="0.5" stroke-linejoin="round"/><polygon points="634.17,212.70 635.35,212.89 638.58,216.44 637.40,216.25" fill="#f33c3c" stroke="#f33c3c" stroke-width="0.5" stroke-linejoin="round"/><polygon points="635.35,212.89 636.44,213.25 639.67,216.80 638.58,216.44" fill="#e92f2f" stroke="#e92f2f" stroke-width="0.5" stroke-linejoin="round"/><polygon points="636.44,213.25 637.41,213.78 640.64,217.33 639.67,216.80" fill="#dd2121" stroke="#dd2121" stroke-width="0.5" stroke-linejoin="round"/><polygon points="637.41,213.78 638.25,214.47 641.48,218.02 640.64,217.33" fill="#d11313" stroke="#d11313" stroke-width="0.5" stroke-linejoin="round"/><polygon points="632.25,228.68 632.05,228.34 635.28,231.89 635.48,232.23" fill="#cb0c0c" stroke="#cb0c0c" stroke-width="0.5" stroke-linejoin="round"/><polygon points="632.05,228.34 632.01,227.87 635.24,231.42 635.28,231.89" fill="#d21414" stroke="#d21414" stroke-width="0.5" stroke-linejoin="round"/><polygon points="632.01,227.87 632.16,227.29 635.39,230.84 635.24,231.42" fill="#da1e1e" stroke="#da1e1e" stroke-width="0.5" stroke-linejoin="round"/><polygon points="632.16,227.29 632.49,226.64 635.72,230.19 635.39,230.84" fill="#e32929" stroke="#e32929" stroke-width="0.5" stroke-linejoin="round"/><polygon points="632.49,226.64 632.99,225.93 636.22,229.48 635.72,230.19" fill="#ed3434" stroke="#ed3434" stroke-width="0.5" stroke-linejoin="round"/><polygon points="632.99,225.93 633.67,225.20 636.90,228.75 636.22,229.48" fill="#f63f3f" stroke="#f63f3f" stroke-width="0.5" stroke-linejoin="round"/><polygon points="633.67,225.20 634.50,224.47 637.73,228.03 636.90,228.75" fill="#fa4545" stroke="#fa4545" stroke-width="0.5" stroke-linejoin="round"/><polygon points="634.50,224.47 635.47,223.79 638.70,227.34 637.73,228.03" fill="#ff4a4a" stroke="#ff4a4a" stroke-width="0.5" stroke-linejoin="round"/><polygon points="635.47,223.79 636.55,223.17 639.78,226.72 638.70,227.34" fill="#ff4a4a" stroke="#ff4a4a" stroke-width="0.5" stroke-linejoin="round"/><polygon points="636.55,223.17 637.72,222.64 640.95,226.19 639.78,226.72" fill="#ff4a4a" stroke="#ff4a4a" stroke-width="0.5" stroke-linejoin="round"/><polygon points="637.72,222.64 638.96,222.23 642.18,225.78 640.95,226.19" fill="#ff4a4a" stroke="#ff4a4a" stroke-width="0.5" stroke-linejoin="round"/><polygon points="638.96,222.23 640.22,221.96 643.45,225.51 642.18,225.78" fill="#ff4a4a" stroke="#ff4a4a" stroke-width="0.5" stroke-linejoin="round"/><polygon points="640.22,221.96 641.48,221.84 644.71,225.39 643.45,225.51" fill="#ff4a4a" stroke="#ff4a4a" stroke-width="0.5" stroke-linejoin="round"/><path d="M625.21,216.15L626.02,215.43M628.44,219.70L629.24,218.98" stroke="#8a0000" stroke-width="0.55" fill="none"/><path d="M626.02,215.43L626.96,214.73M629.24,218.98L630.19,218.28" stroke="#8a0000" stroke-width="0.55" fill="none"/><path d="M626.96,214.73L628.03,214.10M630.19,218.28L631.26,217.65" stroke="#8a0000" stroke-width="0.55" fill="none"/><path d="M628.03,214.10L629.19,213.55M631.26,217.65L632.42,217.10" stroke="#8a0000" stroke-width="0.55" fill="none"/><path d="M629.19,213.55L630.41,213.12M632.42,217.10L633.64,216.67" stroke="#8a0000" stroke-width="0.55" fill="none"/><path d="M630.41,213.12L631.67,212.82M633.64,216.67L634.90,216.38" stroke="#8a0000" stroke-width="0.55" fill="none"/><path d="M631.67,212.82L632.94,212.68M634.90,216.38L636.17,216.23" stroke="#8a0000" stroke-width="0.55" fill="none"/><path d="M632.94,212.68L634.17,212.70M636.17,216.23L637.40,216.25" stroke="#8a0000" stroke-width="0.55" fill="none"/><path d="M634.17,212.70L635.35,212.89M637.40,216.25L638.58,216.44" stroke="#8a0000" stroke-width="0.55" fill="none"/><path d="M635.35,212.89L636.44,213.25M638.58,216.44L639.67,216.80" stroke="#8a0000" stroke-width="0.55" fill="none"/><path d="M636.44,213.25L637.41,213.78M639.67,216.80L640.64,217.33" stroke="#8a0000" stroke-width="0.55" fill="none"/><path d="M637.41,213.78L638.25,214.47M640.64,217.33L641.48,218.02" stroke="#8a0000" stroke-width="0.55" fill="none"/><path d="M632.25,228.68L632.05,228.34M635.48,232.23L635.28,231.89" stroke="#8a0000" stroke-width="0.55" fill="none"/><path d="M632.05,228.34L632.01,227.87M635.28,231.89L635.24,231.42" stroke="#8a0000" stroke-width="0.55" fill="none"/><path d="M632.01,227.87L632.16,227.29M635.24,231.42L635.39,230.84" stroke="#8a0000" stroke-width="0.55" fill="none"/><path d="M632.16,227.29L632.49,226.64M635.39,230.84L635.72,230.19" stroke="#8a0000" stroke-width="0.55" fill="none"/><path d="M632.49,226.64L632.99,225.93M635.72,230.19L636.22,229.48" stroke="#8a0000" stroke-width="0.55" fill="none"/><path d="M632.99,225.93L633.67,225.20M636.22,229.48L636.90,228.75" stroke="#8a0000" stroke-width="0.55" fill="none"/><path d="M633.67,225.20L634.50,224.47M636.90,228.75L637.73,228.03" stroke="#8a0000" stroke-width="0.55" fill="none"/><path d="M634.50,224.47L635.47,223.79M637.73,228.03L638.70,227.34" stroke="#8a0000" stroke-width="0.55" fill="none"/><path d="M635.47,223.79L636.55,223.17M638.70,227.34L639.78,226.72" stroke="#8a0000" stroke-width="0.55" fill="none"/><path d="M636.55,223.17L637.72,222.64M639.78,226.72L640.95,226.19" stroke="#8a0000" stroke-width="0.55" fill="none"/><path d="M637.72,222.64L638.96,222.23M640.95,226.19L642.18,225.78" stroke="#8a0000" stroke-width="0.55" fill="none"/><path d="M638.96,222.23L640.22,221.96M642.18,225.78L643.45,225.51" stroke="#8a0000" stroke-width="0.55" fill="none"/><path d="M640.22,221.96L641.48,221.84M643.45,225.51L644.71,225.39" stroke="#8a0000" stroke-width="0.55" fill="none"/><path d="M639.5,195.8 C637,191 633.5,183 633.5,178.8 C633,173 637,169 642,169.4 C647,169.5 652,174 654,180.5 C655,186 651,191 647,192.4 C644,193.5 642,195 640.5,196" fill="none" stroke="#5a5a5a" stroke-width="2.6" stroke-linecap="round" stroke-linejoin="round"/><path d="M639.5,195.8 C637,191 633.5,183 633.5,178.8 C633,173 637,169 642,169.4 C647,169.5 652,174 654,180.5 C655,186 651,191 647,192.4 C644,193.5 642,195 640.5,196" fill="none" stroke="#efefef" stroke-width="1.5" stroke-linecap="round" stroke-linejoin="round"/><path d="M642.5,197 C646,200 647,204 645,208" fill="none" stroke="#777" stroke-width="2.9000000000000004" stroke-linecap="round" stroke-linejoin="round"/><path d="M642.5,197 C646,200 647,204 645,208" fill="none" stroke="#efefef" stroke-width="1.8" stroke-linecap="round" stroke-linejoin="round"/><path d="M625,216.5 C629,214.5 633,215.5 637.4,221" fill="none" stroke="#1f2fe0" stroke-width="2.6" stroke-linecap="round" stroke-linejoin="round"/><path d="M643,218 C648,220 651,224 650.6,230.6 C652,233 654,235 655.7,236.6" fill="none" stroke="#1f2fe0" stroke-width="3.0" stroke-linecap="round" stroke-linejoin="round"/><path d="M664.3,224.6 L660,227.5" fill="none" stroke="#0a1280" stroke-width="2.0" stroke-linecap="round" stroke-linejoin="round"/><polygon points="666.24,233.01 666.42,233.93 667.88,238.08 667.71,237.16" fill="#0b1783" stroke="#0b1783" stroke-width="0.5" stroke-linejoin="round"/><polygon points="666.42,233.93 666.40,234.90 667.87,239.05 667.88,238.08" fill="#0a147c" stroke="#0a147c" stroke-width="0.5" stroke-linejoin="round"/><polygon points="666.40,234.90 666.20,235.90 667.67,240.05 667.87,239.05" fill="#091376" stroke="#091376" stroke-width="0.5" stroke-linejoin="round"/><polygon points="666.20,235.90 665.83,236.91 667.29,241.06 667.67,240.05" fill="#081170" stroke="#081170" stroke-width="0.5" stroke-linejoin="round"/><polygon points="665.83,236.91 665.29,237.91 666.75,242.06 667.29,241.06" fill="#080f6b" stroke="#080f6b" stroke-width="0.5" stroke-linejoin="round"/><polygon points="665.29,237.91 664.62,238.88 666.08,243.03 666.75,242.06" fill="#070e66" stroke="#070e66" stroke-width="0.5" stroke-linejoin="round"/><polygon points="664.62,238.88 663.83,239.81 665.29,243.96 666.08,243.03" fill="#060d63" stroke="#060d63" stroke-width="0.5" stroke-linejoin="round"/><polygon points="663.83,239.81 662.96,240.68 664.42,244.83 665.29,243.96" fill="#060c61" stroke="#060c61" stroke-width="0.5" stroke-linejoin="round"/><polygon points="662.96,240.68 662.03,241.48 663.50,245.63 664.42,244.83" fill="#060c60" stroke="#060c60" stroke-width="0.5" stroke-linejoin="round"/><polygon points="662.03,241.48 661.09,242.18 662.55,246.33 663.50,245.63" fill="#060c61" stroke="#060c61" stroke-width="0.5" stroke-linejoin="round"/><polygon points="661.09,242.18 660.15,242.79 661.62,246.94 662.55,246.33" fill="#060d62" stroke="#060d62" stroke-width="0.5" stroke-linejoin="round"/><polygon points="660.15,242.79 659.26,243.30 660.73,247.45 661.62,246.94" fill="#070d65" stroke="#070d65" stroke-width="0.5" stroke-linejoin="round"/><polygon points="659.26,243.30 658.45,243.70 659.91,247.85 660.73,247.45" fill="#070f68" stroke="#070f68" stroke-width="0.5" stroke-linejoin="round"/><polygon points="658.45,243.70 657.74,243.99 659.20,248.14 659.91,247.85" fill="#08106d" stroke="#08106d" stroke-width="0.5" stroke-linejoin="round"/><polygon points="657.74,243.99 657.16,244.18 658.63,248.33 659.20,248.14" fill="#091273" stroke="#091273" stroke-width="0.5" stroke-linejoin="round"/><polygon points="657.16,244.18 656.74,244.27 658.21,248.42 658.63,248.33" fill="#0a1479" stroke="#0a1479" stroke-width="0.5" stroke-linejoin="round"/><polygon points="656.74,244.27 656.49,244.27 657.95,248.42 658.21,248.42" fill="#0b1680" stroke="#0b1680" stroke-width="0.5" stroke-linejoin="round"/><polygon points="656.49,244.27 656.42,244.20 657.89,248.35 657.95,248.42" fill="#0c1887" stroke="#0c1887" stroke-width="0.5" stroke-linejoin="round"/><polygon points="653.70,229.11 654.64,228.92 656.10,233.07 655.16,233.26" fill="#4257f8" stroke="#4257f8" stroke-width="0.5" stroke-linejoin="round"/><polygon points="654.64,228.92 655.69,228.78 657.16,232.93 656.10,233.07" fill="#475dfc" stroke="#475dfc" stroke-width="0.5" stroke-linejoin="round"/><polygon points="655.69,228.78 656.84,228.69 658.30,232.84 657.16,232.93" fill="#4a60ff" stroke="#4a60ff" stroke-width="0.5" stroke-linejoin="round"/><polygon points="656.84,228.69 658.04,228.68 659.50,232.83 658.30,232.84" fill="#4a60ff" stroke="#4a60ff" stroke-width="0.5" stroke-linejoin="round"/><polygon points="658.04,228.68 659.27,228.76 660.73,232.91 659.50,232.83" fill="#4a60ff" stroke="#4a60ff" stroke-width="0.5" stroke-linejoin="round"/><polygon points="659.27,228.76 660.48,228.93 661.95,233.08 660.73,232.91" fill="#4a60ff" stroke="#4a60ff" stroke-width="0.5" stroke-linejoin="round"/><polygon points="660.48,228.93 661.66,229.21 663.12,233.36 661.95,233.08" fill="#4a60ff" stroke="#4a60ff" stroke-width="0.5" stroke-linejoin="round"/><polygon points="661.66,229.21 662.76,229.59 664.22,233.74 663.12,233.36" fill="#4a60ff" stroke="#4a60ff" stroke-width="0.5" stroke-linejoin="round"/><polygon points="662.76,229.59 663.75,230.08 665.22,234.23 664.22,233.74" fill="#4459fa" stroke="#4459fa" stroke-width="0.5" stroke-linejoin="round"/><polygon points="663.75,230.08 664.62,230.67 666.08,234.82 665.22,234.23" fill="#3a4ef1" stroke="#3a4ef1" stroke-width="0.5" stroke-linejoin="round"/><polygon points="664.62,230.67 665.34,231.37 666.80,235.52 666.08,234.82" fill="#2f42e8" stroke="#2f42e8" stroke-width="0.5" stroke-linejoin="round"/><polygon points="665.34,231.37 665.88,232.15 667.34,236.30 666.80,235.52" fill="#2435de" stroke="#2435de" stroke-width="0.5" stroke-linejoin="round"/><polygon points="665.88,232.15 666.24,233.01 667.71,237.16 667.34,236.30" fill="#1728d3" stroke="#1728d3" stroke-width="0.5" stroke-linejoin="round"/><polygon points="656.42,244.20 656.54,244.06 658.01,248.21 657.89,248.35" fill="#1a2ad5" stroke="#1a2ad5" stroke-width="0.5" stroke-linejoin="round"/><polygon points="656.54,244.06 656.85,243.88 658.32,248.03 658.01,248.21" fill="#2133dc" stroke="#2133dc" stroke-width="0.5" stroke-linejoin="round"/><polygon points="656.85,243.88 657.35,243.67 658.81,247.82 658.32,248.03" fill="#2a3ce3" stroke="#2a3ce3" stroke-width="0.5" stroke-linejoin="round"/><polygon points="657.35,243.67 658.02,243.45 659.48,247.60 658.81,247.82" fill="#3346eb" stroke="#3346eb" stroke-width="0.5" stroke-linejoin="round"/><polygon points="658.02,243.45 658.84,243.24 660.31,247.39 659.48,247.60" fill="#3d51f3" stroke="#3d51f3" stroke-width="0.5" stroke-linejoin="round"/><polygon points="658.84,243.24 659.81,243.06 661.27,247.21 660.31,247.39" fill="#4358f9" stroke="#4358f9" stroke-width="0.5" stroke-linejoin="round"/><polygon points="659.81,243.06 660.88,242.93 662.34,247.08 661.27,247.21" fill="#485efd" stroke="#485efd" stroke-width="0.5" stroke-linejoin="round"/><polygon points="660.88,242.93 662.04,242.85 663.50,247.00 662.34,247.08" fill="#4a60ff" stroke="#4a60ff" stroke-width="0.5" stroke-linejoin="round"/><polygon points="662.04,242.85 663.24,242.86 664.71,247.01 663.50,247.00" fill="#4a60ff" stroke="#4a60ff" stroke-width="0.5" stroke-linejoin="round"/><polygon points="663.24,242.86 664.47,242.95 665.93,247.10 664.71,247.01" fill="#4a60ff" stroke="#4a60ff" stroke-width="0.5" stroke-linejoin="round"/><polygon points="664.47,242.95 665.68,243.14 667.15,247.29 665.93,247.10" fill="#4a60ff" stroke="#4a60ff" stroke-width="0.5" stroke-linejoin="round"/><polygon points="665.68,243.14 666.85,243.43 668.31,247.58 667.15,247.29" fill="#4a60ff" stroke="#4a60ff" stroke-width="0.5" stroke-linejoin="round"/><path d="M653.70,229.11L654.64,228.92M655.16,233.26L656.10,233.07" stroke="#0a1478" stroke-width="0.55" fill="none"/><path d="M654.64,228.92L655.69,228.78M656.10,233.07L657.16,232.93" stroke="#0a1478" stroke-width="0.55" fill="none"/><path d="M655.69,228.78L656.84,228.69M657.16,232.93L658.30,232.84" stroke="#0a1478" stroke-width="0.55" fill="none"/><path d="M656.84,228.69L658.04,228.68M658.30,232.84L659.50,232.83" stroke="#0a1478" stroke-width="0.55" fill="none"/><path d="M658.04,228.68L659.27,228.76M659.50,232.83L660.73,232.91" stroke="#0a1478" stroke-width="0.55" fill="none"/><path d="M659.27,228.76L660.48,228.93M660.73,232.91L661.95,233.08" stroke="#0a1478" stroke-width="0.55" fill="none"/><path d="M660.48,228.93L661.66,229.21M661.95,233.08L663.12,233.36" stroke="#0a1478" stroke-width="0.55" fill="none"/><path d="M661.66,229.21L662.76,229.59M663.12,233.36L664.22,233.74" stroke="#0a1478" stroke-width="0.55" fill="none"/><path d="M662.76,229.59L663.75,230.08M664.22,233.74L665.22,234.23" stroke="#0a1478" stroke-width="0.55" fill="none"/><path d="M663.75,230.08L664.62,230.67M665.22,234.23L666.08,234.82" stroke="#0a1478" stroke-width="0.55" fill="none"/><path d="M664.62,230.67L665.34,231.37M666.08,234.82L666.80,235.52" stroke="#0a1478" stroke-width="0.55" fill="none"/><path d="M665.34,231.37L665.88,232.15M666.80,235.52L667.34,236.30" stroke="#0a1478" stroke-width="0.55" fill="none"/><path d="M665.88,232.15L666.24,233.01M667.34,236.30L667.71,237.16" stroke="#0a1478" stroke-width="0.55" fill="none"/><path d="M656.42,244.20L656.54,244.06M657.89,248.35L658.01,248.21" stroke="#0a1478" stroke-width="0.55" fill="none"/><path d="M656.54,244.06L656.85,243.88M658.01,248.21L658.32,248.03" stroke="#0a1478" stroke-width="0.55" fill="none"/><path d="M656.85,243.88L657.35,243.67M658.32,248.03L658.81,247.82" stroke="#0a1478" stroke-width="0.55" fill="none"/><path d="M657.35,243.67L658.02,243.45M658.81,247.82L659.48,247.60" stroke="#0a1478" stroke-width="0.55" fill="none"/><path d="M658.02,243.45L658.84,243.24M659.48,247.60L660.31,247.39" stroke="#0a1478" stroke-width="0.55" fill="none"/><path d="M658.84,243.24L659.81,243.06M660.31,247.39L661.27,247.21" stroke="#0a1478" stroke-width="0.55" fill="none"/><path d="M659.81,243.06L660.88,242.93M661.27,247.21L662.34,247.08" stroke="#0a1478" stroke-width="0.55" fill="none"/><path d="M660.88,242.93L662.04,242.85M662.34,247.08L663.50,247.00" stroke="#0a1478" stroke-width="0.55" fill="none"/><path d="M662.04,242.85L663.24,242.86M663.50,247.00L664.71,247.01" stroke="#0a1478" stroke-width="0.55" fill="none"/><path d="M663.24,242.86L664.47,242.95M664.71,247.01L665.93,247.10" stroke="#0a1478" stroke-width="0.55" fill="none"/><path d="M664.47,242.95L665.68,243.14M665.93,247.10L667.15,247.29" stroke="#0a1478" stroke-width="0.55" fill="none"/><path d="M665.68,243.14L666.85,243.43M667.15,247.29L668.31,247.58" stroke="#0a1478" stroke-width="0.55" fill="none"/><path d="M566.6,218.3 C563,214 559,210.5 556.4,210.1 C552,209.5 547,211 546.1,213.2 C547,217 548,221 550.2,223.4 C552,227 554,229.5 557.4,231.6" fill="none" stroke="#1f2fe0" stroke-width="1.5" stroke-linecap="round" stroke-linejoin="round"/><path d="M558.4,232 C565,230 573,233 579,239 L578,242 C571,239 564,238 558.4,235 Z" fill="url(#bV)"/><path d="M566.6,218.3 C570,224 574,232 579,240" fill="none" stroke="#888" stroke-width="2.5" stroke-linecap="round" stroke-linejoin="round"/><path d="M566.6,218.3 C570,224 574,232 579,240" fill="none" stroke="#efefef" stroke-width="1.4" stroke-linecap="round" stroke-linejoin="round"/><path d="M563,243 C565,246 568,248 570.7,247.5" fill="none" stroke="#999" stroke-width="2.4000000000000004" stroke-linecap="round" stroke-linejoin="round"/><path d="M563,243 C565,246 568,248 570.7,247.5" fill="none" stroke="#efefef" stroke-width="1.3" stroke-linecap="round" stroke-linejoin="round"/></g>
<rect x="1" y="0" width="684" height="2" fill="#ababab"/>
<rect x="2" y="291" width="682" height="2" fill="#b0b0b0"/>
<rect x="1" y="1" width="1" height="291" fill="#4a4a4a"/>
<rect x="684" y="1" width="1" height="292" fill="#3a3a3a"/>
<rect x="534" y="1" width="1" height="290" fill="#474747"/>
<rect x="2" y="144" width="682" height="1" fill="#474747"/>
</svg></body></html>
